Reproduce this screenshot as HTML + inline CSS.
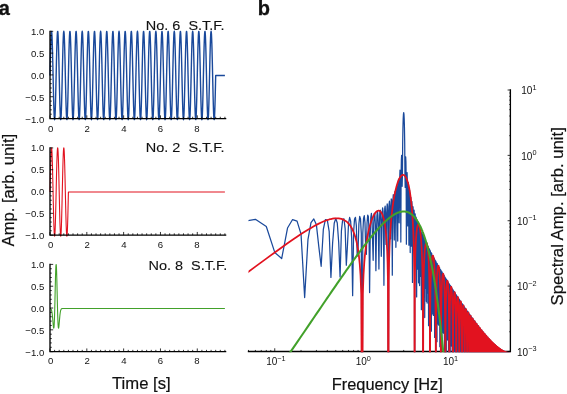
<!DOCTYPE html><html><head><meta charset="utf-8"><style>html,body{margin:0;padding:0;background:#fff}body{width:567px;height:394px;position:relative;overflow:hidden;font-family:"Liberation Sans",sans-serif}</style></head><body><svg width="567" height="394" viewBox="0 0 567 394" style="position:absolute;left:0;top:0;will-change:transform;opacity:0.999;font-family:'Liberation Sans',sans-serif">
<text x="-1.2" y="15.0" font-size="20" font-weight="bold" fill="#111" stroke="#111" stroke-width="0.3">a</text>
<text x="257.7" y="14.9" font-size="20" font-weight="bold" fill="#111" stroke="#111" stroke-width="0.3">b</text>
<path d="M50.00 75.50 L50.18 67.22 L50.37 59.23 L50.55 51.82 L50.74 45.24 L50.92 39.74 L51.10 35.51 L51.29 32.69 L51.47 31.39 L51.66 31.65 L51.84 33.46 L52.03 36.77 L52.21 41.44 L52.39 47.33 L52.58 54.21 L52.76 61.84 L52.95 69.96 L53.13 78.28 L53.31 86.49 L53.50 94.32 L53.68 101.48 L53.87 107.72 L54.05 112.82 L54.23 116.60 L54.42 118.92 L54.60 119.70 L54.79 118.92 L54.97 116.60 L55.15 112.82 L55.34 107.72 L55.52 101.48 L55.71 94.32 L55.89 86.49 L56.08 78.28 L56.26 69.96 L56.44 61.84 L56.63 54.21 L56.81 47.33 L57.00 41.44 L57.18 36.77 L57.36 33.46 L57.55 31.65 L57.73 31.39 L57.92 32.69 L58.10 35.51 L58.28 39.74 L58.47 45.24 L58.65 51.82 L58.84 59.23 L59.02 67.22 L59.20 75.50 L59.39 83.78 L59.57 91.77 L59.76 99.18 L59.94 105.76 L60.13 111.26 L60.31 115.49 L60.49 118.31 L60.68 119.61 L60.86 119.35 L61.05 117.54 L61.23 114.23 L61.41 109.56 L61.60 103.67 L61.78 96.79 L61.97 89.16 L62.15 81.04 L62.33 72.72 L62.52 64.51 L62.70 56.68 L62.89 49.52 L63.07 43.28 L63.26 38.18 L63.44 34.40 L63.62 32.08 L63.81 31.30 L63.99 32.08 L64.18 34.40 L64.36 38.18 L64.54 43.28 L64.73 49.52 L64.91 56.68 L65.10 64.51 L65.28 72.72 L65.46 81.04 L65.65 89.16 L65.83 96.79 L66.02 103.67 L66.20 109.56 L66.38 114.23 L66.57 117.54 L66.75 119.35 L66.94 119.61 L67.12 118.31 L67.31 115.49 L67.49 111.26 L67.67 105.76 L67.86 99.18 L68.04 91.77 L68.23 83.78 L68.41 75.50 L68.59 67.22 L68.78 59.23 L68.96 51.82 L69.15 45.24 L69.33 39.74 L69.51 35.51 L69.70 32.69 L69.88 31.39 L70.07 31.65 L70.25 33.46 L70.44 36.77 L70.62 41.44 L70.80 47.33 L70.99 54.21 L71.17 61.84 L71.36 69.96 L71.54 78.28 L71.72 86.49 L71.91 94.32 L72.09 101.48 L72.28 107.72 L72.46 112.82 L72.64 116.60 L72.83 118.92 L73.01 119.70 L73.20 118.92 L73.38 116.60 L73.56 112.82 L73.75 107.72 L73.93 101.48 L74.12 94.32 L74.30 86.49 L74.49 78.28 L74.67 69.96 L74.85 61.84 L75.04 54.21 L75.22 47.33 L75.41 41.44 L75.59 36.77 L75.77 33.46 L75.96 31.65 L76.14 31.39 L76.33 32.69 L76.51 35.51 L76.69 39.74 L76.88 45.24 L77.06 51.82 L77.25 59.23 L77.43 67.22 L77.62 75.50 L77.80 83.78 L77.98 91.77 L78.17 99.18 L78.35 105.76 L78.54 111.26 L78.72 115.49 L78.90 118.31 L79.09 119.61 L79.27 119.35 L79.46 117.54 L79.64 114.23 L79.82 109.56 L80.01 103.67 L80.19 96.79 L80.38 89.16 L80.56 81.04 L80.74 72.72 L80.93 64.51 L81.11 56.68 L81.30 49.52 L81.48 43.28 L81.67 38.18 L81.85 34.40 L82.03 32.08 L82.22 31.30 L82.40 32.08 L82.59 34.40 L82.77 38.18 L82.95 43.28 L83.14 49.52 L83.32 56.68 L83.51 64.51 L83.69 72.72 L83.87 81.04 L84.06 89.16 L84.24 96.79 L84.43 103.67 L84.61 109.56 L84.79 114.23 L84.98 117.54 L85.16 119.35 L85.35 119.61 L85.53 118.31 L85.72 115.49 L85.90 111.26 L86.08 105.76 L86.27 99.18 L86.45 91.77 L86.64 83.78 L86.82 75.50 L87.00 67.22 L87.19 59.23 L87.37 51.82 L87.56 45.24 L87.74 39.74 L87.92 35.51 L88.11 32.69 L88.29 31.39 L88.48 31.65 L88.66 33.46 L88.85 36.77 L89.03 41.44 L89.21 47.33 L89.40 54.21 L89.58 61.84 L89.77 69.96 L89.95 78.28 L90.13 86.49 L90.32 94.32 L90.50 101.48 L90.69 107.72 L90.87 112.82 L91.05 116.60 L91.24 118.92 L91.42 119.70 L91.61 118.92 L91.79 116.60 L91.97 112.82 L92.16 107.72 L92.34 101.48 L92.53 94.32 L92.71 86.49 L92.90 78.28 L93.08 69.96 L93.26 61.84 L93.45 54.21 L93.63 47.33 L93.82 41.44 L94.00 36.77 L94.18 33.46 L94.37 31.65 L94.55 31.39 L94.74 32.69 L94.92 35.51 L95.10 39.74 L95.29 45.24 L95.47 51.82 L95.66 59.23 L95.84 67.22 L96.03 75.50 L96.21 83.78 L96.39 91.77 L96.58 99.18 L96.76 105.76 L96.95 111.26 L97.13 115.49 L97.31 118.31 L97.50 119.61 L97.68 119.35 L97.87 117.54 L98.05 114.23 L98.23 109.56 L98.42 103.67 L98.60 96.79 L98.79 89.16 L98.97 81.04 L99.15 72.72 L99.34 64.51 L99.52 56.68 L99.71 49.52 L99.89 43.28 L100.08 38.18 L100.26 34.40 L100.44 32.08 L100.63 31.30 L100.81 32.08 L101.00 34.40 L101.18 38.18 L101.36 43.28 L101.55 49.52 L101.73 56.68 L101.92 64.51 L102.10 72.72 L102.28 81.04 L102.47 89.16 L102.65 96.79 L102.84 103.67 L103.02 109.56 L103.20 114.23 L103.39 117.54 L103.57 119.35 L103.76 119.61 L103.94 118.31 L104.13 115.49 L104.31 111.26 L104.49 105.76 L104.68 99.18 L104.86 91.77 L105.05 83.78 L105.23 75.50 L105.41 67.22 L105.60 59.23 L105.78 51.82 L105.97 45.24 L106.15 39.74 L106.33 35.51 L106.52 32.69 L106.70 31.39 L106.89 31.65 L107.07 33.46 L107.26 36.77 L107.44 41.44 L107.62 47.33 L107.81 54.21 L107.99 61.84 L108.18 69.96 L108.36 78.28 L108.54 86.49 L108.73 94.32 L108.91 101.48 L109.10 107.72 L109.28 112.82 L109.46 116.60 L109.65 118.92 L109.83 119.70 L110.02 118.92 L110.20 116.60 L110.38 112.82 L110.57 107.72 L110.75 101.48 L110.94 94.32 L111.12 86.49 L111.31 78.28 L111.49 69.96 L111.67 61.84 L111.86 54.21 L112.04 47.33 L112.23 41.44 L112.41 36.77 L112.59 33.46 L112.78 31.65 L112.96 31.39 L113.15 32.69 L113.33 35.51 L113.51 39.74 L113.70 45.24 L113.88 51.82 L114.07 59.23 L114.25 67.22 L114.44 75.50 L114.62 83.78 L114.80 91.77 L114.99 99.18 L115.17 105.76 L115.36 111.26 L115.54 115.49 L115.72 118.31 L115.91 119.61 L116.09 119.35 L116.28 117.54 L116.46 114.23 L116.64 109.56 L116.83 103.67 L117.01 96.79 L117.20 89.16 L117.38 81.04 L117.56 72.72 L117.75 64.51 L117.93 56.68 L118.12 49.52 L118.30 43.28 L118.49 38.18 L118.67 34.40 L118.85 32.08 L119.04 31.30 L119.22 32.08 L119.41 34.40 L119.59 38.18 L119.77 43.28 L119.96 49.52 L120.14 56.68 L120.33 64.51 L120.51 72.72 L120.69 81.04 L120.88 89.16 L121.06 96.79 L121.25 103.67 L121.43 109.56 L121.61 114.23 L121.80 117.54 L121.98 119.35 L122.17 119.61 L122.35 118.31 L122.54 115.49 L122.72 111.26 L122.90 105.76 L123.09 99.18 L123.27 91.77 L123.46 83.78 L123.64 75.50 L123.82 67.22 L124.01 59.23 L124.19 51.82 L124.38 45.24 L124.56 39.74 L124.74 35.51 L124.93 32.69 L125.11 31.39 L125.30 31.65 L125.48 33.46 L125.67 36.77 L125.85 41.44 L126.03 47.33 L126.22 54.21 L126.40 61.84 L126.59 69.96 L126.77 78.28 L126.95 86.49 L127.14 94.32 L127.32 101.48 L127.51 107.72 L127.69 112.82 L127.87 116.60 L128.06 118.92 L128.24 119.70 L128.43 118.92 L128.61 116.60 L128.79 112.82 L128.98 107.72 L129.16 101.48 L129.35 94.32 L129.53 86.49 L129.72 78.28 L129.90 69.96 L130.08 61.84 L130.27 54.21 L130.45 47.33 L130.64 41.44 L130.82 36.77 L131.00 33.46 L131.19 31.65 L131.37 31.39 L131.56 32.69 L131.74 35.51 L131.92 39.74 L132.11 45.24 L132.29 51.82 L132.48 59.23 L132.66 67.22 L132.84 75.50 L133.03 83.78 L133.21 91.77 L133.40 99.18 L133.58 105.76 L133.77 111.26 L133.95 115.49 L134.13 118.31 L134.32 119.61 L134.50 119.35 L134.69 117.54 L134.87 114.23 L135.05 109.56 L135.24 103.67 L135.42 96.79 L135.61 89.16 L135.79 81.04 L135.97 72.72 L136.16 64.51 L136.34 56.68 L136.53 49.52 L136.71 43.28 L136.90 38.18 L137.08 34.40 L137.26 32.08 L137.45 31.30 L137.63 32.08 L137.82 34.40 L138.00 38.18 L138.18 43.28 L138.37 49.52 L138.55 56.68 L138.74 64.51 L138.92 72.72 L139.10 81.04 L139.29 89.16 L139.47 96.79 L139.66 103.67 L139.84 109.56 L140.02 114.23 L140.21 117.54 L140.39 119.35 L140.58 119.61 L140.76 118.31 L140.95 115.49 L141.13 111.26 L141.31 105.76 L141.50 99.18 L141.68 91.77 L141.87 83.78 L142.05 75.50 L142.23 67.22 L142.42 59.23 L142.60 51.82 L142.79 45.24 L142.97 39.74 L143.15 35.51 L143.34 32.69 L143.52 31.39 L143.71 31.65 L143.89 33.46 L144.08 36.77 L144.26 41.44 L144.44 47.33 L144.63 54.21 L144.81 61.84 L145.00 69.96 L145.18 78.28 L145.36 86.49 L145.55 94.32 L145.73 101.48 L145.92 107.72 L146.10 112.82 L146.28 116.60 L146.47 118.92 L146.65 119.70 L146.84 118.92 L147.02 116.60 L147.20 112.82 L147.39 107.72 L147.57 101.48 L147.76 94.32 L147.94 86.49 L148.13 78.28 L148.31 69.96 L148.49 61.84 L148.68 54.21 L148.86 47.33 L149.05 41.44 L149.23 36.77 L149.41 33.46 L149.60 31.65 L149.78 31.39 L149.97 32.69 L150.15 35.51 L150.33 39.74 L150.52 45.24 L150.70 51.82 L150.89 59.23 L151.07 67.22 L151.25 75.50 L151.44 83.78 L151.62 91.77 L151.81 99.18 L151.99 105.76 L152.18 111.26 L152.36 115.49 L152.54 118.31 L152.73 119.61 L152.91 119.35 L153.10 117.54 L153.28 114.23 L153.46 109.56 L153.65 103.67 L153.83 96.79 L154.02 89.16 L154.20 81.04 L154.38 72.72 L154.57 64.51 L154.75 56.68 L154.94 49.52 L155.12 43.28 L155.31 38.18 L155.49 34.40 L155.67 32.08 L155.86 31.30 L156.04 32.08 L156.23 34.40 L156.41 38.18 L156.59 43.28 L156.78 49.52 L156.96 56.68 L157.15 64.51 L157.33 72.72 L157.51 81.04 L157.70 89.16 L157.88 96.79 L158.07 103.67 L158.25 109.56 L158.43 114.23 L158.62 117.54 L158.80 119.35 L158.99 119.61 L159.17 118.31 L159.36 115.49 L159.54 111.26 L159.72 105.76 L159.91 99.18 L160.09 91.77 L160.28 83.78 L160.46 75.50 L160.64 67.22 L160.83 59.23 L161.01 51.82 L161.20 45.24 L161.38 39.74 L161.56 35.51 L161.75 32.69 L161.93 31.39 L162.12 31.65 L162.30 33.46 L162.49 36.77 L162.67 41.44 L162.85 47.33 L163.04 54.21 L163.22 61.84 L163.41 69.96 L163.59 78.28 L163.77 86.49 L163.96 94.32 L164.14 101.48 L164.33 107.72 L164.51 112.82 L164.69 116.60 L164.88 118.92 L165.06 119.70 L165.25 118.92 L165.43 116.60 L165.61 112.82 L165.80 107.72 L165.98 101.48 L166.17 94.32 L166.35 86.49 L166.54 78.28 L166.72 69.96 L166.90 61.84 L167.09 54.21 L167.27 47.33 L167.46 41.44 L167.64 36.77 L167.82 33.46 L168.01 31.65 L168.19 31.39 L168.38 32.69 L168.56 35.51 L168.74 39.74 L168.93 45.24 L169.11 51.82 L169.30 59.23 L169.48 67.22 L169.67 75.50 L169.85 83.78 L170.03 91.77 L170.22 99.18 L170.40 105.76 L170.59 111.26 L170.77 115.49 L170.95 118.31 L171.14 119.61 L171.32 119.35 L171.51 117.54 L171.69 114.23 L171.87 109.56 L172.06 103.67 L172.24 96.79 L172.43 89.16 L172.61 81.04 L172.79 72.72 L172.98 64.51 L173.16 56.68 L173.35 49.52 L173.53 43.28 L173.72 38.18 L173.90 34.40 L174.08 32.08 L174.27 31.30 L174.45 32.08 L174.64 34.40 L174.82 38.18 L175.00 43.28 L175.19 49.52 L175.37 56.68 L175.56 64.51 L175.74 72.72 L175.92 81.04 L176.11 89.16 L176.29 96.79 L176.48 103.67 L176.66 109.56 L176.84 114.23 L177.03 117.54 L177.21 119.35 L177.40 119.61 L177.58 118.31 L177.77 115.49 L177.95 111.26 L178.13 105.76 L178.32 99.18 L178.50 91.77 L178.69 83.78 L178.87 75.50 L179.05 67.22 L179.24 59.23 L179.42 51.82 L179.61 45.24 L179.79 39.74 L179.97 35.51 L180.16 32.69 L180.34 31.39 L180.53 31.65 L180.71 33.46 L180.90 36.77 L181.08 41.44 L181.26 47.33 L181.45 54.21 L181.63 61.84 L181.82 69.96 L182.00 78.28 L182.18 86.49 L182.37 94.32 L182.55 101.48 L182.74 107.72 L182.92 112.82 L183.10 116.60 L183.29 118.92 L183.47 119.70 L183.66 118.92 L183.84 116.60 L184.02 112.82 L184.21 107.72 L184.39 101.48 L184.58 94.32 L184.76 86.49 L184.95 78.28 L185.13 69.96 L185.31 61.84 L185.50 54.21 L185.68 47.33 L185.87 41.44 L186.05 36.77 L186.23 33.46 L186.42 31.65 L186.60 31.39 L186.79 32.69 L186.97 35.51 L187.15 39.74 L187.34 45.24 L187.52 51.82 L187.71 59.23 L187.89 67.22 L188.07 75.50 L188.26 83.78 L188.44 91.77 L188.63 99.18 L188.81 105.76 L189.00 111.26 L189.18 115.49 L189.36 118.31 L189.55 119.61 L189.73 119.35 L189.92 117.54 L190.10 114.23 L190.28 109.56 L190.47 103.67 L190.65 96.79 L190.84 89.16 L191.02 81.04 L191.20 72.72 L191.39 64.51 L191.57 56.68 L191.76 49.52 L191.94 43.28 L192.13 38.18 L192.31 34.40 L192.49 32.08 L192.68 31.30 L192.86 32.08 L193.05 34.40 L193.23 38.18 L193.41 43.28 L193.60 49.52 L193.78 56.68 L193.97 64.51 L194.15 72.72 L194.33 81.04 L194.52 89.16 L194.70 96.79 L194.89 103.67 L195.07 109.56 L195.25 114.23 L195.44 117.54 L195.62 119.35 L195.81 119.61 L195.99 118.31 L196.18 115.49 L196.36 111.26 L196.54 105.76 L196.73 99.18 L196.91 91.77 L197.10 83.78 L197.28 75.50 L197.46 67.22 L197.65 59.23 L197.83 51.82 L198.02 45.24 L198.20 39.74 L198.38 35.51 L198.57 32.69 L198.75 31.39 L198.94 31.65 L199.12 33.46 L199.31 36.77 L199.49 41.44 L199.67 47.33 L199.86 54.21 L200.04 61.84 L200.23 69.96 L200.41 78.28 L200.59 86.49 L200.78 94.32 L200.96 101.48 L201.15 107.72 L201.33 112.82 L201.51 116.60 L201.70 118.92 L201.88 119.70 L202.07 118.92 L202.25 116.60 L202.43 112.82 L202.62 107.72 L202.80 101.48 L202.99 94.32 L203.17 86.49 L203.36 78.28 L203.54 69.96 L203.72 61.84 L203.91 54.21 L204.09 47.33 L204.28 41.44 L204.46 36.77 L204.64 33.46 L204.83 31.65 L205.01 31.39 L205.20 32.69 L205.38 35.51 L205.56 39.74 L205.75 45.24 L205.93 51.82 L206.12 59.23 L206.30 67.22 L206.49 75.50 L206.67 83.78 L206.85 91.77 L207.04 99.18 L207.22 105.76 L207.41 111.26 L207.59 115.49 L207.77 118.31 L207.96 119.61 L208.14 119.35 L208.33 117.54 L208.51 114.23 L208.69 109.56 L208.88 103.67 L209.06 96.79 L209.25 89.16 L209.43 81.04 L209.61 72.72 L209.80 64.51 L209.98 56.68 L210.17 49.52 L210.35 43.28 L210.54 38.18 L210.72 34.40 L210.90 32.08 L211.09 31.30 L211.27 32.08 L211.46 34.40 L211.64 38.18 L211.82 43.28 L212.01 49.52 L212.19 56.68 L212.38 64.51 L212.56 72.72 L212.74 81.04 L212.93 89.16 L213.11 96.79 L213.30 103.67 L213.48 109.56 L213.66 114.23 L213.85 117.54 L214.03 119.35 L214.22 119.61 L214.40 118.31 L214.59 115.49 L214.77 111.26 L214.95 105.76 L215.14 99.18 L215.32 91.77 L215.51 83.78 L215.69 75.50 L215.87 75.50 L216.06 75.50 L216.24 75.50 L216.43 75.50 L216.61 75.50 L216.79 75.50 L216.98 75.50 L217.16 75.50 L217.35 75.50 L217.53 75.50 L217.72 75.50 L217.90 75.50 L218.08 75.50 L218.27 75.50 L218.45 75.50 L218.64 75.50 L218.82 75.50 L219.00 75.50 L219.19 75.50 L219.37 75.50 L219.56 75.50 L219.74 75.50 L219.92 75.50 L220.11 75.50 L220.29 75.50 L220.48 75.50 L220.66 75.50 L220.84 75.50 L221.03 75.50 L221.21 75.50 L221.40 75.50 L221.58 75.50 L221.77 75.50 L221.95 75.50 L222.13 75.50 L222.32 75.50 L222.50 75.50 L222.69 75.50 L222.87 75.50 L223.05 75.50 L223.24 75.50 L223.42 75.50 L223.61 75.50 L223.79 75.50 L223.97 75.50 L224.16 75.50 L224.34 75.50 L224.53 75.50 L224.71 75.50 L224.90 75.50" fill="none" stroke="#1a499b" stroke-width="1.40" stroke-linejoin="round"/>
<path d="M50.00 31.30 V118.55 H225.60" fill="none" stroke="#000" stroke-width="1.35" stroke-linecap="square"/>
<path d="M50.00 118.55 h3.20 M50.00 114.19 h1.80 M50.00 109.83 h1.80 M50.00 105.46 h1.80 M50.00 101.10 h1.80 M50.00 96.74 h3.20 M50.00 92.38 h1.80 M50.00 88.01 h1.80 M50.00 83.65 h1.80 M50.00 79.29 h1.80 M50.00 74.92 h3.20 M50.00 70.56 h1.80 M50.00 66.20 h1.80 M50.00 61.84 h1.80 M50.00 57.47 h1.80 M50.00 53.11 h3.20 M50.00 48.75 h1.80 M50.00 44.39 h1.80 M50.00 40.02 h1.80 M50.00 35.66 h1.80 M50.00 31.30 h3.20 M50.00 118.55 v-3.20 M54.60 118.55 v-1.80 M59.20 118.55 v-1.80 M63.81 118.55 v-1.80 M68.41 118.55 v-1.80 M73.01 118.55 v-1.80 M77.62 118.55 v-1.80 M82.22 118.55 v-1.80 M86.82 118.55 v-3.20 M91.42 118.55 v-1.80 M96.03 118.55 v-1.80 M100.63 118.55 v-1.80 M105.23 118.55 v-1.80 M109.83 118.55 v-1.80 M114.44 118.55 v-1.80 M119.04 118.55 v-1.80 M123.64 118.55 v-3.20 M128.24 118.55 v-1.80 M132.84 118.55 v-1.80 M137.45 118.55 v-1.80 M142.05 118.55 v-1.80 M146.65 118.55 v-1.80 M151.25 118.55 v-1.80 M155.86 118.55 v-1.80 M160.46 118.55 v-3.20 M165.06 118.55 v-1.80 M169.67 118.55 v-1.80 M174.27 118.55 v-1.80 M178.87 118.55 v-1.80 M183.47 118.55 v-1.80 M188.07 118.55 v-1.80 M192.68 118.55 v-1.80 M197.28 118.55 v-3.20 M201.88 118.55 v-1.80 M206.49 118.55 v-1.80 M211.09 118.55 v-1.80 M215.69 118.55 v-1.80 M220.29 118.55 v-1.80 M224.90 118.55 v-1.80" stroke="#000" stroke-width="0.8" fill="none"/>
<text x="44.3" y="34.70" font-size="9.6" text-anchor="end" fill="#111">1.0</text>
<text x="44.3" y="56.71" font-size="9.6" text-anchor="end" fill="#111">0.5</text>
<text x="44.3" y="78.73" font-size="9.6" text-anchor="end" fill="#111">0.0</text>
<text x="44.3" y="100.74" font-size="9.6" text-anchor="end" fill="#111">−0.5</text>
<text x="44.3" y="122.75" font-size="9.6" text-anchor="end" fill="#111">−1.0</text>
<text x="50.60" y="131.75" font-size="9.6" text-anchor="middle" fill="#111">0</text>
<text x="87.20" y="131.75" font-size="9.6" text-anchor="middle" fill="#111">2</text>
<text x="123.80" y="131.75" font-size="9.6" text-anchor="middle" fill="#111">4</text>
<text x="160.40" y="131.75" font-size="9.6" text-anchor="middle" fill="#111">6</text>
<text x="197.00" y="131.75" font-size="9.6" text-anchor="middle" fill="#111">8</text>
<text x="145.80" y="30.10" font-size="13" textLength="78.8" lengthAdjust="spacingAndGlyphs" fill="#111" stroke="#111" stroke-width="0.12" xml:space="preserve">No. 6  S.T.F.</text>
<path d="M50.00 192.00 L50.18 183.72 L50.37 175.73 L50.55 168.32 L50.74 161.74 L50.92 156.24 L51.10 152.01 L51.29 149.19 L51.47 147.89 L51.66 148.15 L51.84 149.96 L52.03 153.27 L52.21 157.94 L52.39 163.83 L52.58 170.71 L52.76 178.34 L52.95 186.46 L53.13 194.78 L53.31 202.99 L53.50 210.82 L53.68 217.98 L53.87 224.22 L54.05 229.32 L54.23 233.10 L54.42 235.42 L54.60 236.20 L54.79 235.42 L54.97 233.10 L55.15 229.32 L55.34 224.22 L55.52 217.98 L55.71 210.82 L55.89 202.99 L56.08 194.78 L56.26 186.46 L56.44 178.34 L56.63 170.71 L56.81 163.83 L57.00 157.94 L57.18 153.27 L57.36 149.96 L57.55 148.15 L57.73 147.89 L57.92 149.19 L58.10 152.01 L58.28 156.24 L58.47 161.74 L58.65 168.32 L58.84 175.73 L59.02 183.72 L59.20 192.00 L59.39 200.28 L59.57 208.27 L59.76 215.68 L59.94 222.26 L60.13 227.76 L60.31 231.99 L60.49 234.81 L60.68 236.11 L60.86 235.85 L61.05 234.04 L61.23 230.73 L61.41 226.06 L61.60 220.17 L61.78 213.29 L61.97 205.66 L62.15 197.54 L62.33 189.22 L62.52 181.01 L62.70 173.18 L62.89 166.02 L63.07 159.78 L63.26 154.68 L63.44 150.90 L63.62 148.58 L63.81 147.80 L63.99 148.58 L64.18 150.90 L64.36 154.68 L64.54 159.78 L64.73 166.02 L64.91 173.18 L65.10 181.01 L65.28 189.22 L65.46 197.54 L65.65 205.66 L65.83 213.29 L66.02 220.17 L66.20 226.06 L66.38 230.73 L66.57 234.04 L66.75 235.85 L66.94 236.11 L67.12 234.81 L67.31 231.99 L67.49 227.76 L67.67 222.26 L67.86 215.68 L68.04 208.27 L68.23 200.28 L68.41 192.00 L68.59 192.00 L68.78 192.00 L68.96 192.00 L69.15 192.00 L69.33 192.00 L69.51 192.00 L69.70 192.00 L69.88 192.00 L70.07 192.00 L70.25 192.00 L70.44 192.00 L70.62 192.00 L70.80 192.00 L70.99 192.00 L71.17 192.00 L71.36 192.00 L71.54 192.00 L71.72 192.00 L71.91 192.00 L72.09 192.00 L72.28 192.00 L72.46 192.00 L72.64 192.00 L72.83 192.00 L73.01 192.00 L73.20 192.00 L73.38 192.00 L73.56 192.00 L73.75 192.00 L73.93 192.00 L74.12 192.00 L74.30 192.00 L74.49 192.00 L74.67 192.00 L74.85 192.00 L75.04 192.00 L75.22 192.00 L75.41 192.00 L75.59 192.00 L75.77 192.00 L75.96 192.00 L76.14 192.00 L76.33 192.00 L76.51 192.00 L76.69 192.00 L76.88 192.00 L77.06 192.00 L77.25 192.00 L77.43 192.00 L77.62 192.00 L77.80 192.00 L77.98 192.00 L78.17 192.00 L78.35 192.00 L78.54 192.00 L78.72 192.00 L78.90 192.00 L79.09 192.00 L79.27 192.00 L79.46 192.00 L79.64 192.00 L79.82 192.00 L80.01 192.00 L80.19 192.00 L80.38 192.00 L80.56 192.00 L80.74 192.00 L80.93 192.00 L81.11 192.00 L81.30 192.00 L81.48 192.00 L81.67 192.00 L81.85 192.00 L82.03 192.00 L82.22 192.00 L82.40 192.00 L82.59 192.00 L82.77 192.00 L82.95 192.00 L83.14 192.00 L83.32 192.00 L83.51 192.00 L83.69 192.00 L83.87 192.00 L84.06 192.00 L84.24 192.00 L84.43 192.00 L84.61 192.00 L84.79 192.00 L84.98 192.00 L85.16 192.00 L85.35 192.00 L85.53 192.00 L85.72 192.00 L85.90 192.00 L86.08 192.00 L86.27 192.00 L86.45 192.00 L86.64 192.00 L86.82 192.00 L87.00 192.00 L87.19 192.00 L87.37 192.00 L87.56 192.00 L87.74 192.00 L87.92 192.00 L88.11 192.00 L88.29 192.00 L88.48 192.00 L88.66 192.00 L88.85 192.00 L89.03 192.00 L89.21 192.00 L89.40 192.00 L89.58 192.00 L89.77 192.00 L89.95 192.00 L90.13 192.00 L90.32 192.00 L90.50 192.00 L90.69 192.00 L90.87 192.00 L91.05 192.00 L91.24 192.00 L91.42 192.00 L91.61 192.00 L91.79 192.00 L91.97 192.00 L92.16 192.00 L92.34 192.00 L92.53 192.00 L92.71 192.00 L92.90 192.00 L93.08 192.00 L93.26 192.00 L93.45 192.00 L93.63 192.00 L93.82 192.00 L94.00 192.00 L94.18 192.00 L94.37 192.00 L94.55 192.00 L94.74 192.00 L94.92 192.00 L95.10 192.00 L95.29 192.00 L95.47 192.00 L95.66 192.00 L95.84 192.00 L96.03 192.00 L96.21 192.00 L96.39 192.00 L96.58 192.00 L96.76 192.00 L96.95 192.00 L97.13 192.00 L97.31 192.00 L97.50 192.00 L97.68 192.00 L97.87 192.00 L98.05 192.00 L98.23 192.00 L98.42 192.00 L98.60 192.00 L98.79 192.00 L98.97 192.00 L99.15 192.00 L99.34 192.00 L99.52 192.00 L99.71 192.00 L99.89 192.00 L100.08 192.00 L100.26 192.00 L100.44 192.00 L100.63 192.00 L100.81 192.00 L101.00 192.00 L101.18 192.00 L101.36 192.00 L101.55 192.00 L101.73 192.00 L101.92 192.00 L102.10 192.00 L102.28 192.00 L102.47 192.00 L102.65 192.00 L102.84 192.00 L103.02 192.00 L103.20 192.00 L103.39 192.00 L103.57 192.00 L103.76 192.00 L103.94 192.00 L104.13 192.00 L104.31 192.00 L104.49 192.00 L104.68 192.00 L104.86 192.00 L105.05 192.00 L105.23 192.00 L105.41 192.00 L105.60 192.00 L105.78 192.00 L105.97 192.00 L106.15 192.00 L106.33 192.00 L106.52 192.00 L106.70 192.00 L106.89 192.00 L107.07 192.00 L107.26 192.00 L107.44 192.00 L107.62 192.00 L107.81 192.00 L107.99 192.00 L108.18 192.00 L108.36 192.00 L108.54 192.00 L108.73 192.00 L108.91 192.00 L109.10 192.00 L109.28 192.00 L109.46 192.00 L109.65 192.00 L109.83 192.00 L110.02 192.00 L110.20 192.00 L110.38 192.00 L110.57 192.00 L110.75 192.00 L110.94 192.00 L111.12 192.00 L111.31 192.00 L111.49 192.00 L111.67 192.00 L111.86 192.00 L112.04 192.00 L112.23 192.00 L112.41 192.00 L112.59 192.00 L112.78 192.00 L112.96 192.00 L113.15 192.00 L113.33 192.00 L113.51 192.00 L113.70 192.00 L113.88 192.00 L114.07 192.00 L114.25 192.00 L114.44 192.00 L114.62 192.00 L114.80 192.00 L114.99 192.00 L115.17 192.00 L115.36 192.00 L115.54 192.00 L115.72 192.00 L115.91 192.00 L116.09 192.00 L116.28 192.00 L116.46 192.00 L116.64 192.00 L116.83 192.00 L117.01 192.00 L117.20 192.00 L117.38 192.00 L117.56 192.00 L117.75 192.00 L117.93 192.00 L118.12 192.00 L118.30 192.00 L118.49 192.00 L118.67 192.00 L118.85 192.00 L119.04 192.00 L119.22 192.00 L119.41 192.00 L119.59 192.00 L119.77 192.00 L119.96 192.00 L120.14 192.00 L120.33 192.00 L120.51 192.00 L120.69 192.00 L120.88 192.00 L121.06 192.00 L121.25 192.00 L121.43 192.00 L121.61 192.00 L121.80 192.00 L121.98 192.00 L122.17 192.00 L122.35 192.00 L122.54 192.00 L122.72 192.00 L122.90 192.00 L123.09 192.00 L123.27 192.00 L123.46 192.00 L123.64 192.00 L123.82 192.00 L124.01 192.00 L124.19 192.00 L124.38 192.00 L124.56 192.00 L124.74 192.00 L124.93 192.00 L125.11 192.00 L125.30 192.00 L125.48 192.00 L125.67 192.00 L125.85 192.00 L126.03 192.00 L126.22 192.00 L126.40 192.00 L126.59 192.00 L126.77 192.00 L126.95 192.00 L127.14 192.00 L127.32 192.00 L127.51 192.00 L127.69 192.00 L127.87 192.00 L128.06 192.00 L128.24 192.00 L128.43 192.00 L128.61 192.00 L128.79 192.00 L128.98 192.00 L129.16 192.00 L129.35 192.00 L129.53 192.00 L129.72 192.00 L129.90 192.00 L130.08 192.00 L130.27 192.00 L130.45 192.00 L130.64 192.00 L130.82 192.00 L131.00 192.00 L131.19 192.00 L131.37 192.00 L131.56 192.00 L131.74 192.00 L131.92 192.00 L132.11 192.00 L132.29 192.00 L132.48 192.00 L132.66 192.00 L132.84 192.00 L133.03 192.00 L133.21 192.00 L133.40 192.00 L133.58 192.00 L133.77 192.00 L133.95 192.00 L134.13 192.00 L134.32 192.00 L134.50 192.00 L134.69 192.00 L134.87 192.00 L135.05 192.00 L135.24 192.00 L135.42 192.00 L135.61 192.00 L135.79 192.00 L135.97 192.00 L136.16 192.00 L136.34 192.00 L136.53 192.00 L136.71 192.00 L136.90 192.00 L137.08 192.00 L137.26 192.00 L137.45 192.00 L137.63 192.00 L137.82 192.00 L138.00 192.00 L138.18 192.00 L138.37 192.00 L138.55 192.00 L138.74 192.00 L138.92 192.00 L139.10 192.00 L139.29 192.00 L139.47 192.00 L139.66 192.00 L139.84 192.00 L140.02 192.00 L140.21 192.00 L140.39 192.00 L140.58 192.00 L140.76 192.00 L140.95 192.00 L141.13 192.00 L141.31 192.00 L141.50 192.00 L141.68 192.00 L141.87 192.00 L142.05 192.00 L142.23 192.00 L142.42 192.00 L142.60 192.00 L142.79 192.00 L142.97 192.00 L143.15 192.00 L143.34 192.00 L143.52 192.00 L143.71 192.00 L143.89 192.00 L144.08 192.00 L144.26 192.00 L144.44 192.00 L144.63 192.00 L144.81 192.00 L145.00 192.00 L145.18 192.00 L145.36 192.00 L145.55 192.00 L145.73 192.00 L145.92 192.00 L146.10 192.00 L146.28 192.00 L146.47 192.00 L146.65 192.00 L146.84 192.00 L147.02 192.00 L147.20 192.00 L147.39 192.00 L147.57 192.00 L147.76 192.00 L147.94 192.00 L148.13 192.00 L148.31 192.00 L148.49 192.00 L148.68 192.00 L148.86 192.00 L149.05 192.00 L149.23 192.00 L149.41 192.00 L149.60 192.00 L149.78 192.00 L149.97 192.00 L150.15 192.00 L150.33 192.00 L150.52 192.00 L150.70 192.00 L150.89 192.00 L151.07 192.00 L151.25 192.00 L151.44 192.00 L151.62 192.00 L151.81 192.00 L151.99 192.00 L152.18 192.00 L152.36 192.00 L152.54 192.00 L152.73 192.00 L152.91 192.00 L153.10 192.00 L153.28 192.00 L153.46 192.00 L153.65 192.00 L153.83 192.00 L154.02 192.00 L154.20 192.00 L154.38 192.00 L154.57 192.00 L154.75 192.00 L154.94 192.00 L155.12 192.00 L155.31 192.00 L155.49 192.00 L155.67 192.00 L155.86 192.00 L156.04 192.00 L156.23 192.00 L156.41 192.00 L156.59 192.00 L156.78 192.00 L156.96 192.00 L157.15 192.00 L157.33 192.00 L157.51 192.00 L157.70 192.00 L157.88 192.00 L158.07 192.00 L158.25 192.00 L158.43 192.00 L158.62 192.00 L158.80 192.00 L158.99 192.00 L159.17 192.00 L159.36 192.00 L159.54 192.00 L159.72 192.00 L159.91 192.00 L160.09 192.00 L160.28 192.00 L160.46 192.00 L160.64 192.00 L160.83 192.00 L161.01 192.00 L161.20 192.00 L161.38 192.00 L161.56 192.00 L161.75 192.00 L161.93 192.00 L162.12 192.00 L162.30 192.00 L162.49 192.00 L162.67 192.00 L162.85 192.00 L163.04 192.00 L163.22 192.00 L163.41 192.00 L163.59 192.00 L163.77 192.00 L163.96 192.00 L164.14 192.00 L164.33 192.00 L164.51 192.00 L164.69 192.00 L164.88 192.00 L165.06 192.00 L165.25 192.00 L165.43 192.00 L165.61 192.00 L165.80 192.00 L165.98 192.00 L166.17 192.00 L166.35 192.00 L166.54 192.00 L166.72 192.00 L166.90 192.00 L167.09 192.00 L167.27 192.00 L167.46 192.00 L167.64 192.00 L167.82 192.00 L168.01 192.00 L168.19 192.00 L168.38 192.00 L168.56 192.00 L168.74 192.00 L168.93 192.00 L169.11 192.00 L169.30 192.00 L169.48 192.00 L169.67 192.00 L169.85 192.00 L170.03 192.00 L170.22 192.00 L170.40 192.00 L170.59 192.00 L170.77 192.00 L170.95 192.00 L171.14 192.00 L171.32 192.00 L171.51 192.00 L171.69 192.00 L171.87 192.00 L172.06 192.00 L172.24 192.00 L172.43 192.00 L172.61 192.00 L172.79 192.00 L172.98 192.00 L173.16 192.00 L173.35 192.00 L173.53 192.00 L173.72 192.00 L173.90 192.00 L174.08 192.00 L174.27 192.00 L174.45 192.00 L174.64 192.00 L174.82 192.00 L175.00 192.00 L175.19 192.00 L175.37 192.00 L175.56 192.00 L175.74 192.00 L175.92 192.00 L176.11 192.00 L176.29 192.00 L176.48 192.00 L176.66 192.00 L176.84 192.00 L177.03 192.00 L177.21 192.00 L177.40 192.00 L177.58 192.00 L177.77 192.00 L177.95 192.00 L178.13 192.00 L178.32 192.00 L178.50 192.00 L178.69 192.00 L178.87 192.00 L179.05 192.00 L179.24 192.00 L179.42 192.00 L179.61 192.00 L179.79 192.00 L179.97 192.00 L180.16 192.00 L180.34 192.00 L180.53 192.00 L180.71 192.00 L180.90 192.00 L181.08 192.00 L181.26 192.00 L181.45 192.00 L181.63 192.00 L181.82 192.00 L182.00 192.00 L182.18 192.00 L182.37 192.00 L182.55 192.00 L182.74 192.00 L182.92 192.00 L183.10 192.00 L183.29 192.00 L183.47 192.00 L183.66 192.00 L183.84 192.00 L184.02 192.00 L184.21 192.00 L184.39 192.00 L184.58 192.00 L184.76 192.00 L184.95 192.00 L185.13 192.00 L185.31 192.00 L185.50 192.00 L185.68 192.00 L185.87 192.00 L186.05 192.00 L186.23 192.00 L186.42 192.00 L186.60 192.00 L186.79 192.00 L186.97 192.00 L187.15 192.00 L187.34 192.00 L187.52 192.00 L187.71 192.00 L187.89 192.00 L188.07 192.00 L188.26 192.00 L188.44 192.00 L188.63 192.00 L188.81 192.00 L189.00 192.00 L189.18 192.00 L189.36 192.00 L189.55 192.00 L189.73 192.00 L189.92 192.00 L190.10 192.00 L190.28 192.00 L190.47 192.00 L190.65 192.00 L190.84 192.00 L191.02 192.00 L191.20 192.00 L191.39 192.00 L191.57 192.00 L191.76 192.00 L191.94 192.00 L192.13 192.00 L192.31 192.00 L192.49 192.00 L192.68 192.00 L192.86 192.00 L193.05 192.00 L193.23 192.00 L193.41 192.00 L193.60 192.00 L193.78 192.00 L193.97 192.00 L194.15 192.00 L194.33 192.00 L194.52 192.00 L194.70 192.00 L194.89 192.00 L195.07 192.00 L195.25 192.00 L195.44 192.00 L195.62 192.00 L195.81 192.00 L195.99 192.00 L196.18 192.00 L196.36 192.00 L196.54 192.00 L196.73 192.00 L196.91 192.00 L197.10 192.00 L197.28 192.00 L197.46 192.00 L197.65 192.00 L197.83 192.00 L198.02 192.00 L198.20 192.00 L198.38 192.00 L198.57 192.00 L198.75 192.00 L198.94 192.00 L199.12 192.00 L199.31 192.00 L199.49 192.00 L199.67 192.00 L199.86 192.00 L200.04 192.00 L200.23 192.00 L200.41 192.00 L200.59 192.00 L200.78 192.00 L200.96 192.00 L201.15 192.00 L201.33 192.00 L201.51 192.00 L201.70 192.00 L201.88 192.00 L202.07 192.00 L202.25 192.00 L202.43 192.00 L202.62 192.00 L202.80 192.00 L202.99 192.00 L203.17 192.00 L203.36 192.00 L203.54 192.00 L203.72 192.00 L203.91 192.00 L204.09 192.00 L204.28 192.00 L204.46 192.00 L204.64 192.00 L204.83 192.00 L205.01 192.00 L205.20 192.00 L205.38 192.00 L205.56 192.00 L205.75 192.00 L205.93 192.00 L206.12 192.00 L206.30 192.00 L206.49 192.00 L206.67 192.00 L206.85 192.00 L207.04 192.00 L207.22 192.00 L207.41 192.00 L207.59 192.00 L207.77 192.00 L207.96 192.00 L208.14 192.00 L208.33 192.00 L208.51 192.00 L208.69 192.00 L208.88 192.00 L209.06 192.00 L209.25 192.00 L209.43 192.00 L209.61 192.00 L209.80 192.00 L209.98 192.00 L210.17 192.00 L210.35 192.00 L210.54 192.00 L210.72 192.00 L210.90 192.00 L211.09 192.00 L211.27 192.00 L211.46 192.00 L211.64 192.00 L211.82 192.00 L212.01 192.00 L212.19 192.00 L212.38 192.00 L212.56 192.00 L212.74 192.00 L212.93 192.00 L213.11 192.00 L213.30 192.00 L213.48 192.00 L213.66 192.00 L213.85 192.00 L214.03 192.00 L214.22 192.00 L214.40 192.00 L214.59 192.00 L214.77 192.00 L214.95 192.00 L215.14 192.00 L215.32 192.00 L215.51 192.00 L215.69 192.00 L215.87 192.00 L216.06 192.00 L216.24 192.00 L216.43 192.00 L216.61 192.00 L216.79 192.00 L216.98 192.00 L217.16 192.00 L217.35 192.00 L217.53 192.00 L217.72 192.00 L217.90 192.00 L218.08 192.00 L218.27 192.00 L218.45 192.00 L218.64 192.00 L218.82 192.00 L219.00 192.00 L219.19 192.00 L219.37 192.00 L219.56 192.00 L219.74 192.00 L219.92 192.00 L220.11 192.00 L220.29 192.00 L220.48 192.00 L220.66 192.00 L220.84 192.00 L221.03 192.00 L221.21 192.00 L221.40 192.00 L221.58 192.00 L221.77 192.00 L221.95 192.00 L222.13 192.00 L222.32 192.00 L222.50 192.00 L222.69 192.00 L222.87 192.00 L223.05 192.00 L223.24 192.00 L223.42 192.00 L223.61 192.00 L223.79 192.00 L223.97 192.00 L224.16 192.00 L224.34 192.00 L224.53 192.00 L224.71 192.00 L224.90 192.00" fill="none" stroke="#e2121f" stroke-width="1.10" stroke-linejoin="round"/>
<path d="M50.00 147.90 V235.15 H225.60" fill="none" stroke="#000" stroke-width="1.35" stroke-linecap="square"/>
<path d="M50.00 235.15 h3.20 M50.00 230.79 h1.80 M50.00 226.43 h1.80 M50.00 222.06 h1.80 M50.00 217.70 h1.80 M50.00 213.34 h3.20 M50.00 208.97 h1.80 M50.00 204.61 h1.80 M50.00 200.25 h1.80 M50.00 195.89 h1.80 M50.00 191.53 h3.20 M50.00 187.16 h1.80 M50.00 182.80 h1.80 M50.00 178.44 h1.80 M50.00 174.07 h1.80 M50.00 169.71 h3.20 M50.00 165.35 h1.80 M50.00 160.99 h1.80 M50.00 156.62 h1.80 M50.00 152.26 h1.80 M50.00 147.90 h3.20 M50.00 235.15 v-3.20 M54.60 235.15 v-1.80 M59.20 235.15 v-1.80 M63.81 235.15 v-1.80 M68.41 235.15 v-1.80 M73.01 235.15 v-1.80 M77.62 235.15 v-1.80 M82.22 235.15 v-1.80 M86.82 235.15 v-3.20 M91.42 235.15 v-1.80 M96.03 235.15 v-1.80 M100.63 235.15 v-1.80 M105.23 235.15 v-1.80 M109.83 235.15 v-1.80 M114.44 235.15 v-1.80 M119.04 235.15 v-1.80 M123.64 235.15 v-3.20 M128.24 235.15 v-1.80 M132.84 235.15 v-1.80 M137.45 235.15 v-1.80 M142.05 235.15 v-1.80 M146.65 235.15 v-1.80 M151.25 235.15 v-1.80 M155.86 235.15 v-1.80 M160.46 235.15 v-3.20 M165.06 235.15 v-1.80 M169.67 235.15 v-1.80 M174.27 235.15 v-1.80 M178.87 235.15 v-1.80 M183.47 235.15 v-1.80 M188.07 235.15 v-1.80 M192.68 235.15 v-1.80 M197.28 235.15 v-3.20 M201.88 235.15 v-1.80 M206.49 235.15 v-1.80 M211.09 235.15 v-1.80 M215.69 235.15 v-1.80 M220.29 235.15 v-1.80 M224.90 235.15 v-1.80" stroke="#000" stroke-width="0.8" fill="none"/>
<text x="44.3" y="151.30" font-size="9.6" text-anchor="end" fill="#111">1.0</text>
<text x="44.3" y="173.31" font-size="9.6" text-anchor="end" fill="#111">0.5</text>
<text x="44.3" y="195.33" font-size="9.6" text-anchor="end" fill="#111">0.0</text>
<text x="44.3" y="217.34" font-size="9.6" text-anchor="end" fill="#111">−0.5</text>
<text x="44.3" y="239.35" font-size="9.6" text-anchor="end" fill="#111">−1.0</text>
<text x="50.60" y="248.25" font-size="9.6" text-anchor="middle" fill="#111">0</text>
<text x="87.20" y="248.25" font-size="9.6" text-anchor="middle" fill="#111">2</text>
<text x="123.80" y="248.25" font-size="9.6" text-anchor="middle" fill="#111">4</text>
<text x="160.40" y="248.25" font-size="9.6" text-anchor="middle" fill="#111">6</text>
<text x="197.00" y="248.25" font-size="9.6" text-anchor="middle" fill="#111">8</text>
<text x="145.80" y="152.40" font-size="13" textLength="78.8" lengthAdjust="spacingAndGlyphs" fill="#111" stroke="#111" stroke-width="0.12" xml:space="preserve">No. 2  S.T.F.</text>
<path d="M50.00 308.54 L50.18 308.57 L50.37 308.62 L50.55 308.69 L50.74 308.80 L50.92 308.97 L51.10 309.21 L51.29 309.56 L51.47 310.04 L51.66 310.69 L51.84 311.54 L52.03 312.64 L52.21 314.00 L52.39 315.63 L52.58 317.51 L52.76 319.60 L52.95 321.79 L53.13 323.96 L53.31 325.90 L53.50 327.38 L53.68 328.17 L53.87 327.98 L54.05 326.60 L54.23 323.86 L54.42 319.66 L54.60 314.07 L54.79 307.28 L54.97 299.60 L55.15 291.52 L55.34 283.57 L55.52 276.36 L55.71 270.46 L55.89 266.37 L56.08 264.43 L56.26 264.82 L56.44 267.51 L56.63 272.25 L56.81 278.64 L57.00 286.17 L57.18 294.23 L57.36 302.23 L57.55 309.66 L57.73 316.08 L57.92 321.22 L58.10 324.93 L58.28 327.21 L58.47 328.17 L58.65 328.00 L58.84 326.95 L59.02 325.29 L59.20 323.25 L59.39 321.06 L59.57 318.89 L59.76 316.86 L59.94 315.05 L60.13 313.51 L60.31 312.24 L60.49 311.23 L60.68 310.45 L60.86 309.86 L61.05 309.43 L61.23 309.12 L61.41 308.91 L61.60 308.76 L61.78 308.66 L61.97 308.60 L62.15 308.56 L62.33 308.50 L62.52 308.50 L62.70 308.50 L62.89 308.50 L63.07 308.50 L63.26 308.50 L63.44 308.50 L63.62 308.50 L63.81 308.50 L63.99 308.50 L64.18 308.50 L64.36 308.50 L64.54 308.50 L64.73 308.50 L64.91 308.50 L65.10 308.50 L65.28 308.50 L65.46 308.50 L65.65 308.50 L65.83 308.50 L66.02 308.50 L66.20 308.50 L66.38 308.50 L66.57 308.50 L66.75 308.50 L66.94 308.50 L67.12 308.50 L67.31 308.50 L67.49 308.50 L67.67 308.50 L67.86 308.50 L68.04 308.50 L68.23 308.50 L68.41 308.50 L68.59 308.50 L68.78 308.50 L68.96 308.50 L69.15 308.50 L69.33 308.50 L69.51 308.50 L69.70 308.50 L69.88 308.50 L70.07 308.50 L70.25 308.50 L70.44 308.50 L70.62 308.50 L70.80 308.50 L70.99 308.50 L71.17 308.50 L71.36 308.50 L71.54 308.50 L71.72 308.50 L71.91 308.50 L72.09 308.50 L72.28 308.50 L72.46 308.50 L72.64 308.50 L72.83 308.50 L73.01 308.50 L73.20 308.50 L73.38 308.50 L73.56 308.50 L73.75 308.50 L73.93 308.50 L74.12 308.50 L74.30 308.50 L74.49 308.50 L74.67 308.50 L74.85 308.50 L75.04 308.50 L75.22 308.50 L75.41 308.50 L75.59 308.50 L75.77 308.50 L75.96 308.50 L76.14 308.50 L76.33 308.50 L76.51 308.50 L76.69 308.50 L76.88 308.50 L77.06 308.50 L77.25 308.50 L77.43 308.50 L77.62 308.50 L77.80 308.50 L77.98 308.50 L78.17 308.50 L78.35 308.50 L78.54 308.50 L78.72 308.50 L78.90 308.50 L79.09 308.50 L79.27 308.50 L79.46 308.50 L79.64 308.50 L79.82 308.50 L80.01 308.50 L80.19 308.50 L80.38 308.50 L80.56 308.50 L80.74 308.50 L80.93 308.50 L81.11 308.50 L81.30 308.50 L81.48 308.50 L81.67 308.50 L81.85 308.50 L82.03 308.50 L82.22 308.50 L82.40 308.50 L82.59 308.50 L82.77 308.50 L82.95 308.50 L83.14 308.50 L83.32 308.50 L83.51 308.50 L83.69 308.50 L83.87 308.50 L84.06 308.50 L84.24 308.50 L84.43 308.50 L84.61 308.50 L84.79 308.50 L84.98 308.50 L85.16 308.50 L85.35 308.50 L85.53 308.50 L85.72 308.50 L85.90 308.50 L86.08 308.50 L86.27 308.50 L86.45 308.50 L86.64 308.50 L86.82 308.50 L87.00 308.50 L87.19 308.50 L87.37 308.50 L87.56 308.50 L87.74 308.50 L87.92 308.50 L88.11 308.50 L88.29 308.50 L88.48 308.50 L88.66 308.50 L88.85 308.50 L89.03 308.50 L89.21 308.50 L89.40 308.50 L89.58 308.50 L89.77 308.50 L89.95 308.50 L90.13 308.50 L90.32 308.50 L90.50 308.50 L90.69 308.50 L90.87 308.50 L91.05 308.50 L91.24 308.50 L91.42 308.50 L91.61 308.50 L91.79 308.50 L91.97 308.50 L92.16 308.50 L92.34 308.50 L92.53 308.50 L92.71 308.50 L92.90 308.50 L93.08 308.50 L93.26 308.50 L93.45 308.50 L93.63 308.50 L93.82 308.50 L94.00 308.50 L94.18 308.50 L94.37 308.50 L94.55 308.50 L94.74 308.50 L94.92 308.50 L95.10 308.50 L95.29 308.50 L95.47 308.50 L95.66 308.50 L95.84 308.50 L96.03 308.50 L96.21 308.50 L96.39 308.50 L96.58 308.50 L96.76 308.50 L96.95 308.50 L97.13 308.50 L97.31 308.50 L97.50 308.50 L97.68 308.50 L97.87 308.50 L98.05 308.50 L98.23 308.50 L98.42 308.50 L98.60 308.50 L98.79 308.50 L98.97 308.50 L99.15 308.50 L99.34 308.50 L99.52 308.50 L99.71 308.50 L99.89 308.50 L100.08 308.50 L100.26 308.50 L100.44 308.50 L100.63 308.50 L100.81 308.50 L101.00 308.50 L101.18 308.50 L101.36 308.50 L101.55 308.50 L101.73 308.50 L101.92 308.50 L102.10 308.50 L102.28 308.50 L102.47 308.50 L102.65 308.50 L102.84 308.50 L103.02 308.50 L103.20 308.50 L103.39 308.50 L103.57 308.50 L103.76 308.50 L103.94 308.50 L104.13 308.50 L104.31 308.50 L104.49 308.50 L104.68 308.50 L104.86 308.50 L105.05 308.50 L105.23 308.50 L105.41 308.50 L105.60 308.50 L105.78 308.50 L105.97 308.50 L106.15 308.50 L106.33 308.50 L106.52 308.50 L106.70 308.50 L106.89 308.50 L107.07 308.50 L107.26 308.50 L107.44 308.50 L107.62 308.50 L107.81 308.50 L107.99 308.50 L108.18 308.50 L108.36 308.50 L108.54 308.50 L108.73 308.50 L108.91 308.50 L109.10 308.50 L109.28 308.50 L109.46 308.50 L109.65 308.50 L109.83 308.50 L110.02 308.50 L110.20 308.50 L110.38 308.50 L110.57 308.50 L110.75 308.50 L110.94 308.50 L111.12 308.50 L111.31 308.50 L111.49 308.50 L111.67 308.50 L111.86 308.50 L112.04 308.50 L112.23 308.50 L112.41 308.50 L112.59 308.50 L112.78 308.50 L112.96 308.50 L113.15 308.50 L113.33 308.50 L113.51 308.50 L113.70 308.50 L113.88 308.50 L114.07 308.50 L114.25 308.50 L114.44 308.50 L114.62 308.50 L114.80 308.50 L114.99 308.50 L115.17 308.50 L115.36 308.50 L115.54 308.50 L115.72 308.50 L115.91 308.50 L116.09 308.50 L116.28 308.50 L116.46 308.50 L116.64 308.50 L116.83 308.50 L117.01 308.50 L117.20 308.50 L117.38 308.50 L117.56 308.50 L117.75 308.50 L117.93 308.50 L118.12 308.50 L118.30 308.50 L118.49 308.50 L118.67 308.50 L118.85 308.50 L119.04 308.50 L119.22 308.50 L119.41 308.50 L119.59 308.50 L119.77 308.50 L119.96 308.50 L120.14 308.50 L120.33 308.50 L120.51 308.50 L120.69 308.50 L120.88 308.50 L121.06 308.50 L121.25 308.50 L121.43 308.50 L121.61 308.50 L121.80 308.50 L121.98 308.50 L122.17 308.50 L122.35 308.50 L122.54 308.50 L122.72 308.50 L122.90 308.50 L123.09 308.50 L123.27 308.50 L123.46 308.50 L123.64 308.50 L123.82 308.50 L124.01 308.50 L124.19 308.50 L124.38 308.50 L124.56 308.50 L124.74 308.50 L124.93 308.50 L125.11 308.50 L125.30 308.50 L125.48 308.50 L125.67 308.50 L125.85 308.50 L126.03 308.50 L126.22 308.50 L126.40 308.50 L126.59 308.50 L126.77 308.50 L126.95 308.50 L127.14 308.50 L127.32 308.50 L127.51 308.50 L127.69 308.50 L127.87 308.50 L128.06 308.50 L128.24 308.50 L128.43 308.50 L128.61 308.50 L128.79 308.50 L128.98 308.50 L129.16 308.50 L129.35 308.50 L129.53 308.50 L129.72 308.50 L129.90 308.50 L130.08 308.50 L130.27 308.50 L130.45 308.50 L130.64 308.50 L130.82 308.50 L131.00 308.50 L131.19 308.50 L131.37 308.50 L131.56 308.50 L131.74 308.50 L131.92 308.50 L132.11 308.50 L132.29 308.50 L132.48 308.50 L132.66 308.50 L132.84 308.50 L133.03 308.50 L133.21 308.50 L133.40 308.50 L133.58 308.50 L133.77 308.50 L133.95 308.50 L134.13 308.50 L134.32 308.50 L134.50 308.50 L134.69 308.50 L134.87 308.50 L135.05 308.50 L135.24 308.50 L135.42 308.50 L135.61 308.50 L135.79 308.50 L135.97 308.50 L136.16 308.50 L136.34 308.50 L136.53 308.50 L136.71 308.50 L136.90 308.50 L137.08 308.50 L137.26 308.50 L137.45 308.50 L137.63 308.50 L137.82 308.50 L138.00 308.50 L138.18 308.50 L138.37 308.50 L138.55 308.50 L138.74 308.50 L138.92 308.50 L139.10 308.50 L139.29 308.50 L139.47 308.50 L139.66 308.50 L139.84 308.50 L140.02 308.50 L140.21 308.50 L140.39 308.50 L140.58 308.50 L140.76 308.50 L140.95 308.50 L141.13 308.50 L141.31 308.50 L141.50 308.50 L141.68 308.50 L141.87 308.50 L142.05 308.50 L142.23 308.50 L142.42 308.50 L142.60 308.50 L142.79 308.50 L142.97 308.50 L143.15 308.50 L143.34 308.50 L143.52 308.50 L143.71 308.50 L143.89 308.50 L144.08 308.50 L144.26 308.50 L144.44 308.50 L144.63 308.50 L144.81 308.50 L145.00 308.50 L145.18 308.50 L145.36 308.50 L145.55 308.50 L145.73 308.50 L145.92 308.50 L146.10 308.50 L146.28 308.50 L146.47 308.50 L146.65 308.50 L146.84 308.50 L147.02 308.50 L147.20 308.50 L147.39 308.50 L147.57 308.50 L147.76 308.50 L147.94 308.50 L148.13 308.50 L148.31 308.50 L148.49 308.50 L148.68 308.50 L148.86 308.50 L149.05 308.50 L149.23 308.50 L149.41 308.50 L149.60 308.50 L149.78 308.50 L149.97 308.50 L150.15 308.50 L150.33 308.50 L150.52 308.50 L150.70 308.50 L150.89 308.50 L151.07 308.50 L151.25 308.50 L151.44 308.50 L151.62 308.50 L151.81 308.50 L151.99 308.50 L152.18 308.50 L152.36 308.50 L152.54 308.50 L152.73 308.50 L152.91 308.50 L153.10 308.50 L153.28 308.50 L153.46 308.50 L153.65 308.50 L153.83 308.50 L154.02 308.50 L154.20 308.50 L154.38 308.50 L154.57 308.50 L154.75 308.50 L154.94 308.50 L155.12 308.50 L155.31 308.50 L155.49 308.50 L155.67 308.50 L155.86 308.50 L156.04 308.50 L156.23 308.50 L156.41 308.50 L156.59 308.50 L156.78 308.50 L156.96 308.50 L157.15 308.50 L157.33 308.50 L157.51 308.50 L157.70 308.50 L157.88 308.50 L158.07 308.50 L158.25 308.50 L158.43 308.50 L158.62 308.50 L158.80 308.50 L158.99 308.50 L159.17 308.50 L159.36 308.50 L159.54 308.50 L159.72 308.50 L159.91 308.50 L160.09 308.50 L160.28 308.50 L160.46 308.50 L160.64 308.50 L160.83 308.50 L161.01 308.50 L161.20 308.50 L161.38 308.50 L161.56 308.50 L161.75 308.50 L161.93 308.50 L162.12 308.50 L162.30 308.50 L162.49 308.50 L162.67 308.50 L162.85 308.50 L163.04 308.50 L163.22 308.50 L163.41 308.50 L163.59 308.50 L163.77 308.50 L163.96 308.50 L164.14 308.50 L164.33 308.50 L164.51 308.50 L164.69 308.50 L164.88 308.50 L165.06 308.50 L165.25 308.50 L165.43 308.50 L165.61 308.50 L165.80 308.50 L165.98 308.50 L166.17 308.50 L166.35 308.50 L166.54 308.50 L166.72 308.50 L166.90 308.50 L167.09 308.50 L167.27 308.50 L167.46 308.50 L167.64 308.50 L167.82 308.50 L168.01 308.50 L168.19 308.50 L168.38 308.50 L168.56 308.50 L168.74 308.50 L168.93 308.50 L169.11 308.50 L169.30 308.50 L169.48 308.50 L169.67 308.50 L169.85 308.50 L170.03 308.50 L170.22 308.50 L170.40 308.50 L170.59 308.50 L170.77 308.50 L170.95 308.50 L171.14 308.50 L171.32 308.50 L171.51 308.50 L171.69 308.50 L171.87 308.50 L172.06 308.50 L172.24 308.50 L172.43 308.50 L172.61 308.50 L172.79 308.50 L172.98 308.50 L173.16 308.50 L173.35 308.50 L173.53 308.50 L173.72 308.50 L173.90 308.50 L174.08 308.50 L174.27 308.50 L174.45 308.50 L174.64 308.50 L174.82 308.50 L175.00 308.50 L175.19 308.50 L175.37 308.50 L175.56 308.50 L175.74 308.50 L175.92 308.50 L176.11 308.50 L176.29 308.50 L176.48 308.50 L176.66 308.50 L176.84 308.50 L177.03 308.50 L177.21 308.50 L177.40 308.50 L177.58 308.50 L177.77 308.50 L177.95 308.50 L178.13 308.50 L178.32 308.50 L178.50 308.50 L178.69 308.50 L178.87 308.50 L179.05 308.50 L179.24 308.50 L179.42 308.50 L179.61 308.50 L179.79 308.50 L179.97 308.50 L180.16 308.50 L180.34 308.50 L180.53 308.50 L180.71 308.50 L180.90 308.50 L181.08 308.50 L181.26 308.50 L181.45 308.50 L181.63 308.50 L181.82 308.50 L182.00 308.50 L182.18 308.50 L182.37 308.50 L182.55 308.50 L182.74 308.50 L182.92 308.50 L183.10 308.50 L183.29 308.50 L183.47 308.50 L183.66 308.50 L183.84 308.50 L184.02 308.50 L184.21 308.50 L184.39 308.50 L184.58 308.50 L184.76 308.50 L184.95 308.50 L185.13 308.50 L185.31 308.50 L185.50 308.50 L185.68 308.50 L185.87 308.50 L186.05 308.50 L186.23 308.50 L186.42 308.50 L186.60 308.50 L186.79 308.50 L186.97 308.50 L187.15 308.50 L187.34 308.50 L187.52 308.50 L187.71 308.50 L187.89 308.50 L188.07 308.50 L188.26 308.50 L188.44 308.50 L188.63 308.50 L188.81 308.50 L189.00 308.50 L189.18 308.50 L189.36 308.50 L189.55 308.50 L189.73 308.50 L189.92 308.50 L190.10 308.50 L190.28 308.50 L190.47 308.50 L190.65 308.50 L190.84 308.50 L191.02 308.50 L191.20 308.50 L191.39 308.50 L191.57 308.50 L191.76 308.50 L191.94 308.50 L192.13 308.50 L192.31 308.50 L192.49 308.50 L192.68 308.50 L192.86 308.50 L193.05 308.50 L193.23 308.50 L193.41 308.50 L193.60 308.50 L193.78 308.50 L193.97 308.50 L194.15 308.50 L194.33 308.50 L194.52 308.50 L194.70 308.50 L194.89 308.50 L195.07 308.50 L195.25 308.50 L195.44 308.50 L195.62 308.50 L195.81 308.50 L195.99 308.50 L196.18 308.50 L196.36 308.50 L196.54 308.50 L196.73 308.50 L196.91 308.50 L197.10 308.50 L197.28 308.50 L197.46 308.50 L197.65 308.50 L197.83 308.50 L198.02 308.50 L198.20 308.50 L198.38 308.50 L198.57 308.50 L198.75 308.50 L198.94 308.50 L199.12 308.50 L199.31 308.50 L199.49 308.50 L199.67 308.50 L199.86 308.50 L200.04 308.50 L200.23 308.50 L200.41 308.50 L200.59 308.50 L200.78 308.50 L200.96 308.50 L201.15 308.50 L201.33 308.50 L201.51 308.50 L201.70 308.50 L201.88 308.50 L202.07 308.50 L202.25 308.50 L202.43 308.50 L202.62 308.50 L202.80 308.50 L202.99 308.50 L203.17 308.50 L203.36 308.50 L203.54 308.50 L203.72 308.50 L203.91 308.50 L204.09 308.50 L204.28 308.50 L204.46 308.50 L204.64 308.50 L204.83 308.50 L205.01 308.50 L205.20 308.50 L205.38 308.50 L205.56 308.50 L205.75 308.50 L205.93 308.50 L206.12 308.50 L206.30 308.50 L206.49 308.50 L206.67 308.50 L206.85 308.50 L207.04 308.50 L207.22 308.50 L207.41 308.50 L207.59 308.50 L207.77 308.50 L207.96 308.50 L208.14 308.50 L208.33 308.50 L208.51 308.50 L208.69 308.50 L208.88 308.50 L209.06 308.50 L209.25 308.50 L209.43 308.50 L209.61 308.50 L209.80 308.50 L209.98 308.50 L210.17 308.50 L210.35 308.50 L210.54 308.50 L210.72 308.50 L210.90 308.50 L211.09 308.50 L211.27 308.50 L211.46 308.50 L211.64 308.50 L211.82 308.50 L212.01 308.50 L212.19 308.50 L212.38 308.50 L212.56 308.50 L212.74 308.50 L212.93 308.50 L213.11 308.50 L213.30 308.50 L213.48 308.50 L213.66 308.50 L213.85 308.50 L214.03 308.50 L214.22 308.50 L214.40 308.50 L214.59 308.50 L214.77 308.50 L214.95 308.50 L215.14 308.50 L215.32 308.50 L215.51 308.50 L215.69 308.50 L215.87 308.50 L216.06 308.50 L216.24 308.50 L216.43 308.50 L216.61 308.50 L216.79 308.50 L216.98 308.50 L217.16 308.50 L217.35 308.50 L217.53 308.50 L217.72 308.50 L217.90 308.50 L218.08 308.50 L218.27 308.50 L218.45 308.50 L218.64 308.50 L218.82 308.50 L219.00 308.50 L219.19 308.50 L219.37 308.50 L219.56 308.50 L219.74 308.50 L219.92 308.50 L220.11 308.50 L220.29 308.50 L220.48 308.50 L220.66 308.50 L220.84 308.50 L221.03 308.50 L221.21 308.50 L221.40 308.50 L221.58 308.50 L221.77 308.50 L221.95 308.50 L222.13 308.50 L222.32 308.50 L222.50 308.50 L222.69 308.50 L222.87 308.50 L223.05 308.50 L223.24 308.50 L223.42 308.50 L223.61 308.50 L223.79 308.50 L223.97 308.50 L224.16 308.50 L224.34 308.50 L224.53 308.50 L224.71 308.50 L224.90 308.50" fill="none" stroke="#42a12a" stroke-width="1.10" stroke-linejoin="round"/>
<path d="M50.00 264.40 V351.65 H225.60" fill="none" stroke="#000" stroke-width="1.35" stroke-linecap="square"/>
<path d="M50.00 351.65 h3.20 M50.00 347.29 h1.80 M50.00 342.92 h1.80 M50.00 338.56 h1.80 M50.00 334.20 h1.80 M50.00 329.84 h3.20 M50.00 325.47 h1.80 M50.00 321.11 h1.80 M50.00 316.75 h1.80 M50.00 312.39 h1.80 M50.00 308.02 h3.20 M50.00 303.66 h1.80 M50.00 299.30 h1.80 M50.00 294.94 h1.80 M50.00 290.57 h1.80 M50.00 286.21 h3.20 M50.00 281.85 h1.80 M50.00 277.49 h1.80 M50.00 273.12 h1.80 M50.00 268.76 h1.80 M50.00 264.40 h3.20 M50.00 351.65 v-3.20 M54.60 351.65 v-1.80 M59.20 351.65 v-1.80 M63.81 351.65 v-1.80 M68.41 351.65 v-1.80 M73.01 351.65 v-1.80 M77.62 351.65 v-1.80 M82.22 351.65 v-1.80 M86.82 351.65 v-3.20 M91.42 351.65 v-1.80 M96.03 351.65 v-1.80 M100.63 351.65 v-1.80 M105.23 351.65 v-1.80 M109.83 351.65 v-1.80 M114.44 351.65 v-1.80 M119.04 351.65 v-1.80 M123.64 351.65 v-3.20 M128.24 351.65 v-1.80 M132.84 351.65 v-1.80 M137.45 351.65 v-1.80 M142.05 351.65 v-1.80 M146.65 351.65 v-1.80 M151.25 351.65 v-1.80 M155.86 351.65 v-1.80 M160.46 351.65 v-3.20 M165.06 351.65 v-1.80 M169.67 351.65 v-1.80 M174.27 351.65 v-1.80 M178.87 351.65 v-1.80 M183.47 351.65 v-1.80 M188.07 351.65 v-1.80 M192.68 351.65 v-1.80 M197.28 351.65 v-3.20 M201.88 351.65 v-1.80 M206.49 351.65 v-1.80 M211.09 351.65 v-1.80 M215.69 351.65 v-1.80 M220.29 351.65 v-1.80 M224.90 351.65 v-1.80" stroke="#000" stroke-width="0.8" fill="none"/>
<text x="44.3" y="267.80" font-size="9.6" text-anchor="end" fill="#111">1.0</text>
<text x="44.3" y="289.81" font-size="9.6" text-anchor="end" fill="#111">0.5</text>
<text x="44.3" y="311.82" font-size="9.6" text-anchor="end" fill="#111">0.0</text>
<text x="44.3" y="333.84" font-size="9.6" text-anchor="end" fill="#111">−0.5</text>
<text x="44.3" y="355.85" font-size="9.6" text-anchor="end" fill="#111">−1.0</text>
<text x="50.60" y="364.25" font-size="9.6" text-anchor="middle" fill="#111">0</text>
<text x="87.20" y="364.25" font-size="9.6" text-anchor="middle" fill="#111">2</text>
<text x="123.80" y="364.25" font-size="9.6" text-anchor="middle" fill="#111">4</text>
<text x="160.40" y="364.25" font-size="9.6" text-anchor="middle" fill="#111">6</text>
<text x="197.00" y="364.25" font-size="9.6" text-anchor="middle" fill="#111">8</text>
<text x="148.50" y="270.30" font-size="13" textLength="78.8" lengthAdjust="spacingAndGlyphs" fill="#111" stroke="#111" stroke-width="0.12" xml:space="preserve">No. 8  S.T.F.</text>
<text x="112" y="388.9" font-size="16.4" textLength="58.6" lengthAdjust="spacingAndGlyphs" fill="#111" stroke="#111" stroke-width="0.2">Time [s]</text>
<text x="331.8" y="389.7" font-size="16.2" textLength="111" lengthAdjust="spacingAndGlyphs" fill="#111" stroke="#111" stroke-width="0.2">Frequency [Hz]</text>
<text transform="translate(14.4,246.4) rotate(-90)" font-size="16.6" textLength="112.6" lengthAdjust="spacingAndGlyphs" fill="#111" stroke="#111" stroke-width="0.2">Amp. [arb. unit]</text>
<text transform="translate(563.1,305.4) rotate(-90)" font-size="16.6" textLength="178.2" lengthAdjust="spacingAndGlyphs" fill="#111" stroke="#111" stroke-width="0.2">Spectral Amp. [arb. unit]</text>
<path d="M248.48 351.45 H510.38 V90.00" fill="none" stroke="#000" stroke-width="1.35" stroke-linecap="square"/>
<path d="M248.48 351.45 v-1.50 M255.39 351.45 v-1.50 M261.24 351.45 v-1.50 M266.30 351.45 v-1.50 M270.77 351.45 v-1.50 M274.76 351.45 v-3.20 M301.04 351.45 v-1.50 M316.41 351.45 v-1.50 M327.32 351.45 v-1.50 M335.78 351.45 v-1.50 M342.69 351.45 v-1.50 M348.54 351.45 v-1.50 M353.60 351.45 v-1.50 M358.07 351.45 v-1.50 M362.06 351.45 v-3.20 M388.34 351.45 v-1.50 M403.71 351.45 v-1.50 M414.62 351.45 v-1.50 M423.08 351.45 v-1.50 M429.99 351.45 v-1.50 M435.84 351.45 v-1.50 M440.90 351.45 v-1.50 M445.37 351.45 v-1.50 M449.36 351.45 v-3.20 M475.64 351.45 v-1.50 M491.01 351.45 v-1.50 M501.92 351.45 v-1.50 M510.38 351.45 v-1.50 M510.38 351.45 h-2.80 M510.38 331.77 h-1.10 M510.38 320.26 h-1.10 M510.38 312.10 h-1.10 M510.38 305.76 h-1.10 M510.38 300.59 h-1.10 M510.38 296.21 h-1.10 M510.38 292.42 h-1.10 M510.38 289.08 h-1.10 M510.38 286.09 h-2.80 M510.38 266.41 h-1.10 M510.38 254.90 h-1.10 M510.38 246.74 h-1.10 M510.38 240.40 h-1.10 M510.38 235.23 h-1.10 M510.38 230.85 h-1.10 M510.38 227.06 h-1.10 M510.38 223.72 h-1.10 M510.38 220.72 h-2.80 M510.38 201.05 h-1.10 M510.38 189.54 h-1.10 M510.38 181.37 h-1.10 M510.38 175.04 h-1.10 M510.38 169.86 h-1.10 M510.38 165.49 h-1.10 M510.38 161.70 h-1.10 M510.38 158.35 h-1.10 M510.38 155.36 h-2.80 M510.38 135.69 h-1.10 M510.38 124.18 h-1.10 M510.38 116.01 h-1.10 M510.38 109.68 h-1.10 M510.38 104.50 h-1.10 M510.38 100.12 h-1.10 M510.38 96.33 h-1.10 M510.38 92.99 h-1.10 M510.38 90.00 h-2.80" stroke="#000" stroke-width="0.8" fill="none"/>
<clipPath id="cp"><rect x="248.48" y="88.00" width="262.20" height="264.15"/></clipPath>
<g clip-path="url(#cp)">
<path d="M240.02 221.96 L255.39 219.34 L266.30 226.51 L274.76 252.43 L281.67 258.58 L287.52 228.04 L292.58 219.55 L297.05 221.09 L301.04 234.09 L304.65 297.55 L307.95 239.68 L310.99 222.66 L313.80 218.93 L316.41 224.86 L318.86 247.17 L321.16 266.30 L323.33 229.47 L325.38 219.57 L327.32 220.04 L329.17 231.35 L330.93 277.46 L332.62 242.69 L334.23 223.19 L335.78 218.33 L337.27 223.06 L338.70 242.43 L340.08 277.07 L341.41 230.83 L342.69 219.39 L343.94 218.79 L345.14 228.56 L346.31 265.25 L347.44 245.99 L348.54 223.55 L349.61 217.49 L350.64 221.09 L351.66 237.97 L352.64 295.71 L353.60 232.11 L354.54 218.98 L355.45 217.31 L356.34 225.66 L357.21 256.07 L358.07 249.78 L358.90 223.72 L359.71 216.41 L360.51 218.89 L361.29 233.63 L362.06 482.17 L362.81 233.34 L363.55 218.32 L364.27 215.56 L364.98 222.58 L365.67 248.35 L366.36 254.36 L367.03 223.66 L367.69 215.03 L368.34 216.41 L368.97 229.25 L369.60 292.55 L370.22 234.53 L370.82 217.35 L371.42 213.46 L372.01 219.22 L372.59 241.37 L373.16 260.33 L373.72 223.34 L374.27 213.27 L374.82 213.56 L375.35 224.69 L375.89 270.63 L376.41 235.67 L376.92 215.99 L377.43 210.94 L377.93 215.49 L378.43 234.66 L378.92 269.11 L379.40 222.67 L379.88 211.03 L380.35 210.22 L380.82 219.78 L381.28 256.26 L381.73 236.79 L382.18 214.12 L382.62 207.84 L383.06 211.21 L383.49 227.85 L383.92 285.35 L384.35 221.51 L384.76 208.14 L385.18 206.21 L385.59 214.30 L385.99 244.44 L386.40 237.88 L386.79 211.53 L387.19 203.94 L387.57 206.13 L387.96 220.57 L388.34 482.17 L388.72 219.66 L389.09 204.31 L389.46 201.21 L389.83 207.89 L390.19 233.31 L390.55 238.95 L390.91 207.88 L391.26 198.85 L391.61 199.84 L391.95 212.26 L392.30 275.14 L392.64 216.67 L392.97 199.03 L393.31 194.67 L393.64 199.94 L393.97 221.57 L394.29 240.00 L394.62 202.45 L394.94 191.80 L395.25 191.50 L395.57 202.00 L395.88 247.27 L396.19 211.63 L396.50 191.23 L396.80 185.41 L397.10 189.16 L397.40 207.49 L397.70 241.04 L397.99 193.65 L398.29 181.01 L398.58 179.14 L398.87 187.55 L399.15 222.81 L399.44 202.02 L399.72 177.93 L400.00 170.11 L400.28 171.80 L400.55 186.61 L400.83 242.08 L401.10 175.98 L401.37 160.07 L401.63 155.26 L401.90 160.03 L402.16 186.28 L402.43 175.04 L402.69 142.86 L402.95 127.61 L403.20 118.81 L403.46 114.10 L403.71 112.67 L403.96 114.29 L404.21 119.19 L404.46 128.17 L404.71 143.61 L404.96 175.97 L405.20 187.40 L405.44 161.34 L405.68 156.76 L405.92 161.75 L406.16 177.85 L406.40 244.13 L406.63 188.85 L406.86 174.23 L407.10 172.73 L407.33 180.74 L407.56 205.01 L407.78 225.99 L408.01 190.92 L408.23 182.69 L408.46 184.76 L408.68 197.59 L408.90 245.16 L409.12 211.80 L409.34 193.66 L409.56 190.10 L409.77 196.10 L409.99 216.69 L410.20 252.53 L410.41 207.44 L410.63 197.13 L410.84 197.62 L411.04 208.46 L411.25 246.20 L411.46 227.96 L411.66 206.51 L411.87 201.44 L412.07 205.99 L412.27 223.81 L412.48 282.47 L412.68 219.79 L412.87 207.55 L413.07 206.76 L413.27 215.97 L413.47 247.23 L413.66 241.79 L413.85 216.56 L414.05 210.07 L414.24 213.36 L414.43 228.90 L414.62 482.17 L414.81 230.20 L415.00 215.95 L415.18 213.96 L415.37 221.75 L415.56 248.28 L415.74 255.04 L415.92 225.09 L416.11 217.19 L416.29 219.32 L416.47 232.89 L416.65 296.92 L416.83 239.62 L417.01 223.17 L417.19 220.00 L417.36 226.48 L417.54 249.34 L417.71 269.01 L417.89 232.73 L418.06 223.36 L418.23 224.37 L418.41 236.20 L418.58 282.84 L418.75 248.59 L418.92 229.62 L419.09 225.27 L419.25 230.53 L419.42 250.40 L419.59 285.56 L419.75 239.82 L419.92 228.90 L420.08 228.80 L420.25 239.08 L420.41 276.27 L420.57 257.51 L420.73 235.57 L420.90 230.01 L421.06 234.11 L421.22 251.49 L421.37 309.72 L421.53 246.62 L421.69 233.99 L421.85 232.81 L422.00 241.65 L422.16 272.55 L422.31 266.76 L422.47 241.19 L422.62 234.38 L422.78 237.35 L422.93 252.58 L423.08 482.17 L423.23 253.29 L423.38 238.76 L423.53 236.50 L423.68 244.01 L423.83 270.29 L423.98 276.79 L424.13 246.60 L424.27 238.46 L424.42 240.35 L424.57 253.70 L424.71 317.51 L424.86 259.99 L425.00 243.33 L425.15 239.95 L425.29 246.23 L425.43 268.89 L425.57 288.37 L425.72 251.90 L425.86 242.35 L426.00 243.17 L426.14 254.83 L426.28 301.30 L426.42 266.88 L426.56 247.74 L426.69 243.23 L426.83 248.33 L426.97 268.05 L427.11 303.05 L427.24 257.17 L427.38 246.09 L427.51 245.85 L427.65 255.99 L427.78 293.04 L427.91 274.15 L428.05 252.07 L428.18 246.38 L428.31 250.35 L428.44 267.60 L428.58 325.71 L428.71 262.49 L428.84 249.73 L428.97 248.44 L429.10 257.16 L429.23 287.95 L429.36 282.04 L429.48 256.36 L429.61 249.44 L429.74 252.31 L429.87 267.44 L429.99 482.17 L430.12 267.94 L430.24 253.31 L430.37 250.94 L430.49 258.37 L430.62 284.55 L430.74 290.95 L430.87 260.67 L430.99 252.44 L431.11 254.24 L431.24 267.49 L431.36 331.22 L431.48 273.61 L431.60 256.86 L431.72 253.40 L431.84 259.59 L431.96 282.18 L432.08 301.57 L432.20 265.02 L432.32 255.40 L432.44 256.14 L432.56 267.72 L432.68 314.12 L432.79 279.62 L432.91 260.41 L433.03 255.83 L433.14 260.85 L433.26 280.50 L433.38 315.43 L433.49 269.48 L433.61 258.34 L433.72 258.03 L433.84 268.10 L433.95 305.09 L434.06 286.13 L434.18 263.99 L434.29 258.24 L434.40 262.14 L434.51 279.33 L434.63 337.38 L434.74 274.09 L434.85 261.28 L434.96 259.92 L435.07 268.59 L435.18 299.32 L435.29 293.36 L435.40 267.62 L435.51 260.64 L435.62 263.46 L435.73 278.53 L435.84 482.17 L435.95 278.92 L436.05 264.24 L436.16 261.82 L436.27 269.19 L436.37 295.32 L436.48 301.67 L436.59 271.34 L436.69 263.06 L436.80 264.81 L436.91 278.02 L437.01 341.69 L437.12 284.04 L437.22 267.24 L437.32 263.73 L437.43 269.88 L437.53 292.41 L437.64 311.77 L437.74 275.17 L437.84 265.50 L437.94 266.20 L438.05 277.74 L438.15 324.09 L438.25 289.55 L438.35 270.30 L438.45 265.67 L438.55 270.65 L438.65 290.26 L438.75 325.15 L438.86 279.16 L438.96 267.97 L439.05 267.63 L439.15 277.66 L439.25 314.61 L439.35 295.61 L439.45 273.43 L439.55 267.64 L439.65 271.50 L439.74 288.65 L439.84 346.66 L439.94 283.34 L440.04 270.49 L440.13 269.10 L440.23 277.74 L440.33 308.43 L440.42 302.43 L440.52 276.66 L440.61 269.65 L440.71 272.42 L440.80 287.46 L440.90 482.17 L440.99 287.78 L441.09 273.07 L441.18 270.62 L441.28 277.95 L441.37 304.05 L441.46 310.37 L441.56 280.01 L441.65 271.70 L441.74 273.41 L441.84 286.59 L441.93 350.23 L442.02 292.55 L442.11 275.72 L442.20 272.18 L442.30 278.30 L442.39 300.80 L442.48 320.13 L442.57 283.50 L442.66 273.80 L442.75 274.47 L442.84 285.98 L442.93 332.30 L443.02 297.74 L443.11 278.45 L443.20 273.80 L443.29 278.75 L443.38 298.34 L443.46 333.20 L443.55 287.18 L443.64 275.97 L443.73 275.59 L443.82 285.59 L443.91 322.52 L443.99 303.49 L444.08 281.29 L444.17 275.47 L444.25 279.31 L444.34 296.44 L444.43 354.42 L444.51 291.07 L444.60 278.20 L444.69 276.78 L444.77 285.39 L444.86 316.06 L444.94 310.03 L445.03 284.24 L445.11 277.20 L445.20 279.96 L445.28 294.97 L445.37 482.17 L445.45 295.25 L445.53 280.51 L445.62 278.03 L445.70 285.35 L445.78 311.42 L445.87 317.72 L445.95 287.33 L446.03 279.00 L446.12 280.69 L446.20 293.85 L446.28 357.47 L446.36 299.76 L446.45 282.91 L446.53 279.35 L446.61 285.45 L446.69 307.93 L446.77 327.23 L446.85 290.59 L446.93 280.86 L447.01 281.51 L447.09 293.00 L447.18 339.30 L447.26 304.72 L447.34 285.41 L447.42 280.74 L447.50 285.67 L447.57 305.23 L447.65 340.08 L447.73 294.04 L447.81 282.81 L447.89 282.41 L447.97 292.39 L448.05 329.30 L448.13 310.26 L448.21 288.03 L448.28 282.20 L448.36 286.01 L448.44 303.12 L448.52 361.09 L448.59 297.72 L448.67 284.83 L448.75 283.39 L448.83 291.98 L448.90 322.63 L448.98 316.59 L449.06 290.78 L449.13 283.73 L449.21 286.46 L449.28 301.46 L449.36 482.17 L449.44 301.70 L449.51 286.95 L449.59 284.45 L449.66 291.75 L449.74 317.80 L449.81 324.09 L449.89 293.68 L449.96 285.33 L450.04 287.01 L450.11 300.14 L450.19 363.75 L450.26 306.03 L450.33 289.16 L450.41 285.59 L450.48 291.66 L450.55 314.13 L450.63 333.42 L450.70 296.75 L450.77 287.02 L450.85 287.65 L450.92 299.12 L450.99 345.41 L451.07 310.81 L451.14 291.49 L451.21 286.80 L451.28 291.72 L451.35 311.26 L451.43 346.09 L451.50 300.03 L451.57 288.79 L451.64 288.38 L451.71 298.35 L451.78 335.24 L451.85 316.18 L451.93 293.94 L452.00 288.09 L452.07 291.89 L452.14 308.99 L452.21 366.94 L452.28 303.56 L452.35 290.65 L452.42 289.20 L452.49 297.78 L452.56 328.41 L452.63 322.36 L452.70 296.53 L452.77 289.46 L452.84 292.19 L452.90 307.17 L452.97 482.17 L453.04 307.38 L453.11 292.61 L453.18 290.11 L453.25 297.39 L453.32 323.43 L453.38 329.70 L453.45 299.28 L453.52 290.92 L453.59 292.58 L453.66 305.71 L453.72 369.30 L453.79 311.56 L453.86 294.69 L453.93 291.10 L453.99 297.16 L454.06 319.62 L454.13 338.89 L454.19 302.21 L454.26 292.46 L454.33 293.09 L454.39 304.55 L454.46 350.82 L454.53 316.21 L454.59 296.87 L454.66 292.17 L454.72 297.08 L454.79 316.61 L454.86 351.43 L454.92 305.36 L454.99 294.10 L455.05 293.68 L455.12 303.64 L455.18 340.51 L455.25 321.45 L455.31 299.19 L455.38 293.33 L455.44 297.12 L455.51 314.21 L455.57 372.15 L455.64 308.76 L455.70 295.84 L455.76 294.38 L455.83 302.94 L455.89 333.57 L455.96 327.50 L456.02 301.66 L456.08 294.58 L456.15 297.29 L456.21 312.26 L456.27 482.17 L456.34 312.45 L456.40 297.68 L456.46 295.16 L456.52 302.43 L456.59 328.46 L456.65 334.72 L456.71 304.29 L456.77 295.92 L456.84 297.57 L456.90 310.68 L456.96 374.27 L457.02 316.52 L457.09 299.63 L457.15 296.03 L457.21 302.09 L457.27 324.53 L457.33 343.79 L457.39 307.11 L457.45 297.35 L457.52 297.96 L457.58 309.41 L457.64 355.67 L457.70 321.05 L457.76 301.71 L457.82 297.00 L457.88 301.89 L457.94 321.42 L458.00 356.22 L458.06 310.14 L458.12 298.88 L458.18 298.45 L458.24 308.39 L458.30 345.26 L458.36 326.18 L458.42 303.92 L458.48 298.05 L458.54 301.83 L458.60 318.90 L458.66 376.83 L458.72 313.44 L458.78 300.51 L458.84 299.04 L458.90 307.59 L458.96 338.21 L459.01 332.13 L459.07 306.28 L459.13 299.19 L459.19 301.90 L459.25 316.86 L459.31 482.17 L459.37 317.03 L459.42 302.25 L459.48 299.72 L459.54 306.98 L459.60 333.00 L459.66 339.25 L459.71 308.81 L459.77 300.43 L459.83 302.08 L459.89 315.18 L459.94 378.76 L460.00 321.00 L460.06 304.10 L460.12 300.50 L460.17 306.54 L460.23 328.98 L460.29 348.23 L460.34 311.54 L460.40 301.77 L460.46 302.37 L460.51 313.81 L460.57 360.07 L460.63 325.44 L460.68 306.09 L460.74 301.37 L460.79 306.25 L460.85 325.77 L460.91 360.57 L460.96 314.48 L461.02 303.21 L461.07 302.77 L461.13 312.70 L461.18 349.56 L461.24 330.48 L461.30 308.21 L461.35 302.33 L461.41 306.10 L461.46 323.17 L461.52 381.09 L461.57 317.68 L461.63 304.75 L461.68 303.27 L461.74 311.82 L461.79 342.42 L461.85 336.34 L461.90 310.48 L461.95 303.39 L462.01 306.08 L462.06 321.04 L462.12 482.17 L462.17 321.19 L462.23 306.40 L462.28 303.87 L462.33 311.12 L462.39 337.14 L462.44 343.38 L462.49 312.93 L462.55 304.54 L462.60 306.18 L462.65 319.28 L462.71 382.84 L462.76 325.08 L462.81 308.18 L462.87 304.56 L462.92 310.60 L462.97 333.03 L463.03 352.27 L463.08 315.57 L463.13 305.80 L463.19 306.39 L463.24 317.83 L463.29 364.08 L463.34 329.44 L463.40 310.08 L463.45 305.35 L463.50 310.23 L463.55 329.74 L463.60 364.53 L463.66 318.44 L463.71 307.16 L463.76 306.71 L463.81 316.64 L463.86 353.50 L463.92 334.40 L463.97 312.13 L464.02 306.24 L464.07 310.01 L464.12 327.07 L464.17 384.98 L464.22 321.57 L464.28 308.62 L464.33 307.14 L464.38 315.68 L464.43 346.28 L464.48 340.19 L464.53 314.33 L464.58 307.23 L464.63 309.91 L464.68 324.86 L464.73 482.17 L464.78 325.01 L464.83 310.21 L464.88 307.66 L464.93 314.91 L464.98 340.92 L465.03 347.16 L465.08 316.70 L465.14 308.31 L465.19 309.94 L465.23 323.03 L465.28 386.59 L465.33 328.82 L465.38 311.91 L465.43 308.29 L465.48 314.32 L465.53 336.74 L465.58 355.98 L465.63 319.28 L465.68 309.50 L465.73 310.08 L465.78 321.51 L465.83 367.75 L465.88 333.11 L465.93 313.75 L465.98 309.01 L466.02 313.89 L466.07 333.39 L466.12 368.18 L466.17 322.08 L466.22 310.79 L466.27 310.34 L466.32 320.26 L466.37 357.11 L466.41 338.01 L466.46 315.72 L466.51 309.83 L466.56 313.59 L466.61 330.65 L466.65 388.56 L466.70 325.14 L466.75 312.19 L466.80 310.70 L466.85 319.23 L466.89 349.83 L466.94 343.73 L466.99 317.86 L467.04 310.75 L467.08 313.44 L467.13 328.38 L467.18 482.17 L467.23 328.51 L467.27 313.71 L467.32 311.16 L467.37 318.40 L467.42 344.40 L467.46 350.64 L467.51 320.18 L467.56 311.78 L467.60 313.40 L467.65 326.49 L467.70 390.04 L467.74 332.27 L467.79 315.35 L467.84 311.72 L467.88 317.75 L467.93 340.17 L467.98 359.40 L468.02 322.69 L468.07 312.90 L468.12 313.49 L468.16 324.91 L468.21 371.14 L468.25 336.49 L468.30 317.13 L468.35 312.39 L468.39 317.26 L468.44 336.75 L468.48 371.53 L468.53 325.43 L468.58 314.13 L468.62 313.68 L468.67 323.60 L468.71 360.44 L468.76 341.33 L468.80 319.05 L468.85 313.15 L468.89 316.91 L468.94 333.95 L468.98 391.86 L469.03 328.43 L469.07 315.48 L469.12 313.98 L469.16 322.51 L469.21 353.10 L469.25 347.00 L469.30 321.13 L469.34 314.02 L469.39 316.69 L469.43 331.63 L469.48 482.17 L469.52 331.75 L469.57 316.94 L469.61 314.39 L469.66 321.63 L469.70 347.63 L469.74 353.85 L469.79 323.39 L469.83 314.98 L469.88 316.60 L469.92 329.68 L469.97 393.23 L470.01 335.45 L470.05 318.53 L470.10 314.90 L470.14 320.92 L470.19 343.33 L470.23 362.56 L470.27 325.85 L470.32 316.05 L470.36 316.63 L470.40 328.05 L470.45 374.28 L470.49 339.63 L470.53 320.25 L470.58 315.51 L470.62 320.37 L470.66 339.87 L470.71 374.64 L470.75 328.53 L470.79 317.23 L470.84 316.78 L470.88 326.69 L470.92 363.53 L470.97 344.42 L471.01 322.12 L471.05 316.22 L471.09 319.97 L471.14 337.02 L471.18 394.92 L471.22 331.49 L471.26 318.53 L471.31 317.03 L471.35 325.55 L471.39 356.14 L471.43 350.03 L471.48 324.15 L471.52 317.04 L471.56 319.71 L471.60 334.64 L471.65 482.17 L471.69 334.76 L471.73 319.94 L471.77 317.39 L471.81 324.62 L471.86 350.61 L471.90 356.84 L471.94 326.36 L471.98 317.96 L472.02 319.57 L472.06 332.65 L472.11 396.19 L472.15 338.41 L472.19 321.48 L472.23 317.85 L472.27 323.86 L472.31 346.27 L472.35 365.50 L472.40 328.78 L472.44 318.98 L472.48 319.56 L472.52 330.97 L472.56 377.20 L472.60 342.54 L472.64 323.16 L472.68 318.41 L472.73 323.27 L472.77 342.76 L472.81 377.53 L472.85 331.42 L472.89 320.11 L472.93 319.65 L472.97 329.56 L473.01 366.39 L473.05 347.28 L473.09 324.98 L473.13 319.08 L473.17 322.83 L473.21 339.86 L473.25 397.76 L473.29 334.33 L473.33 321.36 L473.37 319.86 L473.41 328.38 L473.45 358.96 L473.50 352.85 L473.54 326.97 L473.58 319.85 L473.62 322.52 L473.66 337.44 L473.70 482.17 L473.74 337.55 L473.77 322.73 L473.81 320.17 L473.85 327.40 L473.89 353.39 L473.93 359.61 L473.97 329.14 L474.01 320.72 L474.05 322.34 L474.09 335.41 L474.13 398.95 L474.17 341.16 L474.21 324.23 L474.25 320.59 L474.29 326.60 L474.33 349.01 L474.37 368.23 L474.41 331.50 L474.45 321.70 L474.49 322.28 L474.52 333.69 L474.56 379.91 L474.60 345.25 L474.64 325.86 L474.68 321.11 L474.72 325.97 L474.76 345.45 L474.80 380.22 L474.84 334.10 L474.87 322.80 L474.91 322.33 L474.95 332.23 L474.99 369.06 L475.03 349.95 L475.07 327.65 L475.11 321.74 L475.14 325.48 L475.18 342.52 L475.22 400.41 L475.26 336.97 L475.30 324.00 L475.34 322.50 L475.37 331.01 L475.41 361.59 L475.45 355.48 L475.49 329.59 L475.53 322.47 L475.56 325.13 L475.60 340.06 L475.64 482.17 L475.68 340.16 L475.72 325.33 L475.75 322.77 L475.79 330.00 L475.83 355.98 L475.87 362.20 L475.90 331.72 L475.94 323.30 L475.98 324.91 L476.02 337.98 L476.05 401.52 L476.09 343.73 L476.13 326.79 L476.17 323.15 L476.20 329.16 L476.24 351.56 L476.28 370.78 L476.32 334.05 L476.35 324.25 L476.39 324.81 L476.43 336.22 L476.46 382.44 L476.50 347.77 L476.54 328.39 L476.58 323.63 L476.61 328.48 L476.65 347.97 L476.69 382.73 L476.72 336.61 L476.76 325.30 L476.80 324.83 L476.83 334.73 L476.87 371.56 L476.91 352.44 L476.94 330.13 L476.98 324.22 L477.02 327.96 L477.05 344.99 L477.09 402.88 L477.13 339.44 L477.16 326.47 L477.20 324.96 L477.24 333.47 L477.27 364.05 L477.31 357.93 L477.35 332.04 L477.38 324.91 L477.42 327.57 L477.45 342.49 L477.49 482.17 L477.53 342.59 L477.56 327.76 L477.60 325.20 L477.63 332.42 L477.67 358.40 L477.71 364.61 L477.74 334.13 L477.78 325.71 L477.81 327.32 L477.85 340.38 L477.88 403.92 L477.92 346.12 L477.96 329.19 L477.99 325.54 L478.03 331.55 L478.06 353.94 L478.10 373.16 L478.13 336.43 L478.17 326.62 L478.21 327.18 L478.24 338.59 L478.28 384.80 L478.31 350.13 L478.35 330.75 L478.38 325.99 L478.42 330.84 L478.45 350.32 L478.49 385.08 L478.52 338.95 L478.56 327.64 L478.59 327.17 L478.63 337.06 L478.66 373.89 L478.70 354.76 L478.73 332.46 L478.77 326.54 L478.80 330.28 L478.84 347.31 L478.87 405.19 L478.91 341.75 L478.94 328.78 L478.98 327.26 L479.01 335.77 L479.05 366.34 L479.08 360.22 L479.12 334.33 L479.15 327.20 L479.18 329.86 L479.22 344.78 L479.25 482.17 L479.29 344.86 L479.32 330.04 L479.36 327.47 L479.39 334.68 L479.43 360.66 L479.46 366.87 L479.49 336.39 L479.53 327.97 L479.56 329.57 L479.60 342.63 L479.63 406.16 L479.66 348.36 L479.70 331.42 L479.73 327.78 L479.77 333.78 L479.80 356.17 L479.83 375.39 L479.87 338.65 L479.90 328.84 L479.94 329.40 L479.97 340.80 L480.00 387.02 L480.04 352.34 L480.07 332.95 L480.11 328.19 L480.14 333.04 L480.17 352.52 L480.21 387.27 L480.24 341.15 L480.27 329.83 L480.31 329.35 L480.34 339.25 L480.37 376.07 L480.41 356.94 L480.44 334.63 L480.47 328.71 L480.51 332.45 L480.54 349.47 L480.57 407.36 L480.61 343.91 L480.64 330.93 L480.67 329.42 L480.71 337.93 L480.74 368.49 L480.77 362.37 L480.81 336.48 L480.84 329.34 L480.87 332.00 L480.91 346.91 L480.94 482.17 L480.97 346.99 L481.00 332.16 L481.04 329.59 L481.07 336.81 L481.10 362.78 L481.14 368.99 L481.17 338.50 L481.20 330.08 L481.23 331.68 L481.27 344.74 L481.30 408.27 L481.33 350.46 L481.37 333.52 L481.40 329.87 L481.43 335.87 L481.46 358.26 L481.50 377.47 L481.53 340.74 L481.56 330.92 L481.59 331.48 L481.62 342.88 L481.66 389.09 L481.69 354.42 L481.72 335.02 L481.75 330.26 L481.79 335.10 L481.82 354.58 L481.85 389.33 L481.88 343.20 L481.92 331.88 L481.95 331.40 L481.98 341.29 L482.01 378.11 L482.04 358.98 L482.08 336.67 L482.11 330.75 L482.14 334.48 L482.17 351.50 L482.20 409.39 L482.24 345.94 L482.27 332.96 L482.30 331.44 L482.33 339.94 L482.36 370.51 L482.39 364.38 L482.43 338.49 L482.46 331.35 L482.49 334.00 L482.52 348.91 L482.55 482.17 L482.58 348.99 L482.62 334.16 L482.65 331.58 L482.68 338.80 L482.71 364.77 L482.74 370.97 L482.77 340.48 L482.80 332.06 L482.84 333.65 L482.87 346.71 L482.90 410.24 L482.93 352.43 L482.96 335.49 L482.99 331.83 L483.02 337.83 L483.05 360.22 L483.09 379.43 L483.12 342.69 L483.15 332.87 L483.18 333.43 L483.21 344.83 L483.24 391.03 L483.27 356.36 L483.30 336.96 L483.33 332.19 L483.37 337.03 L483.40 356.51 L483.43 391.26 L483.46 345.13 L483.49 333.81 L483.52 333.32 L483.55 343.21 L483.58 380.03 L483.61 360.90 L483.64 338.58 L483.67 332.66 L483.70 336.39 L483.73 353.41 L483.77 411.29 L483.80 347.84 L483.83 334.85 L483.86 333.33 L483.89 341.83 L483.92 372.40 L483.95 366.27 L483.98 340.37 L484.01 333.23 L484.04 335.88 L484.07 350.79 L484.10 482.17 L484.13 350.86 L484.16 336.03 L484.19 333.45 L484.22 340.66 L484.25 366.63 L484.28 372.83 L484.31 342.34 L484.34 333.91 L484.37 335.51 L484.40 348.56 L484.43 412.09 L484.46 354.28 L484.49 337.33 L484.52 333.68 L484.55 339.67 L484.58 362.06 L484.61 381.26 L484.64 344.52 L484.67 334.70 L484.70 335.26 L484.73 346.65 L484.76 392.86 L484.79 358.18 L484.82 338.78 L484.85 334.01 L484.88 338.85 L484.91 358.32 L484.94 393.07 L484.97 346.93 L485.00 335.61 L485.03 335.13 L485.06 345.01 L485.09 381.83 L485.12 362.69 L485.15 340.38 L485.18 334.45 L485.21 338.18 L485.24 355.19 L485.26 413.07 L485.29 349.62 L485.32 336.63 L485.35 335.11 L485.38 343.61 L485.41 374.17 L485.44 368.04 L485.47 342.14 L485.50 335.00 L485.53 337.65 L485.56 352.55 L485.59 482.17 L485.62 352.62 L485.65 337.78 L485.67 335.20 L485.70 342.41 L485.73 368.38 L485.76 374.58 L485.79 344.09 L485.82 335.65 L485.85 337.25 L485.88 350.30 L485.91 413.82 L485.94 356.01 L485.96 339.06 L485.99 335.40 L486.02 341.40 L486.05 363.78 L486.08 382.98 L486.11 346.24 L486.14 336.42 L486.17 336.97 L486.19 348.36 L486.22 394.57 L486.25 359.89 L486.28 340.48 L486.31 335.71 L486.34 340.55 L486.37 360.02 L486.40 394.77 L486.42 348.63 L486.45 337.30 L486.48 336.82 L486.51 346.70 L486.54 383.51 L486.57 364.38 L486.59 342.06 L486.62 336.13 L486.65 339.85 L486.68 356.87 L486.71 414.74 L486.74 351.29 L486.76 338.30 L486.79 336.78 L486.82 345.27 L486.85 375.83 L486.88 369.70 L486.91 343.80 L486.93 336.65 L486.96 339.30 L486.99 354.21 L487.02 482.17 L487.05 354.27 L487.07 339.43 L487.10 336.85 L487.13 344.05 L487.16 370.02 L487.19 376.22 L487.21 345.72 L487.24 337.29 L487.27 338.88 L487.30 351.93 L487.33 415.45 L487.35 357.64 L487.38 340.69 L487.41 337.02 L487.44 343.02 L487.46 365.40 L487.49 384.60 L487.52 347.85 L487.55 338.03 L487.58 338.58 L487.60 349.97 L487.63 396.17 L487.66 361.49 L487.69 342.08 L487.71 337.31 L487.74 342.15 L487.77 361.61 L487.80 396.36 L487.82 350.22 L487.85 338.89 L487.88 338.40 L487.91 348.29 L487.93 385.09 L487.96 365.96 L487.99 343.64 L488.02 337.71 L488.04 341.43 L488.07 358.44 L488.10 416.31 L488.13 352.86 L488.15 339.87 L488.18 338.34 L488.21 346.84 L488.23 377.39 L488.26 371.26 L488.29 345.35 L488.32 338.21 L488.34 340.85 L488.37 355.75 L488.40 482.17 L488.42 355.81 L488.45 340.97 L488.48 338.39 L488.51 345.59 L488.53 371.56 L488.56 377.75 L488.59 347.26 L488.61 338.82 L488.64 340.41 L488.67 353.45 L488.69 416.97 L488.72 359.16 L488.75 342.21 L488.77 338.54 L488.80 344.53 L488.83 366.91 L488.85 386.11 L488.88 349.36 L488.91 339.54 L488.93 340.09 L488.96 351.48 L488.99 397.68 L489.01 362.99 L489.04 343.58 L489.07 338.81 L489.09 343.64 L489.12 363.10 L489.15 397.85 L489.17 351.71 L489.20 340.38 L489.23 339.89 L489.25 349.77 L489.28 386.58 L489.31 367.44 L489.33 345.11 L489.36 339.18 L489.39 342.90 L489.41 359.91 L489.44 417.78 L489.46 354.32 L489.49 341.34 L489.52 339.80 L489.54 348.30 L489.57 378.86 L489.60 372.72 L489.62 346.81 L489.65 339.66 L489.68 342.31 L489.70 357.21 L489.73 482.17 L489.75 357.26 L489.78 342.42 L489.81 339.83 L489.83 347.04 L489.86 373.00 L489.88 379.19 L489.91 348.69 L489.94 340.25 L489.96 341.84 L489.99 354.89 L490.01 418.40 L490.04 360.59 L490.07 343.63 L490.09 339.97 L490.12 345.96 L490.14 368.33 L490.17 387.53 L490.20 350.78 L490.22 340.96 L490.25 341.50 L490.27 352.89 L490.30 399.08 L490.32 364.40 L490.35 344.99 L490.38 340.21 L490.40 345.04 L490.43 364.50 L490.45 399.25 L490.48 353.10 L490.50 341.77 L490.53 341.28 L490.55 351.16 L490.58 387.97 L490.61 368.82 L490.63 346.50 L490.66 340.57 L490.68 344.28 L490.71 361.29 L490.73 419.16 L490.76 355.70 L490.78 342.71 L490.81 341.18 L490.84 349.67 L490.86 380.22 L490.89 374.09 L490.91 348.18 L490.94 341.03 L490.96 343.67 L490.99 358.57 L491.01 482.17 L491.04 358.62 L491.06 343.77 L491.09 341.18 L491.11 348.39 L491.14 374.35 L491.16 380.54 L491.19 350.04 L491.21 341.60 L491.24 343.18 L491.26 356.23 L491.29 419.74 L491.31 361.93 L491.34 344.97 L491.36 341.30 L491.39 347.29 L491.41 369.66 L491.44 388.86 L491.46 352.11 L491.49 342.28 L491.51 342.82 L491.54 354.21 L491.56 400.40 L491.59 365.71 L491.61 346.30 L491.64 341.53 L491.66 346.36 L491.69 365.82 L491.71 400.56 L491.74 354.41 L491.76 343.08 L491.79 342.58 L491.81 352.46 L491.84 389.27 L491.86 370.12 L491.89 347.80 L491.91 341.86 L491.94 345.58 L491.96 362.59 L491.99 420.45 L492.01 356.99 L492.04 344.00 L492.06 342.46 L492.08 350.95 L492.11 381.50 L492.13 375.36 L492.16 349.45 L492.18 342.30 L492.21 344.94 L492.23 359.84 L492.26 482.17 L492.28 359.89 L492.30 345.04 L492.33 342.45 L492.35 349.65 L492.38 375.61 L492.40 381.80 L492.43 351.30 L492.45 342.85 L492.48 344.44 L492.50 357.48 L492.52 420.99 L492.55 363.18 L492.57 346.22 L492.60 342.55 L492.62 348.53 L492.65 370.91 L492.67 390.10 L492.69 353.35 L492.72 343.52 L492.74 344.06 L492.77 355.44 L492.79 401.64 L492.81 366.95 L492.84 347.53 L492.86 342.76 L492.89 347.58 L492.91 367.04 L492.93 401.78 L492.96 355.63 L492.98 344.30 L493.01 343.80 L493.03 353.68 L493.05 390.48 L493.08 371.34 L493.10 349.01 L493.13 343.07 L493.15 346.79 L493.17 363.79 L493.20 421.66 L493.22 358.19 L493.25 345.20 L493.27 343.66 L493.29 352.15 L493.32 382.70 L493.34 376.56 L493.36 350.65 L493.39 343.49 L493.41 346.13 L493.44 361.03 L493.46 482.17 L493.48 361.07 L493.51 346.22 L493.53 343.63 L493.55 350.83 L493.58 376.79 L493.60 382.98 L493.63 352.47 L493.65 344.03 L493.67 345.61 L493.70 358.65 L493.72 422.16 L493.74 364.34 L493.77 347.38 L493.79 343.71 L493.81 349.69 L493.84 372.07 L493.86 391.26 L493.88 354.50 L493.91 344.67 L493.93 345.21 L493.95 356.60 L493.98 402.79 L494.00 368.09 L494.02 348.68 L494.05 343.90 L494.07 348.73 L494.09 368.18 L494.12 402.92 L494.14 356.77 L494.16 345.44 L494.19 344.94 L494.21 354.81 L494.23 391.61 L494.26 372.47 L494.28 350.14 L494.30 344.20 L494.33 347.91 L494.35 364.92 L494.37 422.78 L494.40 359.31 L494.42 346.32 L494.44 344.78 L494.47 353.27 L494.49 383.82 L494.51 377.67 L494.53 351.76 L494.56 344.61 L494.58 347.24 L494.60 362.14 L494.63 482.17 L494.65 362.18 L494.67 347.33 L494.70 344.73 L494.72 351.93 L494.74 377.89 L494.76 384.07 L494.79 353.57 L494.81 345.12 L494.83 346.70 L494.86 359.74 L494.88 423.25 L494.90 365.43 L494.92 348.47 L494.95 344.80 L494.97 350.78 L494.99 373.15 L495.01 392.34 L495.04 355.58 L495.06 345.75 L495.08 346.29 L495.11 357.67 L495.13 403.86 L495.15 369.17 L495.17 349.75 L495.20 344.97 L495.22 349.79 L495.24 369.25 L495.26 403.98 L495.29 357.83 L495.31 346.50 L495.33 346.00 L495.35 355.87 L495.38 392.67 L495.40 373.52 L495.42 351.19 L495.44 345.25 L495.47 348.96 L495.49 365.97 L495.51 423.83 L495.53 360.36 L495.56 347.36 L495.58 345.82 L495.60 354.31 L495.62 384.86 L495.65 378.71 L495.67 352.80 L495.69 345.64 L495.71 348.27 L495.74 363.17 L495.76 482.17 L495.78 363.21 L495.80 348.35 L495.82 345.76 L495.85 352.95 L495.87 378.91 L495.89 385.09 L495.91 354.59 L495.94 346.14 L495.96 347.72 L495.98 360.76 L496.00 424.26 L496.02 366.44 L496.05 349.48 L496.07 345.81 L496.09 351.78 L496.11 374.16 L496.14 393.34 L496.16 356.59 L496.18 346.75 L496.20 347.29 L496.22 358.67 L496.25 404.86 L496.27 370.16 L496.29 350.75 L496.31 345.96 L496.33 350.78 L496.36 370.24 L496.38 404.97 L496.40 358.82 L496.42 347.48 L496.44 346.98 L496.47 356.85 L496.49 393.65 L496.51 374.50 L496.53 352.17 L496.55 346.23 L496.57 349.94 L496.60 366.94 L496.62 424.80 L496.64 361.33 L496.66 348.33 L496.68 346.79 L496.71 355.27 L496.73 385.82 L496.75 379.67 L496.77 353.76 L496.79 346.60 L496.81 349.23 L496.84 364.12 L496.86 482.17 L496.88 364.16 L496.90 349.31 L496.92 346.71 L496.94 353.90 L496.97 379.86 L496.99 386.04 L497.01 355.53 L497.03 347.08 L497.05 348.66 L497.07 361.70 L497.09 425.20 L497.12 367.38 L497.14 350.41 L497.16 346.74 L497.18 352.72 L497.20 375.09 L497.22 394.27 L497.25 357.51 L497.27 347.68 L497.29 348.22 L497.31 359.59 L497.33 405.78 L497.35 371.08 L497.37 351.67 L497.39 346.88 L497.42 351.70 L497.44 371.15 L497.46 405.89 L497.48 359.73 L497.50 348.39 L497.52 347.89 L497.54 357.76 L497.57 394.56 L497.59 375.41 L497.61 353.07 L497.63 347.13 L497.65 350.84 L497.67 367.84 L497.69 425.70 L497.71 362.23 L497.74 349.23 L497.76 347.68 L497.78 356.17 L497.80 386.71 L497.82 380.56 L497.84 354.65 L497.86 347.49 L497.88 350.12 L497.90 365.01 L497.93 482.17 L497.95 365.04 L497.97 350.19 L497.99 347.59 L498.01 354.78 L498.03 380.73 L498.05 386.92 L498.07 356.41 L498.09 347.96 L498.11 349.53 L498.14 362.57 L498.16 426.07 L498.18 368.25 L498.20 351.28 L498.22 347.60 L498.24 353.58 L498.26 375.95 L498.28 395.13 L498.30 358.37 L498.32 348.54 L498.34 349.07 L498.36 360.45 L498.39 406.63 L498.41 371.93 L498.43 352.52 L498.45 347.73 L498.47 352.55 L498.49 372.00 L498.51 406.73 L498.53 360.58 L498.55 349.23 L498.57 348.73 L498.59 358.60 L498.61 395.39 L498.63 376.24 L498.66 353.91 L498.68 347.96 L498.70 351.67 L498.72 368.67 L498.74 426.53 L498.76 363.05 L498.78 350.05 L498.80 348.51 L498.82 356.99 L498.84 387.53 L498.86 381.39 L498.88 355.47 L498.90 348.31 L498.92 350.94 L498.94 365.82 L498.96 482.17 L498.98 365.85 L499.00 351.00 L499.03 348.40 L499.05 355.59 L499.07 381.54 L499.09 387.72 L499.11 357.21 L499.13 348.76 L499.15 350.33 L499.17 363.37 L499.19 426.87 L499.21 369.04 L499.23 352.08 L499.25 348.40 L499.27 354.37 L499.29 376.74 L499.31 395.93 L499.33 359.16 L499.35 349.33 L499.37 349.86 L499.39 361.23 L499.41 407.42 L499.43 372.72 L499.45 353.30 L499.47 348.51 L499.49 353.33 L499.51 372.78 L499.53 407.51 L499.55 361.35 L499.57 350.01 L499.59 349.50 L499.61 359.37 L499.63 396.16 L499.65 377.01 L499.67 354.67 L499.69 348.73 L499.71 352.43 L499.73 369.43 L499.75 427.29 L499.78 363.81 L499.80 350.81 L499.82 349.27 L499.84 357.75 L499.86 388.29 L499.88 382.14 L499.90 356.22 L499.92 349.06 L499.94 351.68 L499.96 366.57 L499.98 482.17 L500.00 366.60 L500.01 351.74 L500.03 349.14 L500.05 356.33 L500.07 382.28 L500.09 388.46 L500.11 357.95 L500.13 349.49 L500.15 351.07 L500.17 364.10 L500.19 427.60 L500.21 369.77 L500.23 352.81 L500.25 349.13 L500.27 355.10 L500.29 377.47 L500.31 396.65 L500.33 359.89 L500.35 350.05 L500.37 350.58 L500.39 361.95 L500.41 408.13 L500.43 373.43 L500.45 354.01 L500.47 349.22 L500.49 354.04 L500.51 373.49 L500.53 408.22 L500.55 362.06 L500.57 350.71 L500.59 350.21 L500.61 360.08 L500.63 396.87 L500.65 377.71 L500.67 355.37 L500.69 349.43 L500.71 353.13 L500.73 370.13 L500.75 427.98 L500.77 364.51 L500.78 351.50 L500.80 349.96 L500.82 358.44 L500.84 388.98 L500.86 382.83 L500.88 356.90 L500.90 349.74 L500.92 352.37 L500.94 367.25 L500.96 482.17 L500.98 367.28 L501.00 352.42 L501.02 349.82 L501.04 357.01 L501.06 382.96 L501.08 389.13 L501.10 358.62 L501.12 350.17 L501.13 351.74 L501.15 364.77 L501.17 428.27 L501.19 370.44 L501.21 353.47 L501.23 349.79 L501.25 355.76 L501.27 378.13 L501.29 397.31 L501.31 360.54 L501.33 350.70 L501.35 351.23 L501.37 362.60 L501.39 408.79 L501.40 374.08 L501.42 354.66 L501.44 349.87 L501.46 354.69 L501.48 374.13 L501.50 408.86 L501.52 362.70 L501.54 351.36 L501.56 350.85 L501.58 360.72 L501.60 397.51 L501.62 378.35 L501.63 356.01 L501.65 350.06 L501.67 353.77 L501.69 370.76 L501.71 428.61 L501.73 365.14 L501.75 352.13 L501.77 350.58 L501.79 359.06 L501.81 389.60 L501.82 383.45 L501.84 357.53 L501.86 350.36 L501.88 352.99 L501.90 367.87 L501.92 482.17 L501.94 367.90 L501.96 353.03 L501.98 350.43 L502.00 357.62 L502.01 383.57 L502.03 389.74 L502.05 359.23 L502.07 350.77 L502.09 352.34 L502.11 365.37 L502.13 428.87 L502.15 371.04 L502.17 354.07 L502.18 350.39 L502.20 356.36 L502.22 378.72 L502.24 397.90 L502.26 361.14 L502.28 351.30 L502.30 351.83 L502.32 363.20 L502.33 409.38 L502.35 374.67 L502.37 355.25 L502.39 350.46 L502.41 355.27 L502.43 374.72 L502.45 409.44 L502.47 363.28 L502.48 351.94 L502.50 351.43 L502.52 361.29 L502.54 398.08 L502.56 378.92 L502.58 356.58 L502.60 350.63 L502.61 354.34 L502.63 371.33 L502.65 429.18 L502.67 365.70 L502.69 352.70 L502.71 351.15 L502.73 359.63 L502.74 390.16 L502.76 384.01 L502.78 358.08 L502.80 350.92 L502.82 353.54 L502.84 368.43 L502.86 482.17 L502.87 368.45 L502.89 353.59 L502.91 350.98 L502.93 358.17 L502.95 384.11 L502.97 390.29 L502.99 359.77 L503.00 351.32 L503.02 352.89 L503.04 365.91 L503.06 429.41 L503.08 371.58 L503.10 354.61 L503.11 350.93 L503.13 356.90 L503.15 379.26 L503.17 398.44 L503.19 361.67 L503.21 351.83 L503.22 352.35 L503.24 363.72 L503.26 409.90 L503.28 375.20 L503.30 355.77 L503.32 350.98 L503.33 355.79 L503.35 375.24 L503.37 409.96 L503.39 363.80 L503.41 352.45 L503.43 351.94 L503.44 361.81 L503.46 398.59 L503.48 379.44 L503.50 357.09 L503.52 351.14 L503.53 354.84 L503.55 371.84 L503.57 429.69 L503.59 366.21 L503.61 353.20 L503.62 351.65 L503.64 360.13 L503.66 390.66 L503.68 384.51 L503.70 358.58 L503.72 351.42 L503.73 354.04 L503.75 368.92 L503.77 482.17 L503.79 368.94 L503.81 354.08 L503.82 351.47 L503.84 358.66 L503.86 384.60 L503.88 390.77 L503.90 360.26 L503.91 351.80 L503.93 353.37 L503.95 366.39 L503.97 429.89 L503.99 372.06 L504.00 355.08 L504.02 351.40 L504.04 357.37 L504.06 379.73 L504.08 398.91 L504.09 362.14 L504.11 352.30 L504.13 352.82 L504.15 364.19 L504.16 410.37 L504.18 375.66 L504.20 356.24 L504.22 351.44 L504.24 356.25 L504.25 375.70 L504.27 410.42 L504.29 364.26 L504.31 352.91 L504.33 352.40 L504.34 362.26 L504.36 399.05 L504.38 379.89 L504.40 357.54 L504.41 351.59 L504.43 355.29 L504.45 372.28 L504.47 430.13 L504.49 366.65 L504.50 353.64 L504.52 352.09 L504.54 360.57 L504.56 391.10 L504.57 384.95 L504.59 359.02 L504.61 351.85 L504.63 354.47 L504.64 369.35 L504.66 482.17 L504.68 369.37 L504.70 354.51 L504.71 351.90 L504.73 359.08 L504.75 385.03 L504.77 391.20 L504.79 360.68 L504.80 352.22 L504.82 353.79 L504.84 366.81 L504.86 430.31 L504.87 372.48 L504.89 355.50 L504.91 351.82 L504.93 357.78 L504.94 380.14 L504.96 399.32 L504.98 362.55 L505.00 352.71 L505.01 353.23 L505.03 364.60 L505.05 410.77 L505.07 376.07 L505.08 356.64 L505.10 351.84 L505.12 356.66 L505.13 376.10 L505.15 410.82 L505.17 364.66 L505.19 353.31 L505.20 352.80 L505.22 362.65 L505.24 399.44 L505.26 380.28 L505.27 357.93 L505.29 351.98 L505.31 355.68 L505.33 372.67 L505.34 430.52 L505.36 367.04 L505.38 354.03 L505.40 352.48 L505.41 360.95 L505.43 391.48 L505.45 385.33 L505.46 359.40 L505.48 352.23 L505.50 354.85 L505.52 369.73 L505.53 482.17 L505.55 369.74 L505.57 354.88 L505.59 352.27 L505.60 359.45 L505.62 385.39 L505.64 391.57 L505.65 361.04 L505.67 352.59 L505.69 354.15 L505.71 367.18 L505.72 430.67 L505.74 372.84 L505.76 355.86 L505.77 352.17 L505.79 358.14 L505.81 380.50 L505.83 399.67 L505.84 362.90 L505.86 353.06 L505.88 353.58 L505.89 364.95 L505.91 411.12 L505.93 376.41 L505.94 356.99 L505.96 352.19 L505.98 357.00 L506.00 376.44 L506.01 411.16 L506.03 365.00 L506.05 353.64 L506.06 353.13 L506.08 362.99 L506.10 399.77 L506.11 380.61 L506.13 358.27 L506.15 352.31 L506.17 356.01 L506.18 373.00 L506.20 430.85 L506.22 367.36 L506.23 354.35 L506.25 352.80 L506.27 361.27 L506.28 391.80 L506.30 385.65 L506.32 359.72 L506.33 352.55 L506.35 355.17 L506.37 370.04 L506.39 482.17 L506.40 370.06 L506.42 355.19 L506.44 352.58 L506.45 359.76 L506.47 385.70 L506.49 391.87 L506.50 361.35 L506.52 352.89 L506.54 354.46 L506.55 367.48 L506.57 430.97 L506.59 373.14 L506.60 356.16 L506.62 352.47 L506.64 358.44 L506.65 380.79 L506.67 399.97 L506.69 363.20 L506.70 353.35 L506.72 353.87 L506.74 365.24 L506.75 411.41 L506.77 376.70 L506.79 357.27 L506.80 352.47 L506.82 357.28 L506.84 376.72 L506.85 411.44 L506.87 365.28 L506.89 353.92 L506.90 353.41 L506.92 363.27 L506.94 400.05 L506.95 380.89 L506.97 358.54 L506.99 352.58 L507.00 356.28 L507.02 373.27 L507.04 431.12 L507.05 367.63 L507.07 354.62 L507.09 353.06 L507.10 361.54 L507.12 392.07 L507.14 385.91 L507.15 359.98 L507.17 352.80 L507.19 355.42 L507.20 370.30 L507.22 482.17 L507.24 370.31 L507.25 355.44 L507.27 352.83 L507.28 360.01 L507.30 385.95 L507.32 392.12 L507.33 361.60 L507.35 353.14 L507.37 354.70 L507.38 367.72 L507.40 431.22 L507.42 373.38 L507.43 356.40 L507.45 352.71 L507.47 358.68 L507.48 381.03 L507.50 400.20 L507.51 363.43 L507.53 353.58 L507.55 354.10 L507.56 365.47 L507.58 411.64 L507.60 376.93 L507.61 357.50 L507.63 352.70 L507.64 357.51 L507.66 376.95 L507.68 411.66 L507.69 365.50 L507.71 354.14 L507.73 353.63 L507.74 363.49 L507.76 400.27 L507.78 381.10 L507.79 358.76 L507.81 352.80 L507.82 356.49 L507.84 373.48 L507.86 431.33 L507.87 367.84 L507.89 354.83 L507.90 353.27 L507.92 361.74 L507.94 392.27 L507.95 386.11 L507.97 360.18 L507.99 353.01 L508.00 355.62 L508.02 370.50 L508.03 482.17 L508.05 370.51 L508.07 355.64 L508.08 353.03 L508.10 360.21 L508.11 386.15 L508.13 392.31 L508.15 361.79 L508.16 353.33 L508.18 354.89 L508.20 367.91 L508.21 431.40 L508.23 373.56 L508.24 356.58 L508.26 352.89 L508.28 358.86 L508.29 381.21 L508.31 400.38 L508.32 363.61 L508.34 353.76 L508.36 354.28 L508.37 365.64 L508.39 411.81 L508.40 377.10 L508.42 357.67 L508.44 352.87 L508.45 357.68 L508.47 377.11 L508.48 411.83 L508.50 365.66 L508.52 354.31 L508.53 353.79 L508.55 363.65 L508.56 400.43 L508.58 381.26 L508.59 358.91 L508.61 352.96 L508.63 356.65 L508.64 373.64 L508.66 431.48 L508.67 368.00 L508.69 354.98 L508.71 353.42 L508.72 361.89 L508.74 392.42 L508.75 386.26 L508.77 360.33 L508.78 353.15 L508.80 355.77 L508.82 370.64 L508.83 482.17 L508.85 370.65 L508.86 355.78 L508.88 353.17 L508.90 360.34 L508.91 386.28 L508.93 392.45 L508.94 361.92 L508.96 353.46 L508.97 355.02 L508.99 368.04 L509.01 431.53 L509.02 373.69 L509.04 356.71 L509.05 353.02 L509.07 358.98 L509.08 381.34 L509.10 400.51 L509.12 363.73 L509.13 353.88 L509.15 354.40 L509.16 365.76 L509.18 411.93 L509.19 377.22 L509.21 357.79 L509.23 352.98 L509.24 357.79 L509.26 377.22 L509.27 411.94 L509.29 365.77 L509.30 354.42 L509.32 353.90 L509.33 363.75 L509.35 400.53 L509.37 381.37 L509.38 359.02 L509.40 353.06 L509.41 356.75 L509.43 373.74 L509.44 431.58 L509.46 368.09 L509.47 355.07 L509.49 353.52 L509.51 361.98 L509.52 392.51 L509.54 386.35 L509.55 360.41 L509.57 353.24 L509.58 355.86 L509.60 370.73 L509.61 482.17 L509.63 370.73 L509.65 355.86 L509.66 353.25 L509.68 360.42 L509.69 386.36 L509.71 392.53 L509.72 362.00 L509.74 353.53 L509.75 355.10 L509.77 368.11 L509.78 431.60 L509.80 373.76 L509.81 356.78 L509.83 353.09 L509.85 359.05 L509.86 381.40 L509.88 400.57 L509.89 363.79 L509.91 353.94 L509.92 354.46 L509.94 365.82 L509.95 411.99 L509.97 377.28 L509.98 357.84 L510.00 353.04 L510.01 357.84 L510.03 377.28 L510.04 411.99 L510.06 365.83 L510.08 354.47 L510.09 353.95 L510.11 363.80 L510.12 400.58 L510.14 381.41 L510.15 359.06 L510.17 353.10 L510.18 356.79 L510.20 373.78 L510.21 431.62 L510.23 368.13 L510.24 355.11 L510.26 353.55 L510.27 362.02 L510.29 392.55 L510.30 386.38 L510.32 360.45 L510.33 353.27 L510.35 355.89 L510.36 370.76 L510.38 482.17" fill="none" stroke="#1a499b" stroke-width="1.25" stroke-linejoin="round"/>
<path d="M240.02 278.08 L255.39 266.65 L266.30 258.61 L274.76 252.43 L281.67 247.45 L287.52 243.30 L292.58 239.78 L297.05 236.74 L301.04 234.09 L304.65 231.76 L307.95 229.70 L310.99 227.89 L313.80 226.28 L316.41 224.86 L318.86 223.61 L321.16 222.51 L323.33 221.55 L325.38 220.73 L327.32 220.04 L329.17 219.47 L330.93 219.02 L332.62 218.67 L334.23 218.45 L335.78 218.33 L337.27 218.32 L338.70 218.41 L340.08 218.63 L341.41 218.95 L342.69 219.39 L343.94 219.95 L345.14 220.64 L346.31 221.46 L347.44 222.43 L348.54 223.55 L349.61 224.84 L350.64 226.31 L351.66 228.00 L352.64 229.92 L353.60 232.11 L354.54 234.63 L355.45 237.53 L356.34 240.92 L357.21 244.93 L358.07 249.78 L358.90 255.82 L359.71 263.72 L360.51 275.00 L361.29 294.49 L362.06 482.17 L362.81 294.20 L363.55 274.44 L364.27 262.87 L364.98 254.68 L365.67 248.35 L366.36 243.22 L367.03 238.93 L367.69 235.25 L368.34 232.06 L368.97 229.25 L369.60 226.77 L370.22 224.55 L370.82 222.58 L371.42 220.81 L372.01 219.22 L372.59 217.81 L373.16 216.54 L373.72 215.42 L374.27 214.43 L374.82 213.56 L375.35 212.81 L375.89 212.18 L376.41 211.66 L376.92 211.25 L377.43 210.94 L377.93 210.74 L378.43 210.65 L378.92 210.66 L379.40 210.79 L379.88 211.03 L380.35 211.38 L380.82 211.86 L381.28 212.47 L381.73 213.22 L382.18 214.12 L382.62 215.19 L383.06 216.43 L383.49 217.88 L383.92 219.56 L384.35 221.51 L384.76 223.78 L385.18 226.43 L385.59 229.56 L385.99 233.30 L386.40 237.88 L386.79 243.64 L387.19 251.25 L387.57 262.24 L387.96 281.43 L388.34 482.17 L388.72 280.52 L389.09 260.42 L389.46 248.52 L389.83 239.99 L390.19 233.31 L390.55 227.81 L390.91 223.14 L391.26 219.07 L391.61 215.48 L391.95 212.26 L392.30 209.35 L392.64 206.69 L392.97 204.26 L393.31 202.02 L393.64 199.94 L393.97 198.01 L394.29 196.21 L394.62 194.53 L394.94 192.97 L395.25 191.50 L395.57 190.12 L395.88 188.83 L396.19 187.62 L396.50 186.48 L396.80 185.41 L397.10 184.41 L397.40 183.47 L397.70 182.60 L397.99 181.78 L398.29 181.01 L398.58 180.30 L398.87 179.63 L399.15 179.02 L399.44 178.45 L399.72 177.93 L400.00 177.46 L400.28 177.02 L400.55 176.64 L400.83 176.29 L401.10 175.98 L401.37 175.71 L401.63 175.49 L401.90 175.30 L402.16 175.15 L402.43 175.04 L402.69 174.96 L402.95 174.92 L403.20 174.93 L403.46 174.96 L403.71 175.04 L403.96 175.15 L404.21 175.30 L404.46 175.49 L404.71 175.71 L404.96 175.97 L405.20 176.27 L405.44 176.61 L405.68 176.98 L405.92 177.40 L406.16 177.85 L406.40 178.35 L406.63 178.88 L406.86 179.46 L407.10 180.08 L407.33 180.74 L407.56 181.45 L407.78 182.20 L408.01 183.00 L408.23 183.85 L408.46 184.76 L408.68 185.71 L408.90 186.72 L409.12 187.78 L409.34 188.91 L409.56 190.10 L409.77 191.35 L409.99 192.68 L410.20 194.08 L410.41 195.56 L410.63 197.13 L410.84 198.78 L411.04 200.54 L411.25 202.41 L411.46 204.39 L411.66 206.51 L411.87 208.78 L412.07 211.21 L412.27 213.84 L412.48 216.68 L412.68 219.79 L412.87 223.20 L413.07 226.98 L413.27 231.24 L413.47 236.10 L413.66 241.79 L413.85 248.66 L414.05 257.38 L414.24 269.48 L414.43 289.76 L414.62 482.17 L414.81 291.06 L415.00 272.07 L415.18 261.27 L415.37 253.85 L415.56 248.28 L415.74 243.90 L415.92 240.35 L416.11 237.42 L416.29 234.96 L416.47 232.89 L416.65 231.13 L416.83 229.65 L417.01 228.39 L417.19 227.34 L417.36 226.48 L417.54 225.77 L417.71 225.22 L417.89 224.81 L418.06 224.52 L418.23 224.37 L418.41 224.32 L418.58 224.40 L418.75 224.58 L418.92 224.87 L419.09 225.27 L419.25 225.78 L419.42 226.39 L419.59 227.11 L419.75 227.95 L419.92 228.90 L420.08 229.96 L420.25 231.16 L420.41 232.48 L420.57 233.95 L420.73 235.57 L420.90 237.36 L421.06 239.33 L421.22 241.51 L421.37 243.93 L421.53 246.62 L421.69 249.63 L421.85 253.03 L422.00 256.92 L422.16 261.42 L422.31 266.76 L422.47 273.29 L422.62 281.69 L422.78 293.47 L422.93 313.44 L423.08 482.17 L423.23 314.15 L423.38 294.88 L423.53 283.81 L423.68 276.12 L423.83 270.29 L423.98 265.66 L424.13 261.86 L424.27 258.69 L424.42 256.00 L424.57 253.70 L424.71 251.72 L424.86 250.02 L425.00 248.55 L425.15 247.30 L425.29 246.23 L425.43 245.32 L425.57 244.58 L425.72 243.98 L425.86 243.51 L426.00 243.17 L426.14 242.95 L426.28 242.85 L426.42 242.87 L426.56 243.00 L426.69 243.23 L426.83 243.58 L426.97 244.04 L427.11 244.61 L427.24 245.29 L427.38 246.09 L427.51 247.02 L427.65 248.07 L427.78 249.25 L427.91 250.59 L428.05 252.07 L428.18 253.73 L428.31 255.57 L428.44 257.63 L428.58 259.92 L428.71 262.49 L428.84 265.38 L428.97 268.66 L429.10 272.43 L429.23 276.82 L429.36 282.04 L429.48 288.47 L429.61 296.76 L429.74 308.43 L429.87 328.30 L429.99 482.17 L430.12 328.80 L430.24 309.43 L430.37 298.26 L430.49 290.47 L430.62 284.55 L430.74 279.82 L430.87 275.93 L430.99 272.66 L431.11 269.88 L431.24 267.49 L431.36 265.43 L431.48 263.64 L431.60 262.09 L431.72 260.75 L431.84 259.59 L431.96 258.61 L432.08 257.79 L432.20 257.10 L432.32 256.56 L432.44 256.14 L432.56 255.85 L432.68 255.67 L432.79 255.61 L432.91 255.66 L433.03 255.83 L433.14 256.10 L433.26 256.49 L433.38 256.99 L433.49 257.60 L433.61 258.34 L433.72 259.19 L433.84 260.18 L433.95 261.30 L434.06 262.57 L434.18 263.99 L434.29 265.58 L434.40 267.36 L434.51 269.35 L434.63 271.59 L434.74 274.09 L434.85 276.92 L434.96 280.15 L435.07 283.86 L435.18 288.19 L435.29 293.36 L435.40 299.72 L435.51 307.96 L435.62 319.57 L435.73 339.39 L435.84 482.17 L435.95 339.78 L436.05 320.35 L436.16 309.13 L436.27 301.29 L436.37 295.32 L436.48 290.54 L436.59 286.60 L436.69 283.29 L436.80 280.45 L436.91 278.02 L437.01 275.90 L437.12 274.06 L437.22 272.47 L437.32 271.08 L437.43 269.88 L437.53 268.85 L437.64 267.98 L437.74 267.25 L437.84 266.66 L437.94 266.20 L438.05 265.86 L438.15 265.64 L438.25 265.54 L438.35 265.55 L438.45 265.67 L438.55 265.90 L438.65 266.25 L438.75 266.71 L438.86 267.28 L438.96 267.97 L439.05 268.79 L439.15 269.74 L439.25 270.82 L439.35 272.05 L439.45 273.43 L439.55 274.98 L439.65 276.73 L439.74 278.68 L439.84 280.88 L439.94 283.34 L440.04 286.14 L440.13 289.33 L440.23 293.00 L440.33 297.29 L440.42 302.43 L440.52 308.76 L440.61 316.96 L440.71 328.54 L440.80 348.32 L440.90 482.17 L440.99 348.64 L441.09 329.19 L441.18 317.93 L441.28 310.06 L441.37 304.05 L441.46 299.24 L441.56 295.27 L441.65 291.92 L441.74 289.06 L441.84 286.59 L441.93 284.44 L442.02 282.58 L442.11 280.95 L442.20 279.53 L442.30 278.30 L442.39 277.24 L442.48 276.34 L442.57 275.58 L442.66 274.96 L442.75 274.47 L442.84 274.10 L442.93 273.86 L443.02 273.73 L443.11 273.71 L443.20 273.80 L443.29 274.01 L443.38 274.32 L443.46 274.75 L443.55 275.30 L443.64 275.97 L443.73 276.76 L443.82 277.67 L443.91 278.73 L443.99 279.93 L444.08 281.29 L444.17 282.82 L444.25 284.53 L444.34 286.46 L444.43 288.63 L444.51 291.07 L444.60 293.84 L444.69 297.01 L444.77 300.65 L444.86 304.92 L444.94 310.03 L445.03 316.34 L445.11 324.51 L445.20 336.07 L445.28 355.83 L445.37 482.17 L445.45 356.11 L445.53 336.62 L445.62 325.35 L445.70 317.45 L445.78 311.42 L445.87 306.59 L445.95 302.59 L446.03 299.22 L446.12 296.34 L446.20 293.85 L446.28 291.68 L446.36 289.79 L446.45 288.14 L446.53 286.70 L446.61 285.45 L446.69 284.37 L446.77 283.44 L446.85 282.67 L446.93 282.03 L447.01 281.51 L447.09 281.13 L447.18 280.86 L447.26 280.71 L447.34 280.67 L447.42 280.74 L447.50 280.92 L447.57 281.22 L447.65 281.63 L447.73 282.16 L447.81 282.81 L447.89 283.58 L447.97 284.47 L448.05 285.51 L448.13 286.69 L448.21 288.03 L448.28 289.54 L448.36 291.24 L448.44 293.15 L448.52 295.30 L448.59 297.72 L448.67 300.47 L448.75 303.62 L448.83 307.25 L448.90 311.50 L448.98 316.59 L449.06 322.88 L449.13 331.04 L449.21 342.58 L449.28 362.32 L449.36 482.17 L449.44 362.56 L449.51 343.06 L449.59 331.76 L449.66 323.85 L449.74 317.80 L449.81 312.95 L449.89 308.94 L449.96 305.55 L450.04 302.65 L450.11 300.14 L450.19 297.96 L450.26 296.05 L450.33 294.39 L450.41 292.93 L450.48 291.66 L450.55 290.57 L450.63 289.63 L450.70 288.83 L450.77 288.18 L450.85 287.65 L450.92 287.25 L450.99 286.96 L451.07 286.79 L451.14 286.74 L451.21 286.80 L451.28 286.97 L451.35 287.25 L451.43 287.65 L451.50 288.16 L451.57 288.79 L451.64 289.54 L451.71 290.43 L451.78 291.45 L451.85 292.61 L451.93 293.94 L452.00 295.43 L452.07 297.12 L452.14 299.01 L452.21 301.15 L452.28 303.56 L452.35 306.30 L452.42 309.43 L452.49 313.04 L452.56 317.28 L452.63 322.36 L452.70 328.63 L452.77 336.77 L452.84 348.30 L452.90 368.03 L452.97 482.17 L453.04 368.24 L453.11 348.73 L453.18 337.42 L453.25 329.49 L453.32 323.43 L453.38 318.57 L453.45 314.54 L453.52 311.14 L453.59 308.23 L453.66 305.71 L453.72 303.51 L453.79 301.59 L453.86 299.91 L453.93 298.44 L453.99 297.16 L454.06 296.05 L454.13 295.10 L454.19 294.29 L454.26 293.63 L454.33 293.09 L454.39 292.67 L454.46 292.37 L454.53 292.19 L454.59 292.13 L454.66 292.17 L454.72 292.33 L454.79 292.60 L454.86 292.98 L454.92 293.48 L454.99 294.10 L455.05 294.84 L455.12 295.72 L455.18 296.73 L455.25 297.88 L455.31 299.19 L455.38 300.68 L455.44 302.35 L455.51 304.23 L455.57 306.36 L455.64 308.76 L455.70 311.48 L455.76 314.60 L455.83 318.20 L455.89 322.43 L455.96 327.50 L456.02 333.76 L456.08 341.89 L456.15 353.41 L456.21 373.12 L456.27 482.17 L456.34 373.32 L456.40 353.79 L456.46 342.47 L456.52 334.53 L456.59 328.46 L456.65 323.59 L456.71 319.55 L456.77 316.14 L456.84 313.22 L456.90 310.68 L456.96 308.48 L457.02 306.55 L457.09 304.86 L457.15 303.38 L457.21 302.09 L457.27 300.97 L457.33 300.00 L457.39 299.19 L457.45 298.51 L457.52 297.96 L457.58 297.53 L457.64 297.23 L457.70 297.04 L457.76 296.96 L457.82 297.00 L457.88 297.14 L457.94 297.40 L458.00 297.78 L458.06 298.27 L458.12 298.88 L458.18 299.61 L458.24 300.47 L458.30 301.47 L458.36 302.62 L458.42 303.92 L458.48 305.39 L458.54 307.06 L458.60 308.93 L458.66 311.04 L458.72 313.44 L458.78 316.15 L458.84 319.26 L458.90 322.85 L458.96 327.07 L459.01 332.13 L459.07 338.38 L459.13 346.51 L459.19 358.01 L459.25 377.72 L459.31 482.17 L459.37 377.89 L459.42 358.36 L459.48 347.03 L459.54 339.08 L459.60 333.00 L459.66 328.12 L459.71 324.08 L459.77 320.66 L459.83 317.72 L459.89 315.18 L459.94 312.97 L460.00 311.03 L460.06 309.33 L460.12 307.84 L460.17 306.54 L460.23 305.41 L460.29 304.44 L460.34 303.62 L460.40 302.93 L460.46 302.37 L460.51 301.94 L460.57 301.62 L460.63 301.42 L460.68 301.34 L460.74 301.37 L460.79 301.51 L460.85 301.76 L460.91 302.12 L460.96 302.60 L461.02 303.21 L461.07 303.93 L461.13 304.78 L461.18 305.78 L461.24 306.91 L461.30 308.21 L461.35 309.67 L461.41 311.33 L461.46 313.20 L461.52 315.30 L461.57 317.68 L461.63 320.39 L461.68 323.49 L461.74 327.08 L461.79 331.29 L461.85 336.34 L461.90 342.58 L461.95 350.70 L462.01 362.20 L462.06 381.90 L462.12 482.17 L462.17 382.06 L462.23 362.52 L462.28 351.18 L462.33 343.22 L462.39 337.14 L462.44 332.25 L462.49 328.20 L462.55 324.77 L462.60 321.83 L462.65 319.28 L462.71 317.05 L462.76 315.11 L462.81 313.40 L462.87 311.91 L462.92 310.60 L462.97 309.46 L463.03 308.49 L463.08 307.65 L463.13 306.96 L463.19 306.39 L463.24 305.95 L463.29 305.63 L463.34 305.42 L463.40 305.33 L463.45 305.35 L463.50 305.49 L463.55 305.73 L463.60 306.09 L463.66 306.56 L463.71 307.16 L463.76 307.88 L463.81 308.72 L463.86 309.71 L463.92 310.84 L463.97 312.13 L464.02 313.58 L464.07 315.23 L464.12 317.09 L464.17 319.19 L464.22 321.57 L464.28 324.27 L464.33 327.36 L464.38 330.94 L464.43 335.15 L464.48 340.19 L464.53 346.43 L464.58 354.54 L464.63 366.03 L464.68 385.72 L464.73 482.17 L464.78 385.87 L464.83 366.32 L464.88 354.98 L464.93 347.01 L464.98 340.92 L465.03 336.03 L465.08 331.97 L465.14 328.53 L465.19 325.59 L465.23 323.03 L465.28 320.80 L465.33 318.85 L465.38 317.14 L465.43 315.63 L465.48 314.32 L465.53 313.18 L465.58 312.20 L465.63 311.36 L465.68 310.66 L465.73 310.08 L465.78 309.64 L465.83 309.31 L465.88 309.10 L465.93 309.00 L465.98 309.01 L466.02 309.14 L466.07 309.38 L466.12 309.73 L466.17 310.20 L466.22 310.79 L466.27 311.50 L466.32 312.34 L466.37 313.32 L466.41 314.44 L466.46 315.72 L466.51 317.18 L466.56 318.82 L466.61 320.67 L466.65 322.77 L466.70 325.14 L466.75 327.83 L466.80 330.92 L466.85 334.50 L466.89 338.69 L466.94 343.73 L466.99 349.96 L467.04 358.07 L467.08 369.55 L467.13 389.24 L467.18 482.17 L467.23 389.37 L467.27 369.82 L467.32 358.47 L467.37 350.50 L467.42 344.40 L467.46 339.50 L467.51 335.44 L467.56 332.00 L467.60 329.05 L467.65 326.49 L467.70 324.25 L467.74 322.29 L467.79 320.57 L467.84 319.07 L467.88 317.75 L467.93 316.60 L467.98 315.61 L468.02 314.77 L468.07 314.06 L468.12 313.49 L468.16 313.03 L468.21 312.70 L468.25 312.48 L468.30 312.38 L468.35 312.39 L468.39 312.51 L468.44 312.74 L468.48 313.09 L468.53 313.55 L468.58 314.13 L468.62 314.84 L468.67 315.68 L468.71 316.65 L468.76 317.77 L468.80 319.05 L468.85 320.49 L468.89 322.13 L468.94 323.98 L468.98 326.07 L469.03 328.43 L469.07 331.12 L469.12 334.21 L469.16 337.78 L469.21 341.97 L469.25 347.00 L469.30 353.23 L469.34 361.33 L469.39 372.81 L469.43 392.49 L469.48 482.17 L469.52 392.61 L469.57 373.06 L469.61 361.70 L469.66 353.73 L469.70 347.63 L469.74 342.72 L469.79 338.65 L469.83 335.21 L469.88 332.25 L469.92 329.68 L469.97 327.44 L470.01 325.48 L470.05 323.76 L470.10 322.24 L470.14 320.92 L470.19 319.77 L470.23 318.77 L470.27 317.93 L470.32 317.21 L470.36 316.63 L470.40 316.18 L470.45 315.84 L470.49 315.61 L470.53 315.51 L470.58 315.51 L470.62 315.63 L470.66 315.86 L470.71 316.20 L470.75 316.66 L470.79 317.23 L470.84 317.94 L470.88 318.77 L470.92 319.74 L470.97 320.85 L471.01 322.12 L471.05 323.57 L471.09 325.20 L471.14 327.04 L471.18 329.13 L471.22 331.49 L471.26 334.17 L471.31 337.25 L471.35 340.82 L471.39 345.01 L471.43 350.03 L471.48 356.26 L471.52 364.35 L471.56 375.82 L471.60 395.50 L471.65 482.17 L471.69 395.62 L471.73 376.06 L471.77 364.70 L471.81 356.72 L471.86 350.61 L471.90 345.70 L471.94 341.63 L471.98 338.18 L472.02 335.22 L472.06 332.65 L472.11 330.40 L472.15 328.44 L472.19 326.71 L472.23 325.19 L472.27 323.86 L472.31 322.71 L472.35 321.71 L472.40 320.86 L472.44 320.14 L472.48 319.56 L472.52 319.09 L472.56 318.75 L472.60 318.52 L472.64 318.41 L472.68 318.41 L472.73 318.52 L472.77 318.75 L472.81 319.09 L472.85 319.54 L472.89 320.11 L472.93 320.81 L472.97 321.64 L473.01 322.60 L473.05 323.72 L473.09 324.98 L473.13 326.42 L473.17 328.05 L473.21 329.89 L473.25 331.97 L473.29 334.33 L473.33 337.01 L473.37 340.08 L473.41 343.64 L473.45 347.83 L473.50 352.85 L473.54 359.07 L473.58 367.16 L473.62 378.63 L473.66 398.30 L473.70 482.17 L473.74 398.41 L473.77 378.85 L473.81 367.48 L473.85 359.50 L473.89 353.39 L473.93 348.48 L473.97 344.40 L474.01 340.95 L474.05 337.98 L474.09 335.41 L474.13 333.16 L474.17 331.19 L474.21 329.45 L474.25 327.93 L474.29 326.60 L474.33 325.44 L474.37 324.44 L474.41 323.58 L474.45 322.86 L474.49 322.28 L474.52 321.81 L474.56 321.46 L474.60 321.23 L474.64 321.12 L474.68 321.11 L474.72 321.22 L474.76 321.44 L474.80 321.78 L474.84 322.23 L474.87 322.80 L474.91 323.49 L474.95 324.31 L474.99 325.28 L475.03 326.38 L475.07 327.65 L475.11 329.08 L475.14 330.71 L475.18 332.54 L475.22 334.62 L475.26 336.97 L475.30 339.65 L475.34 342.72 L475.37 346.28 L475.41 350.46 L475.45 355.48 L475.49 361.69 L475.53 369.78 L475.56 381.25 L475.60 400.92 L475.64 482.17 L475.68 401.02 L475.72 381.45 L475.75 370.08 L475.79 362.10 L475.83 355.98 L475.87 351.06 L475.90 346.98 L475.94 343.53 L475.98 340.56 L476.02 337.98 L476.05 335.73 L476.09 333.75 L476.13 332.02 L476.17 330.49 L476.20 329.16 L476.24 327.99 L476.28 326.99 L476.32 326.13 L476.35 325.41 L476.39 324.81 L476.43 324.34 L476.46 323.99 L476.50 323.76 L476.54 323.64 L476.58 323.63 L476.61 323.74 L476.65 323.95 L476.69 324.29 L476.72 324.73 L476.76 325.30 L476.80 325.99 L476.83 326.81 L476.87 327.77 L476.91 328.87 L476.94 330.13 L476.98 331.56 L477.02 333.19 L477.05 335.02 L477.09 337.09 L477.13 339.44 L477.16 342.12 L477.20 345.18 L477.24 348.74 L477.27 352.91 L477.31 357.93 L477.35 364.14 L477.38 372.22 L477.42 383.69 L477.45 403.36 L477.49 482.17 L477.53 403.45 L477.56 383.88 L477.60 372.51 L477.63 364.52 L477.67 358.40 L477.71 353.48 L477.74 349.40 L477.78 345.94 L477.81 342.96 L477.85 340.38 L477.88 338.13 L477.92 336.15 L477.96 334.41 L477.99 332.88 L478.03 331.55 L478.06 330.38 L478.10 329.37 L478.13 328.51 L478.17 327.78 L478.21 327.18 L478.24 326.71 L478.28 326.36 L478.31 326.12 L478.35 326.00 L478.38 325.99 L478.42 326.09 L478.45 326.30 L478.49 326.63 L478.52 327.08 L478.56 327.64 L478.59 328.33 L478.63 329.14 L478.66 330.10 L478.70 331.20 L478.73 332.46 L478.77 333.89 L478.80 335.50 L478.84 337.33 L478.87 339.40 L478.91 341.75 L478.94 344.42 L478.98 347.49 L479.01 351.04 L479.05 355.21 L479.08 360.22 L479.12 366.43 L479.15 374.51 L479.18 385.97 L479.22 405.64 L479.25 482.17 L479.29 405.73 L479.32 386.15 L479.36 374.78 L479.39 366.79 L479.43 360.66 L479.46 355.74 L479.49 351.65 L479.53 348.19 L479.56 345.21 L479.60 342.63 L479.63 340.37 L479.66 338.39 L479.70 336.65 L479.73 335.12 L479.77 333.78 L479.80 332.61 L479.83 331.60 L479.87 330.73 L479.90 330.00 L479.94 329.40 L479.97 328.93 L480.00 328.57 L480.04 328.33 L480.07 328.21 L480.11 328.19 L480.14 328.29 L480.17 328.50 L480.21 328.83 L480.24 329.27 L480.27 329.83 L480.31 330.51 L480.34 331.33 L480.37 332.28 L480.41 333.38 L480.44 334.63 L480.47 336.06 L480.51 337.67 L480.54 339.50 L480.57 341.57 L480.61 343.91 L480.64 346.58 L480.67 349.64 L480.71 353.19 L480.74 357.36 L480.77 362.37 L480.81 368.58 L480.84 376.65 L480.87 388.11 L480.91 407.77 L480.94 482.17 L480.97 407.86 L481.00 388.28 L481.04 376.90 L481.07 368.91 L481.10 362.78 L481.14 357.86 L481.17 353.77 L481.20 350.30 L481.23 347.32 L481.27 344.74 L481.30 342.48 L481.33 340.49 L481.37 338.75 L481.40 337.22 L481.43 335.87 L481.46 334.70 L481.50 333.68 L481.53 332.82 L481.56 332.08 L481.59 331.48 L481.62 331.00 L481.66 330.64 L481.69 330.40 L481.72 330.27 L481.75 330.26 L481.79 330.35 L481.82 330.56 L481.85 330.88 L481.88 331.32 L481.92 331.88 L481.95 332.56 L481.98 333.38 L482.01 334.32 L482.04 335.42 L482.08 336.67 L482.11 338.09 L482.14 339.71 L482.17 341.53 L482.20 343.60 L482.24 345.94 L482.27 348.60 L482.30 351.66 L482.33 355.21 L482.36 359.38 L482.39 364.38 L482.43 370.59 L482.46 378.66 L482.49 390.12 L482.52 409.78 L482.55 482.17 L482.58 409.85 L482.62 390.27 L482.65 378.89 L482.68 370.90 L482.71 364.77 L482.74 359.84 L482.77 355.75 L482.80 352.28 L482.84 349.30 L482.87 346.71 L482.90 344.45 L482.93 342.46 L482.96 340.71 L482.99 339.18 L483.02 337.83 L483.05 336.66 L483.09 335.64 L483.12 334.77 L483.15 334.04 L483.18 333.43 L483.21 332.95 L483.24 332.59 L483.27 332.34 L483.30 332.21 L483.33 332.19 L483.37 332.29 L483.40 332.49 L483.43 332.81 L483.46 333.25 L483.49 333.81 L483.52 334.49 L483.55 335.29 L483.58 336.24 L483.61 337.33 L483.64 338.58 L483.67 340.00 L483.70 341.61 L483.73 343.44 L483.77 345.50 L483.80 347.84 L483.83 350.50 L483.86 353.56 L483.89 357.10 L483.92 361.27 L483.95 366.27 L483.98 372.47 L484.01 380.54 L484.04 392.00 L484.07 411.65 L484.10 482.17 L484.13 411.73 L484.16 392.14 L484.19 380.76 L484.22 372.76 L484.25 366.63 L484.28 361.70 L484.31 357.61 L484.34 354.14 L484.37 351.15 L484.40 348.56 L484.43 346.30 L484.46 344.31 L484.49 342.56 L484.52 341.02 L484.55 339.67 L484.58 338.50 L484.61 337.48 L484.64 336.60 L484.67 335.87 L484.70 335.26 L484.73 334.78 L484.76 334.41 L484.79 334.16 L484.82 334.03 L484.85 334.01 L484.88 334.10 L484.91 334.31 L484.94 334.62 L484.97 335.06 L485.00 335.61 L485.03 336.29 L485.06 337.09 L485.09 338.04 L485.12 339.13 L485.15 340.38 L485.18 341.79 L485.21 343.40 L485.24 345.22 L485.26 347.28 L485.29 349.62 L485.32 352.28 L485.35 355.33 L485.38 358.87 L485.41 363.04 L485.44 368.04 L485.47 374.24 L485.50 382.31 L485.53 393.76 L485.56 413.41 L485.59 482.17 L485.62 413.48 L485.65 393.90 L485.67 382.51 L485.70 374.51 L485.73 368.38 L485.76 363.45 L485.79 359.35 L485.82 355.88 L485.85 352.89 L485.88 350.30 L485.91 348.03 L485.94 346.04 L485.96 344.29 L485.99 342.75 L486.02 341.40 L486.05 340.22 L486.08 339.20 L486.11 338.32 L486.14 337.58 L486.17 336.97 L486.19 336.49 L486.22 336.12 L486.25 335.87 L486.28 335.74 L486.31 335.71 L486.34 335.80 L486.37 336.00 L486.40 336.32 L486.42 336.75 L486.45 337.30 L486.48 337.98 L486.51 338.78 L486.54 339.72 L486.57 340.81 L486.59 342.06 L486.62 343.47 L486.65 345.08 L486.68 346.90 L486.71 348.95 L486.74 351.29 L486.76 353.95 L486.79 357.00 L486.82 360.54 L486.85 364.70 L486.88 369.70 L486.91 375.90 L486.93 383.97 L486.96 395.41 L486.99 415.07 L487.02 482.17 L487.05 415.13 L487.07 395.54 L487.10 384.16 L487.13 376.15 L487.16 370.02 L487.19 365.08 L487.21 360.99 L487.24 357.51 L487.27 354.52 L487.30 351.93 L487.33 349.66 L487.35 347.66 L487.38 345.91 L487.41 344.37 L487.44 343.02 L487.46 341.83 L487.49 340.81 L487.52 339.93 L487.55 339.19 L487.58 338.58 L487.60 338.09 L487.63 337.73 L487.66 337.47 L487.69 337.34 L487.71 337.31 L487.74 337.40 L487.77 337.60 L487.80 337.91 L487.82 338.34 L487.85 338.89 L487.88 339.56 L487.91 340.37 L487.93 341.31 L487.96 342.39 L487.99 343.64 L488.02 345.05 L488.04 346.65 L488.07 348.47 L488.10 350.52 L488.13 352.86 L488.15 355.51 L488.18 358.56 L488.21 362.10 L488.23 366.26 L488.26 371.26 L488.29 377.45 L488.32 385.52 L488.34 396.97 L488.37 416.62 L488.40 482.17 L488.42 416.68 L488.45 397.09 L488.48 385.70 L488.51 377.69 L488.53 371.56 L488.56 366.62 L488.59 362.52 L488.61 359.04 L488.64 356.05 L488.67 353.45 L488.69 351.18 L488.72 349.19 L488.75 347.43 L488.77 345.89 L488.80 344.53 L488.83 343.35 L488.85 342.32 L488.88 341.44 L488.91 340.70 L488.93 340.09 L488.96 339.60 L488.99 339.23 L489.01 338.98 L489.04 338.84 L489.07 338.81 L489.09 338.89 L489.12 339.09 L489.15 339.40 L489.17 339.83 L489.20 340.38 L489.23 341.05 L489.25 341.85 L489.28 342.79 L489.31 343.87 L489.33 345.11 L489.36 346.53 L489.39 348.13 L489.41 349.94 L489.44 351.99 L489.46 354.32 L489.49 356.98 L489.52 360.03 L489.54 363.56 L489.57 367.72 L489.60 372.72 L489.62 378.91 L489.65 386.97 L489.68 398.42 L489.70 418.07 L489.73 482.17 L489.75 418.12 L489.78 398.53 L489.81 387.14 L489.83 379.14 L489.86 373.00 L489.88 368.06 L489.91 363.96 L489.94 360.48 L489.96 357.49 L489.99 354.89 L490.01 352.61 L490.04 350.62 L490.07 348.86 L490.09 347.31 L490.12 345.96 L490.14 344.77 L490.17 343.74 L490.20 342.86 L490.22 342.12 L490.25 341.50 L490.27 341.01 L490.30 340.64 L490.32 340.38 L490.35 340.24 L490.38 340.21 L490.40 340.30 L490.43 340.49 L490.45 340.80 L490.48 341.23 L490.50 341.77 L490.53 342.44 L490.55 343.24 L490.58 344.18 L490.61 345.26 L490.63 346.50 L490.66 347.91 L490.68 349.51 L490.71 351.32 L490.73 353.37 L490.76 355.70 L490.78 358.35 L490.81 361.40 L490.84 364.93 L490.86 369.09 L490.89 374.09 L490.91 380.28 L490.94 388.34 L490.96 399.78 L490.99 419.43 L491.01 482.17 L491.04 419.48 L491.06 399.89 L491.09 388.50 L491.11 380.49 L491.14 374.35 L491.16 369.41 L491.19 365.30 L491.21 361.82 L491.24 358.83 L491.26 356.23 L491.29 353.95 L491.31 351.95 L491.34 350.19 L491.36 348.65 L491.39 347.29 L491.41 346.10 L491.44 345.07 L491.46 344.19 L491.49 343.44 L491.51 342.82 L491.54 342.33 L491.56 341.96 L491.59 341.70 L491.61 341.56 L491.64 341.53 L491.66 341.61 L491.69 341.80 L491.71 342.11 L491.74 342.53 L491.76 343.08 L491.79 343.75 L491.81 344.54 L491.84 345.48 L491.86 346.56 L491.89 347.80 L491.91 349.20 L491.94 350.80 L491.96 352.61 L491.99 354.66 L492.01 356.99 L492.04 359.64 L492.06 362.69 L492.08 366.22 L492.11 370.37 L492.13 375.36 L492.16 381.55 L492.18 389.61 L492.21 401.05 L492.23 420.70 L492.26 482.17 L492.28 420.75 L492.30 401.15 L492.33 389.76 L492.35 381.75 L492.38 375.61 L492.40 370.67 L492.43 366.56 L492.45 363.08 L492.48 360.08 L492.50 357.48 L492.52 355.20 L492.55 353.20 L492.57 351.44 L492.60 349.89 L492.62 348.53 L492.65 347.34 L492.67 346.31 L492.69 345.43 L492.72 344.68 L492.74 344.06 L492.77 343.57 L492.79 343.19 L492.81 342.93 L492.84 342.79 L492.86 342.76 L492.89 342.83 L492.91 343.03 L492.93 343.33 L492.96 343.76 L492.98 344.30 L493.01 344.96 L493.03 345.76 L493.05 346.69 L493.08 347.77 L493.10 349.01 L493.13 350.41 L493.15 352.01 L493.17 353.82 L493.20 355.87 L493.22 358.19 L493.25 360.84 L493.27 363.89 L493.29 367.41 L493.32 371.57 L493.34 376.56 L493.36 382.75 L493.39 390.81 L493.41 402.25 L493.44 421.89 L493.46 482.17 L493.48 421.93 L493.51 402.34 L493.53 390.94 L493.55 382.93 L493.58 376.79 L493.60 371.84 L493.63 367.74 L493.65 364.25 L493.67 361.25 L493.70 358.65 L493.72 356.37 L493.74 354.37 L493.77 352.61 L493.79 351.06 L493.81 349.69 L493.84 348.50 L493.86 347.47 L493.88 346.58 L493.91 345.83 L493.93 345.21 L493.95 344.72 L493.98 344.34 L494.00 344.08 L494.02 343.94 L494.05 343.90 L494.07 343.98 L494.09 344.17 L494.12 344.47 L494.14 344.90 L494.16 345.44 L494.19 346.10 L494.21 346.89 L494.23 347.83 L494.26 348.90 L494.28 350.14 L494.30 351.54 L494.33 353.14 L494.35 354.94 L494.37 356.99 L494.40 359.31 L494.42 361.96 L494.44 365.00 L494.47 368.53 L494.49 372.68 L494.51 377.67 L494.53 383.86 L494.56 391.92 L494.58 403.35 L494.60 423.00 L494.63 482.17 L494.65 423.04 L494.67 403.44 L494.70 392.05 L494.72 384.03 L494.74 377.89 L494.76 372.94 L494.79 368.83 L494.81 365.35 L494.83 362.35 L494.86 359.74 L494.88 357.46 L494.90 355.46 L494.92 353.69 L494.95 352.14 L494.97 350.78 L494.99 349.59 L495.01 348.55 L495.04 347.66 L495.06 346.91 L495.08 346.29 L495.11 345.79 L495.13 345.41 L495.15 345.15 L495.17 345.00 L495.20 344.97 L495.22 345.05 L495.24 345.23 L495.26 345.54 L495.29 345.96 L495.31 346.50 L495.33 347.16 L495.35 347.95 L495.38 348.88 L495.40 349.96 L495.42 351.19 L495.44 352.59 L495.47 354.19 L495.49 355.99 L495.51 358.04 L495.53 360.36 L495.56 363.01 L495.58 366.05 L495.60 369.57 L495.62 373.72 L495.65 378.71 L495.67 384.90 L495.69 392.95 L495.71 404.39 L495.74 424.03 L495.76 482.17 L495.78 424.07 L495.80 404.47 L495.82 393.07 L495.85 385.05 L495.87 378.91 L495.89 373.96 L495.91 369.85 L495.94 366.36 L495.96 363.36 L495.98 360.76 L496.00 358.47 L496.02 356.47 L496.05 354.70 L496.07 353.15 L496.09 351.78 L496.11 350.59 L496.14 349.56 L496.16 348.67 L496.18 347.91 L496.20 347.29 L496.22 346.79 L496.25 346.41 L496.27 346.15 L496.29 346.00 L496.31 345.96 L496.33 346.04 L496.36 346.22 L496.38 346.53 L496.40 346.94 L496.42 347.48 L496.44 348.14 L496.47 348.93 L496.49 349.86 L496.51 350.94 L496.53 352.17 L496.55 353.57 L496.57 355.16 L496.60 356.97 L496.62 359.01 L496.64 361.33 L496.66 363.97 L496.68 367.01 L496.71 370.54 L496.73 374.69 L496.75 379.67 L496.77 385.86 L496.79 393.91 L496.81 405.35 L496.84 424.98 L496.86 482.17 L496.88 425.02 L496.90 405.42 L496.92 394.02 L496.94 386.00 L496.97 379.86 L496.99 374.91 L497.01 370.80 L497.03 367.31 L497.05 364.31 L497.07 361.70 L497.09 359.41 L497.12 357.41 L497.14 355.64 L497.16 354.08 L497.18 352.72 L497.20 351.52 L497.22 350.49 L497.25 349.59 L497.27 348.84 L497.29 348.22 L497.31 347.72 L497.33 347.33 L497.35 347.07 L497.37 346.92 L497.39 346.88 L497.42 346.95 L497.44 347.14 L497.46 347.44 L497.48 347.86 L497.50 348.39 L497.52 349.05 L497.54 349.84 L497.57 350.77 L497.59 351.84 L497.61 353.07 L497.63 354.47 L497.65 356.06 L497.67 357.87 L497.69 359.91 L497.71 362.23 L497.74 364.87 L497.76 367.91 L497.78 371.43 L497.80 375.58 L497.82 380.56 L497.84 386.75 L497.86 394.80 L497.88 406.23 L497.90 425.87 L497.93 482.17 L497.95 425.90 L497.97 406.30 L497.99 394.90 L498.01 386.88 L498.03 380.73 L498.05 375.78 L498.07 371.67 L498.09 368.18 L498.11 365.18 L498.14 362.57 L498.16 360.28 L498.18 358.27 L498.20 356.51 L498.22 354.95 L498.24 353.58 L498.26 352.38 L498.28 351.35 L498.30 350.45 L498.32 349.70 L498.34 349.07 L498.36 348.57 L498.39 348.19 L498.41 347.92 L498.43 347.77 L498.45 347.73 L498.47 347.80 L498.49 347.99 L498.51 348.28 L498.53 348.70 L498.55 349.23 L498.57 349.89 L498.59 350.68 L498.61 351.61 L498.63 352.68 L498.66 353.91 L498.68 355.31 L498.70 356.90 L498.72 358.70 L498.74 360.74 L498.76 363.05 L498.78 365.70 L498.80 368.73 L498.82 372.25 L498.84 376.40 L498.86 381.39 L498.88 387.57 L498.90 395.62 L498.92 407.05 L498.94 426.68 L498.96 482.17 L498.98 426.72 L499.00 407.11 L499.03 395.71 L499.05 387.69 L499.07 381.54 L499.09 376.59 L499.11 372.47 L499.13 368.98 L499.15 365.98 L499.17 363.37 L499.19 361.08 L499.21 359.07 L499.23 357.30 L499.25 355.74 L499.27 354.37 L499.29 353.18 L499.31 352.14 L499.33 351.24 L499.35 350.49 L499.37 349.86 L499.39 349.36 L499.41 348.97 L499.43 348.70 L499.45 348.55 L499.47 348.51 L499.49 348.58 L499.51 348.76 L499.53 349.06 L499.55 349.47 L499.57 350.01 L499.59 350.66 L499.61 351.45 L499.63 352.38 L499.65 353.45 L499.67 354.67 L499.69 356.07 L499.71 357.66 L499.73 359.46 L499.75 361.50 L499.78 363.81 L499.80 366.46 L499.82 369.49 L499.84 373.01 L499.86 377.16 L499.88 382.14 L499.90 388.32 L499.92 396.37 L499.94 407.80 L499.96 427.43 L499.98 482.17 L500.00 427.46 L500.01 407.86 L500.03 396.45 L500.05 388.43 L500.07 382.28 L500.09 377.33 L500.11 373.21 L500.13 369.72 L500.15 366.71 L500.17 364.10 L500.19 361.81 L500.21 359.80 L500.23 358.03 L500.25 356.47 L500.27 355.10 L500.29 353.90 L500.31 352.86 L500.33 351.97 L500.35 351.21 L500.37 350.58 L500.39 350.07 L500.41 349.69 L500.43 349.42 L500.45 349.26 L500.47 349.22 L500.49 349.29 L500.51 349.47 L500.53 349.77 L500.55 350.18 L500.57 350.71 L500.59 351.37 L500.61 352.16 L500.63 353.08 L500.65 354.15 L500.67 355.37 L500.69 356.77 L500.71 358.36 L500.73 360.16 L500.75 362.19 L500.77 364.51 L500.78 367.15 L500.80 370.18 L500.82 373.70 L500.84 377.84 L500.86 382.83 L500.88 389.00 L500.90 397.05 L500.92 408.48 L500.94 428.11 L500.96 482.17 L500.98 428.14 L501.00 408.53 L501.02 397.13 L501.04 389.11 L501.06 382.96 L501.08 378.00 L501.10 373.88 L501.12 370.39 L501.13 367.38 L501.15 364.77 L501.17 362.48 L501.19 360.47 L501.21 358.70 L501.23 357.13 L501.25 355.76 L501.27 354.56 L501.29 353.52 L501.31 352.62 L501.33 351.86 L501.35 351.23 L501.37 350.73 L501.39 350.34 L501.40 350.07 L501.42 349.91 L501.44 349.87 L501.46 349.94 L501.48 350.12 L501.50 350.42 L501.52 350.83 L501.54 351.36 L501.56 352.01 L501.58 352.80 L501.60 353.72 L501.62 354.78 L501.63 356.01 L501.65 357.41 L501.67 358.99 L501.69 360.79 L501.71 362.82 L501.73 365.14 L501.75 367.78 L501.77 370.81 L501.79 374.33 L501.81 378.47 L501.82 383.45 L501.84 389.63 L501.86 397.67 L501.88 409.10 L501.90 428.73 L501.92 482.17 L501.94 428.76 L501.96 409.15 L501.98 397.74 L502.00 389.72 L502.01 383.57 L502.03 378.61 L502.05 374.49 L502.07 371.00 L502.09 367.99 L502.11 365.37 L502.13 363.08 L502.15 361.07 L502.17 359.30 L502.18 357.73 L502.20 356.36 L502.22 355.16 L502.24 354.12 L502.26 353.22 L502.28 352.46 L502.30 351.83 L502.32 351.32 L502.33 350.93 L502.35 350.66 L502.37 350.50 L502.39 350.46 L502.41 350.52 L502.43 350.70 L502.45 351.00 L502.47 351.41 L502.48 351.94 L502.50 352.59 L502.52 353.37 L502.54 354.29 L502.56 355.36 L502.58 356.58 L502.60 357.98 L502.61 359.56 L502.63 361.36 L502.65 363.39 L502.67 365.70 L502.69 368.34 L502.71 371.37 L502.73 374.89 L502.74 379.03 L502.76 384.01 L502.78 390.19 L502.80 398.23 L502.82 409.66 L502.84 429.29 L502.86 482.17 L502.87 429.31 L502.89 409.70 L502.91 398.29 L502.93 390.27 L502.95 384.11 L502.97 379.16 L502.99 375.04 L503.00 371.54 L503.02 368.53 L503.04 365.91 L503.06 363.62 L503.08 361.61 L503.10 359.83 L503.11 358.27 L503.13 356.90 L503.15 355.69 L503.17 354.65 L503.19 353.75 L503.21 352.99 L503.22 352.35 L503.24 351.85 L503.26 351.46 L503.28 351.18 L503.30 351.03 L503.32 350.98 L503.33 351.05 L503.35 351.22 L503.37 351.52 L503.39 351.93 L503.41 352.45 L503.43 353.11 L503.44 353.89 L503.46 354.81 L503.48 355.87 L503.50 357.09 L503.52 358.49 L503.53 360.07 L503.55 361.86 L503.57 363.90 L503.59 366.21 L503.61 368.85 L503.62 371.88 L503.64 375.39 L503.66 379.53 L503.68 384.51 L503.70 390.68 L503.72 398.73 L503.73 410.15 L503.75 429.78 L503.77 482.17 L503.79 429.80 L503.81 410.19 L503.82 398.78 L503.84 390.76 L503.86 384.60 L503.88 379.64 L503.90 375.52 L503.91 372.02 L503.93 369.01 L503.95 366.39 L503.97 364.10 L503.99 362.09 L504.00 360.31 L504.02 358.75 L504.04 357.37 L504.06 356.17 L504.08 355.12 L504.09 354.22 L504.11 353.46 L504.13 352.82 L504.15 352.31 L504.16 351.92 L504.18 351.65 L504.20 351.49 L504.22 351.44 L504.24 351.51 L504.25 351.68 L504.27 351.98 L504.29 352.38 L504.31 352.91 L504.33 353.56 L504.34 354.34 L504.36 355.26 L504.38 356.32 L504.40 357.54 L504.41 358.94 L504.43 360.52 L504.45 362.31 L504.47 364.34 L504.49 366.65 L504.50 369.29 L504.52 372.32 L504.54 375.83 L504.56 379.97 L504.57 384.95 L504.59 391.12 L504.61 399.16 L504.63 410.59 L504.64 430.22 L504.66 482.17 L504.68 430.23 L504.70 410.62 L504.71 399.21 L504.73 391.18 L504.75 385.03 L504.77 380.07 L504.79 375.94 L504.80 372.45 L504.82 369.43 L504.84 366.81 L504.86 364.52 L504.87 362.50 L504.89 360.73 L504.91 359.16 L504.93 357.78 L504.94 356.58 L504.96 355.53 L504.98 354.63 L505.00 353.87 L505.01 353.23 L505.03 352.72 L505.05 352.33 L505.07 352.05 L505.08 351.89 L505.10 351.84 L505.12 351.91 L505.13 352.08 L505.15 352.37 L505.17 352.78 L505.19 353.31 L505.20 353.96 L505.22 354.74 L505.24 355.65 L505.26 356.71 L505.27 357.93 L505.29 359.33 L505.31 360.91 L505.33 362.70 L505.34 364.73 L505.36 367.04 L505.38 369.67 L505.40 372.70 L505.41 376.21 L505.43 380.35 L505.45 385.33 L505.46 391.50 L505.48 399.54 L505.50 410.96 L505.52 430.59 L505.53 482.17 L505.55 430.60 L505.57 410.99 L505.59 399.58 L505.60 391.55 L505.62 385.39 L505.64 380.43 L505.65 376.31 L505.67 372.81 L505.69 369.80 L505.71 367.18 L505.72 364.88 L505.74 362.86 L505.76 361.08 L505.77 359.52 L505.79 358.14 L505.81 356.93 L505.83 355.89 L505.84 354.98 L505.86 354.22 L505.88 353.58 L505.89 353.07 L505.91 352.68 L505.93 352.40 L505.94 352.24 L505.96 352.19 L505.98 352.25 L506.00 352.43 L506.01 352.71 L506.03 353.12 L506.05 353.64 L506.06 354.29 L506.08 355.07 L506.10 355.99 L506.11 357.05 L506.13 358.27 L506.15 359.66 L506.17 361.24 L506.18 363.03 L506.20 365.06 L506.22 367.36 L506.23 370.00 L506.25 373.02 L506.27 376.53 L506.28 380.67 L506.30 385.65 L506.32 391.82 L506.33 399.86 L506.35 411.28 L506.37 430.90 L506.39 482.17 L506.40 430.92 L506.42 411.30 L506.44 399.89 L506.45 391.86 L506.47 385.70 L506.49 380.74 L506.50 376.61 L506.52 373.11 L506.54 370.10 L506.55 367.48 L506.57 365.18 L506.59 363.16 L506.60 361.38 L506.62 359.82 L506.64 358.44 L506.65 357.23 L506.67 356.18 L506.69 355.28 L506.70 354.51 L506.72 353.87 L506.74 353.36 L506.75 352.96 L506.77 352.69 L506.79 352.52 L506.80 352.47 L506.82 352.53 L506.84 352.71 L506.85 353.00 L506.87 353.40 L506.89 353.92 L506.90 354.57 L506.92 355.35 L506.94 356.26 L506.95 357.32 L506.97 358.54 L506.99 359.93 L507.00 361.51 L507.02 363.30 L507.04 365.33 L507.05 367.63 L507.07 370.26 L507.09 373.29 L507.10 376.80 L507.12 380.93 L507.14 385.91 L507.15 392.08 L507.17 400.12 L507.19 411.54 L507.20 431.16 L507.22 482.17 L507.24 431.17 L507.25 411.56 L507.27 400.14 L507.28 392.11 L507.30 385.95 L507.32 380.99 L507.33 376.86 L507.35 373.36 L507.37 370.35 L507.38 367.72 L507.40 365.43 L507.42 363.41 L507.43 361.62 L507.45 360.06 L507.47 358.68 L507.48 357.47 L507.50 356.42 L507.51 355.51 L507.53 354.74 L507.55 354.10 L507.56 353.59 L507.58 353.20 L507.60 352.92 L507.61 352.75 L507.63 352.70 L507.64 352.76 L507.66 352.93 L507.68 353.22 L507.69 353.62 L507.71 354.14 L507.73 354.79 L507.74 355.57 L507.76 356.48 L507.78 357.54 L507.79 358.76 L507.81 360.14 L507.82 361.72 L507.84 363.51 L507.86 365.54 L507.87 367.84 L507.89 370.47 L507.90 373.50 L507.92 377.01 L507.94 381.14 L507.95 386.11 L507.97 392.28 L507.99 400.32 L508.00 411.74 L508.02 431.36 L508.03 482.17 L508.05 431.37 L508.07 411.75 L508.08 400.34 L508.10 392.31 L508.11 386.15 L508.13 381.18 L508.15 377.05 L508.16 373.55 L508.18 370.53 L508.20 367.91 L508.21 365.61 L508.23 363.59 L508.24 361.81 L508.26 360.24 L508.28 358.86 L508.29 357.65 L508.31 356.60 L508.32 355.69 L508.34 354.92 L508.36 354.28 L508.37 353.77 L508.39 353.37 L508.40 353.09 L508.42 352.92 L508.44 352.87 L508.45 352.93 L508.47 353.10 L508.48 353.39 L508.50 353.79 L508.52 354.31 L508.53 354.95 L508.55 355.73 L508.56 356.64 L508.58 357.70 L508.59 358.91 L508.61 360.30 L508.63 361.88 L508.64 363.66 L508.66 365.69 L508.67 368.00 L508.69 370.62 L508.71 373.65 L508.72 377.16 L508.74 381.29 L508.75 386.26 L508.77 392.43 L508.78 400.46 L508.80 411.88 L508.82 431.50 L508.83 482.17 L508.85 431.51 L508.86 411.89 L508.88 400.48 L508.90 392.44 L508.91 386.28 L508.93 381.32 L508.94 377.19 L508.96 373.68 L508.97 370.67 L508.99 368.04 L509.01 365.74 L509.02 363.72 L509.04 361.94 L509.05 360.36 L509.07 358.98 L509.08 357.77 L509.10 356.72 L509.12 355.81 L509.13 355.04 L509.15 354.40 L509.16 353.88 L509.18 353.49 L509.19 353.21 L509.21 353.04 L509.23 352.98 L509.24 353.04 L509.26 353.21 L509.27 353.50 L509.29 353.90 L509.30 354.42 L509.32 355.06 L509.33 355.83 L509.35 356.74 L509.37 357.80 L509.38 359.02 L509.40 360.40 L509.41 361.98 L509.43 363.76 L509.44 365.79 L509.46 368.09 L509.47 370.72 L509.49 373.74 L509.51 377.25 L509.52 381.38 L509.54 386.35 L509.55 392.52 L509.57 400.55 L509.58 411.97 L509.60 431.59 L509.61 482.17 L509.63 431.59 L509.65 411.97 L509.66 400.56 L509.68 392.52 L509.69 386.36 L509.71 381.39 L509.72 377.26 L509.74 373.76 L509.75 370.74 L509.77 368.11 L509.78 365.81 L509.80 363.79 L509.81 362.01 L509.83 360.43 L509.85 359.05 L509.86 357.84 L509.88 356.78 L509.89 355.87 L509.91 355.10 L509.92 354.46 L509.94 353.94 L509.95 353.55 L509.97 353.26 L509.98 353.10 L510.00 353.04 L510.01 353.10 L510.03 353.27 L510.04 353.55 L510.06 353.95 L510.08 354.47 L510.09 355.11 L510.11 355.88 L510.12 356.79 L510.14 357.85 L510.15 359.06 L510.17 360.45 L510.18 362.02 L510.20 363.80 L510.21 365.83 L510.23 368.13 L510.24 370.76 L510.26 373.78 L510.27 377.28 L510.29 381.41 L510.30 386.38 L510.32 392.55 L510.33 400.58 L510.35 412.00 L510.36 431.62 L510.38 482.17" fill="none" stroke="#e2121f" stroke-width="1.75" stroke-linejoin="round"/>
<path d="M240.02 417.31 L255.39 399.87 L266.30 385.79 L274.76 374.23 L281.67 364.51 L287.52 356.15 L292.58 348.84 L297.05 342.34 L301.04 336.51 L304.65 331.22 L307.95 326.37 L310.99 321.92 L313.80 317.79 L316.41 313.94 L318.86 310.34 L321.16 306.97 L323.33 303.79 L325.38 300.78 L327.32 297.93 L329.17 295.22 L330.93 292.65 L332.62 290.19 L334.23 287.84 L335.78 285.59 L337.27 283.44 L338.70 281.37 L340.08 279.38 L341.41 277.46 L342.69 275.61 L343.94 273.83 L345.14 272.11 L346.31 270.45 L347.44 268.84 L348.54 267.29 L349.61 265.78 L350.64 264.32 L351.66 262.90 L352.64 261.52 L353.60 260.19 L354.54 258.89 L355.45 257.62 L356.34 256.40 L357.21 255.20 L358.07 254.04 L358.90 252.91 L359.71 251.80 L360.51 250.73 L361.29 249.68 L362.06 248.66 L362.81 247.66 L363.55 246.69 L364.27 245.74 L364.98 244.82 L365.67 243.91 L366.36 243.03 L367.03 242.17 L367.69 241.32 L368.34 240.50 L368.97 239.70 L369.60 238.91 L370.22 238.14 L370.82 237.39 L371.42 236.66 L372.01 235.94 L372.59 235.24 L373.16 234.55 L373.72 233.88 L374.27 233.23 L374.82 232.58 L375.35 231.96 L375.89 231.34 L376.41 230.74 L376.92 230.15 L377.43 229.58 L377.93 229.02 L378.43 228.47 L378.92 227.93 L379.40 227.41 L379.88 226.89 L380.35 226.39 L380.82 225.90 L381.28 225.42 L381.73 224.95 L382.18 224.49 L382.62 224.04 L383.06 223.60 L383.49 223.17 L383.92 222.76 L384.35 222.35 L384.76 221.95 L385.18 221.56 L385.59 221.18 L385.99 220.80 L386.40 220.44 L386.79 220.09 L387.19 219.74 L387.57 219.41 L387.96 219.08 L388.34 218.76 L388.72 218.45 L389.09 218.14 L389.46 217.85 L389.83 217.56 L390.19 217.28 L390.55 217.01 L390.91 216.74 L391.26 216.49 L391.61 216.24 L391.95 215.99 L392.30 215.76 L392.64 215.53 L392.97 215.31 L393.31 215.09 L393.64 214.89 L393.97 214.69 L394.29 214.49 L394.62 214.31 L394.94 214.13 L395.25 213.95 L395.57 213.78 L395.88 213.62 L396.19 213.47 L396.50 213.32 L396.80 213.18 L397.10 213.04 L397.40 212.91 L397.70 212.79 L397.99 212.67 L398.29 212.56 L398.58 212.45 L398.87 212.35 L399.15 212.26 L399.44 212.17 L399.72 212.09 L400.00 212.01 L400.28 211.94 L400.55 211.87 L400.83 211.81 L401.10 211.76 L401.37 211.71 L401.63 211.66 L401.90 211.63 L402.16 211.59 L402.43 211.56 L402.69 211.54 L402.95 211.52 L403.20 211.51 L403.46 211.50 L403.71 211.50 L403.96 211.50 L404.21 211.51 L404.46 211.52 L404.71 211.54 L404.96 211.56 L405.20 211.59 L405.44 211.62 L405.68 211.66 L405.92 211.70 L406.16 211.75 L406.40 211.80 L406.63 211.86 L406.86 211.92 L407.10 211.98 L407.33 212.05 L407.56 212.13 L407.78 212.21 L408.01 212.29 L408.23 212.38 L408.46 212.47 L408.68 212.57 L408.90 212.67 L409.12 212.78 L409.34 212.89 L409.56 213.00 L409.77 213.12 L409.99 213.25 L410.20 213.38 L410.41 213.51 L410.63 213.65 L410.84 213.79 L411.04 213.93 L411.25 214.08 L411.46 214.24 L411.66 214.39 L411.87 214.56 L412.07 214.72 L412.27 214.89 L412.48 215.07 L412.68 215.25 L412.87 215.43 L413.07 215.62 L413.27 215.81 L413.47 216.00 L413.66 216.20 L413.85 216.41 L414.05 216.61 L414.24 216.82 L414.43 217.04 L414.62 217.26 L414.81 217.48 L415.00 217.71 L415.18 217.94 L415.37 218.17 L415.56 218.41 L415.74 218.65 L415.92 218.90 L416.11 219.15 L416.29 219.40 L416.47 219.66 L416.65 219.92 L416.83 220.19 L417.01 220.46 L417.19 220.73 L417.36 221.01 L417.54 221.29 L417.71 221.57 L417.89 221.86 L418.06 222.15 L418.23 222.45 L418.41 222.75 L418.58 223.05 L418.75 223.35 L418.92 223.66 L419.09 223.98 L419.25 224.30 L419.42 224.62 L419.59 224.94 L419.75 225.27 L419.92 225.60 L420.08 225.93 L420.25 226.27 L420.41 226.62 L420.57 226.96 L420.73 227.31 L420.90 227.66 L421.06 228.02 L421.22 228.38 L421.37 228.74 L421.53 229.11 L421.69 229.48 L421.85 229.85 L422.00 230.23 L422.16 230.61 L422.31 231.00 L422.47 231.38 L422.62 231.78 L422.78 232.17 L422.93 232.57 L423.08 232.97 L423.23 233.37 L423.38 233.78 L423.53 234.19 L423.68 234.61 L423.83 235.03 L423.98 235.45 L424.13 235.88 L424.27 236.30 L424.42 236.74 L424.57 237.17 L424.71 237.61 L424.86 238.05 L425.00 238.50 L425.15 238.95 L425.29 239.40 L425.43 239.85 L425.57 240.31 L425.72 240.77 L425.86 241.24 L426.00 241.71 L426.14 242.18 L426.28 242.66 L426.42 243.13 L426.56 243.62 L426.69 244.10 L426.83 244.59 L426.97 245.08 L427.11 245.58 L427.24 246.08 L427.38 246.58 L427.51 247.08 L427.65 247.59 L427.78 248.10 L427.91 248.62 L428.05 249.13 L428.18 249.66 L428.31 250.18 L428.44 250.71 L428.58 251.24 L428.71 251.77 L428.84 252.31 L428.97 252.85 L429.10 253.39 L429.23 253.94 L429.36 254.49 L429.48 255.05 L429.61 255.60 L429.74 256.16 L429.87 256.73 L429.99 257.29 L430.12 257.86 L430.24 258.43 L430.37 259.01 L430.49 259.59 L430.62 260.17 L430.74 260.76 L430.87 261.35 L430.99 261.94 L431.11 262.53 L431.24 263.13 L431.36 263.73 L431.48 264.34 L431.60 264.95 L431.72 265.56 L431.84 266.17 L431.96 266.79 L432.08 267.41 L432.20 268.03 L432.32 268.66 L432.44 269.29 L432.56 269.92 L432.68 270.56 L432.79 271.20 L432.91 271.84 L433.03 272.49 L433.14 273.14 L433.26 273.79 L433.38 274.45 L433.49 275.10 L433.61 275.77 L433.72 276.43 L433.84 277.10 L433.95 277.77 L434.06 278.44 L434.18 279.12 L434.29 279.80 L434.40 280.48 L434.51 281.17 L434.63 281.86 L434.74 282.55 L434.85 283.25 L434.96 283.95 L435.07 284.65 L435.18 285.35 L435.29 286.06 L435.40 286.77 L435.51 287.48 L435.62 288.20 L435.73 288.92 L435.84 289.64 L435.95 290.37 L436.05 291.10 L436.16 291.83 L436.27 292.56 L436.37 293.30 L436.48 294.04 L436.59 294.78 L436.69 295.53 L436.80 296.28 L436.91 297.03 L437.01 297.78 L437.12 298.54 L437.22 299.30 L437.32 300.06 L437.43 300.83 L437.53 301.59 L437.64 302.37 L437.74 303.14 L437.84 303.92 L437.94 304.69 L438.05 305.48 L438.15 306.26 L438.25 307.05 L438.35 307.84 L438.45 308.63 L438.55 309.42 L438.65 310.22 L438.75 311.02 L438.86 311.82 L438.96 312.63 L439.05 313.43 L439.15 314.24 L439.25 315.05 L439.35 315.87 L439.45 316.68 L439.55 317.50 L439.65 318.32 L439.74 319.15 L439.84 319.97 L439.94 320.80 L440.04 321.63 L440.13 322.47 L440.23 323.30 L440.33 324.14 L440.42 324.98 L440.52 325.82 L440.61 326.66 L440.71 327.51 L440.80 328.36 L440.90 329.21 L440.99 330.06 L441.09 330.92 L441.18 331.78 L441.28 332.63 L441.37 333.50 L441.46 334.36 L441.56 335.23 L441.65 336.09 L441.74 336.97 L441.84 337.84 L441.93 338.71 L442.02 339.59 L442.11 340.47 L442.20 341.35 L442.30 342.24 L442.39 343.12 L442.48 344.01 L442.57 344.90 L442.66 345.80 L442.75 346.70 L442.84 347.59 L442.93 348.50 L443.02 349.40 L443.11 350.31 L443.20 351.22 L443.29 352.13 L443.38 353.05 L443.46 353.97 L443.55 354.89 L443.64 355.82 L443.73 356.75 L443.82 357.68 L443.91 358.62 L443.99 359.56 L444.08 360.50 L444.17 361.45 L444.25 362.41 L444.34 363.36 L444.43 364.32 L444.51 365.29 L444.60 366.26 L444.69 367.24 L444.77 368.22 L444.86 369.20 L444.94 370.20 L445.03 371.19 L445.11 372.20 L445.20 373.21 L445.28 374.22 L445.37 375.24 L445.45 376.27 L445.53 377.31 L445.62 378.35 L445.70 379.40 L445.78 380.46 L445.87 381.53 L445.95 382.60 L446.03 383.68 L446.12 384.78 L446.20 385.88 L446.28 386.99 L446.36 388.11 L446.45 389.24 L446.53 390.39 L446.61 391.54 L446.69 392.70 L446.77 393.88 L446.85 395.07 L446.93 396.27 L447.01 397.48 L447.09 398.71 L447.18 399.95 L447.26 401.20 L447.34 402.47 L447.42 403.75 L447.50 405.05 L447.57 406.36 L447.65 407.69 L447.73 409.04 L447.81 410.41 L447.89 411.79 L447.97 413.19 L448.05 414.61 L448.13 416.05 L448.21 417.50 L448.28 418.98 L448.36 420.48 L448.44 421.99 L448.52 423.53 L448.59 425.09 L448.67 426.68 L448.75 428.28 L448.83 429.91 L448.90 431.56 L448.98 433.23 L449.06 434.92 L449.13 436.64 L449.21 438.38 L449.28 440.14 L449.36 441.92 L449.44 443.73 L449.51 445.55 L449.59 447.39 L449.66 449.24 L449.74 451.11 L449.81 452.99 L449.89 454.89 L449.96 456.78 L450.04 458.68 L450.11 460.57 L450.19 462.45 L450.26 464.32 L450.33 466.15 L450.41 467.96 L450.48 469.72 L450.55 471.42 L450.63 473.05 L450.70 474.59 L450.77 476.04 L450.85 477.37 L450.92 478.57 L450.99 479.63 L451.07 480.53 L451.14 481.27 L451.21 481.83 L451.28 482.17 L451.35 482.17 L451.43 482.17 L451.50 482.17 L451.57 482.12 L451.64 481.73 L451.71 481.23 L451.78 480.63 L451.85 479.94 L451.93 479.19 L452.00 478.38 L452.07 477.53 L452.14 476.65 L452.21 475.75 L452.28 474.84 L452.35 473.93 L452.42 473.02 L452.49 472.12 L452.56 471.23 L452.63 470.36 L452.70 469.51 L452.77 468.68 L452.84 467.88 L452.90 467.11 L452.97 466.37 L453.04 465.65 L453.11 464.97 L453.18 464.32 L453.25 463.70 L453.32 463.12 L453.38 462.57 L453.45 462.06 L453.52 461.58 L453.59 461.14 L453.66 460.73 L453.72 460.36 L453.79 460.02 L453.86 459.72 L453.93 459.46 L453.99 459.23 L454.06 459.04 L454.13 458.88 L454.19 458.76 L454.26 458.68 L454.33 458.64 L454.39 458.64 L454.46 458.67 L454.53 458.74 L454.59 458.86 L454.66 459.01 L454.72 459.21 L454.79 459.44 L454.86 459.72 L454.92 460.05 L454.99 460.42 L455.05 460.83 L455.12 461.30 L455.18 461.81 L455.25 462.38 L455.31 462.99 L455.38 463.67 L455.44 464.40 L455.51 465.19 L455.57 466.05 L455.64 466.98 L455.70 467.97 L455.76 469.05 L455.83 470.20 L455.89 471.45 L455.96 472.79 L456.02 474.23 L456.08 475.78 L456.15 477.45 L456.21 479.25 L456.27 481.20 L456.34 482.17 L456.40 482.17 L456.46 482.17 L456.52 482.17 L456.59 482.17 L456.65 482.17 L456.71 482.17 L456.77 482.17 L456.84 482.17 L456.90 482.17 L456.96 482.17 L457.02 482.17 L457.09 482.17 L457.15 482.17 L457.21 482.17 L457.27 482.17 L457.33 482.17 L457.39 482.17 L457.45 482.17 L457.52 482.17 L457.58 482.17 L457.64 482.17 L457.70 482.17 L457.76 480.93 L457.82 479.22 L457.88 477.66 L457.94 476.21 L458.00 474.88 L458.06 473.65 L458.12 472.52 L458.18 471.48 L458.24 470.53 L458.30 469.66 L458.36 468.86 L458.42 468.14 L458.48 467.48 L458.54 466.88 L458.60 466.35 L458.66 465.89 L458.72 465.47 L458.78 465.12 L458.84 464.82 L458.90 464.57 L458.96 464.38 L459.01 464.24 L459.07 464.15 L459.13 464.12 L459.19 464.13 L459.25 464.20 L459.31 464.31 L459.37 464.48 L459.42 464.70 L459.48 464.97 L459.54 465.29 L459.60 465.67 L459.66 466.11 L459.71 466.60 L459.77 467.15 L459.83 467.76 L459.89 468.43 L459.94 469.17 L460.00 469.98 L460.06 470.86 L460.12 471.82 L460.17 472.85 L460.23 473.98 L460.29 475.19 L460.34 476.51 L460.40 477.93 L460.46 479.46 L460.51 481.13 L460.57 482.17 L460.63 482.17 L460.68 482.17 L460.74 482.17 L460.79 482.17 L460.85 482.17 L460.91 482.17 L460.96 482.17 L461.02 482.17 L461.07 482.17 L461.13 482.17 L461.18 482.17 L461.24 482.17 L461.30 482.17 L461.35 482.17 L461.41 482.17 L461.46 482.17 L461.52 482.17 L461.57 482.17 L461.63 482.17 L461.68 482.17 L461.74 482.17 L461.79 482.17 L461.85 482.17 L461.90 482.17 L461.95 482.17 L462.01 481.22 L462.06 479.66 L462.12 478.22 L462.17 476.90 L462.23 475.67 L462.28 474.55 L462.33 473.51 L462.39 472.56 L462.44 471.68 L462.49 470.88 L462.55 470.15 L462.60 469.49 L462.65 468.89 L462.71 468.35 L462.76 467.88 L462.81 467.46 L462.87 467.09 L462.92 466.79 L462.97 466.53 L463.03 466.33 L463.08 466.18 L463.13 466.08 L463.19 466.03 L463.24 466.03 L463.29 466.08 L463.34 466.19 L463.40 466.34 L463.45 466.54 L463.50 466.80 L463.55 467.11 L463.60 467.47 L463.66 467.89 L463.71 468.36 L463.76 468.89 L463.81 469.48 L463.86 470.13 L463.92 470.84 L463.97 471.63 L464.02 472.48 L464.07 473.41 L464.12 474.42 L464.17 475.51 L464.22 476.68 L464.28 477.96 L464.33 479.34 L464.38 480.83 L464.43 482.17 L464.48 482.17 L464.53 482.17 L464.58 482.17 L464.63 482.17 L464.68 482.17 L464.73 482.17 L464.78 482.17 L464.83 482.17 L464.88 482.17 L464.93 482.17 L464.98 482.17 L465.03 482.17 L465.08 482.17 L465.14 482.17 L465.19 482.17 L465.23 482.17 L465.28 482.17 L465.33 482.17 L465.38 482.17 L465.43 482.17 L465.48 482.17 L465.53 482.17 L465.58 482.17 L465.63 482.17 L465.68 482.17 L465.73 482.17 L465.78 482.17 L465.83 482.17 L465.88 480.75 L465.93 479.38 L465.98 478.11 L466.02 476.95 L466.07 475.87 L466.12 474.88 L466.17 473.97 L466.22 473.14 L466.27 472.38 L466.32 471.69 L466.37 471.06 L466.41 470.49 L466.46 469.99 L466.51 469.54 L466.56 469.15 L466.61 468.82 L466.65 468.54 L466.70 468.31 L466.75 468.14 L466.80 468.01 L466.85 467.94 L466.89 467.91 L466.94 467.94 L466.99 468.02 L467.04 468.14 L467.08 468.32 L467.13 468.55 L467.18 468.83 L467.23 469.17 L467.27 469.55 L467.32 469.99 L467.37 470.49 L467.42 471.05 L467.46 471.67 L467.51 472.35 L467.56 473.09 L467.60 473.91 L467.65 474.80 L467.70 475.76 L467.74 476.80 L467.79 477.93 L467.84 479.15 L467.88 480.47 L467.93 481.90 L467.98 482.17 L468.02 482.17 L468.07 482.17 L468.12 482.17 L468.16 482.17 L468.21 482.17 L468.25 482.17 L468.30 482.17 L468.35 482.17 L468.39 482.17 L468.44 482.17 L468.48 482.17 L468.53 482.17 L468.58 482.17 L468.62 482.17 L468.67 482.17 L468.71 482.17 L468.76 482.17 L468.80 482.17 L468.85 482.17 L468.89 482.17 L468.94 482.17 L468.98 482.17 L469.03 482.17 L469.07 482.17 L469.12 482.17 L469.16 482.17 L469.21 482.17 L469.25 482.17 L469.30 482.17 L469.34 481.97 L469.39 480.64 L469.43 479.42 L469.48 478.29 L469.52 477.25 L469.57 476.30 L469.61 475.42 L469.66 474.62 L469.70 473.88 L469.74 473.22 L469.79 472.61 L469.83 472.07 L469.88 471.59 L469.92 471.17 L469.97 470.80 L470.01 470.49 L470.05 470.23 L470.10 470.02 L470.14 469.86 L470.19 469.75 L470.23 469.70 L470.27 469.69 L470.32 469.74 L470.36 469.83 L470.40 469.98 L470.45 470.17 L470.49 470.42 L470.53 470.71 L470.58 471.07 L470.62 471.47 L470.66 471.93 L470.71 472.45 L470.75 473.03 L470.79 473.66 L470.84 474.36 L470.88 475.13 L470.92 475.97 L470.97 476.88 L471.01 477.87 L471.05 478.94 L471.09 480.09 L471.14 481.35 L471.18 482.17 L471.22 482.17 L471.26 482.17 L471.31 482.17 L471.35 482.17 L471.39 482.17 L471.43 482.17 L471.48 482.17 L471.52 482.17 L471.56 482.17 L471.60 482.17 L471.65 482.17 L471.69 482.17 L471.73 482.17 L471.77 482.17 L471.81 482.17 L471.86 482.17 L471.90 482.17 L471.94 482.17 L471.98 482.17 L472.02 482.17 L472.06 482.17 L472.11 482.17 L472.15 482.17 L472.19 482.17 L472.23 482.17 L472.27 482.17 L472.31 482.17 L472.35 482.17 L472.40 482.17 L472.44 482.17 L472.48 482.17 L472.52 482.17 L472.56 481.96 L472.60 480.77 L472.64 479.67 L472.68 478.65 L472.73 477.72 L472.77 476.86 L472.81 476.08 L472.85 475.37 L472.89 474.72 L472.93 474.13 L472.97 473.61 L473.01 473.14 L473.05 472.73 L473.09 472.38 L473.13 472.08 L473.17 471.83 L473.21 471.63 L473.25 471.49 L473.29 471.40 L473.33 471.35 L473.37 471.36 L473.41 471.41 L473.45 471.52 L473.50 471.67 L473.54 471.88 L473.58 472.14 L473.62 472.45 L473.66 472.81 L473.70 473.23 L473.74 473.70 L473.77 474.23 L473.81 474.82 L473.85 475.47 L473.89 476.19 L473.93 476.97 L473.97 477.82 L474.01 478.75 L474.05 479.75 L474.09 480.84 L474.13 482.01 L474.17 482.17 L474.21 482.17 L474.25 482.17 L474.29 482.17 L474.33 482.17 L474.37 482.17 L474.41 482.17 L474.45 482.17 L474.49 482.17 L474.52 482.17 L474.56 482.17 L474.60 482.17 L474.64 482.17 L474.68 482.17 L474.72 482.17 L474.76 482.17 L474.80 482.17 L474.84 482.17 L474.87 482.17 L474.91 482.17 L474.95 482.17 L474.99 482.17 L475.03 482.17 L475.07 482.17 L475.11 482.17 L475.14 482.17 L475.18 482.17 L475.22 482.17 L475.26 482.17 L475.30 482.17 L475.34 482.17 L475.37 482.17 L475.41 482.17 L475.45 482.17 L475.49 482.17 L475.53 482.13 L475.56 481.04 L475.60 480.04 L475.64 479.12 L475.68 478.28 L475.72 477.51 L475.75 476.81 L475.79 476.17 L475.83 475.59 L475.87 475.08 L475.90 474.62 L475.94 474.22 L475.98 473.88 L476.02 473.58 L476.05 473.34 L476.09 473.16 L476.13 473.02 L476.17 472.93 L476.20 472.90 L476.24 472.91 L476.28 472.97 L476.32 473.08 L476.35 473.24 L476.39 473.46 L476.43 473.72 L476.46 474.04 L476.50 474.41 L476.54 474.83 L476.58 475.31 L476.61 475.85 L476.65 476.45 L476.69 477.10 L476.72 477.83 L476.76 478.62 L476.80 479.48 L476.83 480.41 L476.87 481.43 L476.91 482.17 L476.94 482.17 L476.98 482.17 L477.02 482.17 L477.05 482.17 L477.09 482.17 L477.13 482.17 L477.16 482.17 L477.20 482.17 L477.24 482.17 L477.27 482.17 L477.31 482.17 L477.35 482.17 L477.38 482.17 L477.42 482.17 L477.45 482.17 L477.49 482.17 L477.53 482.17 L477.56 482.17 L477.60 482.17 L477.63 482.17 L477.67 482.17 L477.71 482.17 L477.74 482.17 L477.78 482.17 L477.81 482.17 L477.85 482.17 L477.88 482.17 L477.92 482.17 L477.96 482.17 L477.99 482.17 L478.03 482.17 L478.06 482.17 L478.10 482.17 L478.13 482.17 L478.17 482.17 L478.21 482.17 L478.24 482.17 L478.28 482.17 L478.31 481.40 L478.35 480.49 L478.38 479.66 L478.42 478.89 L478.45 478.19 L478.49 477.56 L478.52 476.99 L478.56 476.48 L478.59 476.03 L478.63 475.63 L478.66 475.29 L478.70 475.00 L478.73 474.77 L478.77 474.58 L478.80 474.45 L478.84 474.36 L478.87 474.33 L478.91 474.35 L478.94 474.41 L478.98 474.53 L479.01 474.69 L479.05 474.91 L479.08 475.17 L479.12 475.49 L479.15 475.86 L479.18 476.29 L479.22 476.77 L479.25 477.31 L479.29 477.91 L479.32 478.57 L479.36 479.30 L479.39 480.09 L479.43 480.95 L479.46 481.89 L479.49 482.17 L479.53 482.17 L479.56 482.17 L479.60 482.17 L479.63 482.17 L479.66 482.17 L479.70 482.17 L479.73 482.17 L479.77 482.17 L479.80 482.17 L479.83 482.17 L479.87 482.17 L479.90 482.17 L479.94 482.17 L479.97 482.17 L480.00 482.17 L480.04 482.17 L480.07 482.17 L480.11 482.17 L480.14 482.17 L480.17 482.17 L480.21 482.17 L480.24 482.17 L480.27 482.17 L480.31 482.17 L480.34 482.17 L480.37 482.17 L480.41 482.17 L480.44 482.17 L480.47 482.17 L480.51 482.17 L480.54 482.17 L480.57 482.17 L480.61 482.17 L480.64 482.17 L480.67 482.17 L480.71 482.17 L480.74 482.17 L480.77 482.17 L480.81 482.17 L480.84 482.17 L480.87 481.82 L480.91 480.98 L480.94 480.22 L480.97 479.52 L481.00 478.89 L481.04 478.32 L481.07 477.81 L481.10 477.36 L481.14 476.97 L481.17 476.62 L481.20 476.34 L481.23 476.10 L481.27 475.91 L481.30 475.78 L481.33 475.70 L481.37 475.66 L481.40 475.68 L481.43 475.74 L481.46 475.86 L481.50 476.02 L481.53 476.23 L481.56 476.50 L481.59 476.82 L481.62 477.19 L481.66 477.61 L481.69 478.10 L481.72 478.63 L481.75 479.23 L481.79 479.89 L481.82 480.62 L481.85 481.41 L481.88 482.17 L481.92 482.17 L481.95 482.17 L481.98 482.17 L482.01 482.17 L482.04 482.17 L482.08 482.17 L482.11 482.17 L482.14 482.17 L482.17 482.17 L482.20 482.17 L482.24 482.17 L482.27 482.17 L482.30 482.17 L482.33 482.17 L482.36 482.17 L482.39 482.17 L482.43 482.17 L482.46 482.17 L482.49 482.17 L482.52 482.17 L482.55 482.17 L482.58 482.17 L482.62 482.17 L482.65 482.17 L482.68 482.17 L482.71 482.17 L482.74 482.17 L482.77 482.17 L482.80 482.17 L482.84 482.17 L482.87 482.17 L482.90 482.17 L482.93 482.17 L482.96 482.17 L482.99 482.17 L483.02 482.17 L483.05 482.17 L483.09 482.17 L483.12 482.17 L483.15 482.17 L483.18 482.17 L483.21 482.17 L483.24 482.17 L483.27 482.17 L483.30 481.49 L483.33 480.79 L483.37 480.15 L483.40 479.58 L483.43 479.07 L483.46 478.62 L483.49 478.22 L483.52 477.87 L483.55 477.58 L483.58 477.34 L483.61 477.16 L483.64 477.02 L483.67 476.93 L483.70 476.89 L483.73 476.90 L483.77 476.97 L483.80 477.08 L483.83 477.24 L483.86 477.45 L483.89 477.71 L483.92 478.03 L483.95 478.39 L483.98 478.81 L484.01 479.29 L484.04 479.83 L484.07 480.42 L484.10 481.07 L484.13 481.79 L484.16 482.17 L484.19 482.17 L484.22 482.17 L484.25 482.17 L484.28 482.17 L484.31 482.17 L484.34 482.17 L484.37 482.17 L484.40 482.17 L484.43 482.17 L484.46 482.17 L484.49 482.17 L484.52 482.17 L484.55 482.17 L484.58 482.17 L484.61 482.17 L484.64 482.17 L484.67 482.17 L484.70 482.17 L484.73 482.17 L484.76 482.17 L484.79 482.17 L484.82 482.17 L484.85 482.17 L484.88 482.17 L484.91 482.17 L484.94 482.17 L484.97 482.17 L485.00 482.17 L485.03 482.17 L485.06 482.17 L485.09 482.17 L485.12 482.17 L485.15 482.17 L485.18 482.17 L485.21 482.17 L485.24 482.17 L485.26 482.17 L485.29 482.17 L485.32 482.17 L485.35 482.17 L485.38 482.17 L485.41 482.17 L485.44 482.17 L485.47 482.17 L485.50 482.17 L485.53 482.17 L485.56 481.99 L485.59 481.35 L485.62 480.78 L485.65 480.26 L485.67 479.80 L485.70 479.39 L485.73 479.04 L485.76 478.75 L485.79 478.50 L485.82 478.31 L485.85 478.17 L485.88 478.07 L485.91 478.03 L485.94 478.04 L485.96 478.09 L485.99 478.20 L486.02 478.35 L486.05 478.56 L486.08 478.81 L486.11 479.12 L486.14 479.48 L486.17 479.90 L486.19 480.37 L486.22 480.90 L486.25 481.48 L486.28 482.13 L486.31 482.17 L486.34 482.17 L486.37 482.17 L486.40 482.17 L486.42 482.17 L486.45 482.17 L486.48 482.17 L486.51 482.17 L486.54 482.17 L486.57 482.17 L486.59 482.17 L486.62 482.17 L486.65 482.17 L486.68 482.17 L486.71 482.17 L486.74 482.17 L486.76 482.17 L486.79 482.17 L486.82 482.17 L486.85 482.17 L486.88 482.17 L486.91 482.17 L486.93 482.17 L486.96 482.17 L486.99 482.17 L487.02 482.17 L487.05 482.17 L487.07 482.17 L487.10 482.17 L487.13 482.17 L487.16 482.17 L487.19 482.17 L487.21 482.17 L487.24 482.17 L487.27 482.17 L487.30 482.17 L487.33 482.17 L487.35 482.17 L487.38 482.17 L487.41 482.17 L487.44 482.17 L487.46 482.17 L487.49 482.17 L487.52 482.17 L487.55 482.17 L487.58 482.17 L487.60 482.17 L487.63 482.17 L487.66 482.17 L487.69 482.17 L487.71 481.90 L487.74 481.37 L487.77 480.91 L487.80 480.49 L487.82 480.14 L487.85 479.83 L487.88 479.58 L487.91 479.38 L487.93 479.23 L487.96 479.13 L487.99 479.08 L488.02 479.08 L488.04 479.13 L488.07 479.22 L488.10 479.37 L488.13 479.57 L488.15 479.82 L488.18 480.12 L488.21 480.47 L488.23 480.88 L488.26 481.34 L488.29 481.86 L488.32 482.17 L488.34 482.17 L488.37 482.17 L488.40 482.17 L488.42 482.17 L488.45 482.17 L488.48 482.17 L488.51 482.17 L488.53 482.17 L488.56 482.17 L488.59 482.17 L488.61 482.17 L488.64 482.17 L488.67 482.17 L488.69 482.17 L488.72 482.17 L488.75 482.17 L488.77 482.17 L488.80 482.17 L488.83 482.17 L488.85 482.17 L488.88 482.17 L488.91 482.17 L488.93 482.17 L488.96 482.17 L488.99 482.17 L489.01 482.17 L489.04 482.17 L489.07 482.17 L489.09 482.17 L489.12 482.17 L489.15 482.17 L489.17 482.17 L489.20 482.17 L489.23 482.17 L489.25 482.17 L489.28 482.17 L489.31 482.17 L489.33 482.17 L489.36 482.17 L489.39 482.17 L489.41 482.17 L489.44 482.17 L489.46 482.17 L489.49 482.17 L489.52 482.17 L489.54 482.17 L489.57 482.17 L489.60 482.17 L489.62 482.17 L489.65 482.17 L489.68 482.17 L489.70 482.17 L489.73 482.17 L489.75 481.95 L489.78 481.52 L489.81 481.16 L489.83 480.84 L489.86 480.58 L489.88 480.37 L489.91 480.21 L489.94 480.10 L489.96 480.04 L489.99 480.03 L490.01 480.07 L490.04 480.16 L490.07 480.30 L490.09 480.49 L490.12 480.73 L490.14 481.02 L490.17 481.36 L490.20 481.76 L490.22 482.17 L490.25 482.17 L490.27 482.17 L490.30 482.17 L490.32 482.17 L490.35 482.17 L490.38 482.17 L490.40 482.17 L490.43 482.17 L490.45 482.17 L490.48 482.17 L490.50 482.17 L490.53 482.17 L490.55 482.17 L490.58 482.17 L490.61 482.17 L490.63 482.17 L490.66 482.17 L490.68 482.17 L490.71 482.17 L490.73 482.17 L490.76 482.17 L490.78 482.17 L490.81 482.17 L490.84 482.17 L490.86 482.17 L490.89 482.17 L490.91 482.17 L490.94 482.17 L490.96 482.17 L490.99 482.17 L491.01 482.17 L491.04 482.17 L491.06 482.17 L491.09 482.17 L491.11 482.17 L491.14 482.17 L491.16 482.17 L491.19 482.17 L491.21 482.17 L491.24 482.17 L491.26 482.17 L491.29 482.17 L491.31 482.17 L491.34 482.17 L491.36 482.17 L491.39 482.17 L491.41 482.17 L491.44 482.17 L491.46 482.17 L491.49 482.17 L491.51 482.17 L491.54 482.17 L491.56 482.17 L491.59 482.17 L491.61 482.17 L491.64 482.17 L491.66 482.17 L491.69 482.11 L491.71 481.78 L491.74 481.51 L491.76 481.29 L491.79 481.12 L491.81 481.00 L491.84 480.93 L491.86 480.91 L491.89 480.94 L491.91 481.02 L491.94 481.14 L491.96 481.32 L491.99 481.55 L492.01 481.83 L492.04 482.16 L492.06 482.17 L492.08 482.17 L492.11 482.17 L492.13 482.17 L492.16 482.17 L492.18 482.17 L492.21 482.17 L492.23 482.17 L492.26 482.17 L492.28 482.17 L492.30 482.17 L492.33 482.17 L492.35 482.17 L492.38 482.17 L492.40 482.17 L492.43 482.17 L492.45 482.17 L492.48 482.17 L492.50 482.17 L492.52 482.17 L492.55 482.17 L492.57 482.17 L492.60 482.17 L492.62 482.17 L492.65 482.17 L492.67 482.17 L492.69 482.17 L492.72 482.17 L492.74 482.17 L492.77 482.17 L492.79 482.17 L492.81 482.17 L492.84 482.17 L492.86 482.17 L492.89 482.17 L492.91 482.17 L492.93 482.17 L492.96 482.17 L492.98 482.17 L493.01 482.17 L493.03 482.17 L493.05 482.17 L493.08 482.17 L493.10 482.17 L493.13 482.17 L493.15 482.17 L493.17 482.17 L493.20 482.17 L493.22 482.17 L493.25 482.17 L493.27 482.17 L493.29 482.17 L493.32 482.17 L493.34 482.17 L493.36 482.17 L493.39 482.17 L493.41 482.17 L493.44 482.17 L493.46 482.17 L493.48 482.17 L493.51 482.17 L493.53 482.17 L493.55 482.14 L493.58 481.96 L493.60 481.83 L493.63 481.74 L493.65 481.71 L493.67 481.73 L493.70 481.79 L493.72 481.91 L493.74 482.07 L493.77 482.17 L493.79 482.17 L493.81 482.17 L493.84 482.17 L493.86 482.17 L493.88 482.17 L493.91 482.17 L493.93 482.17 L493.95 482.17 L493.98 482.17 L494.00 482.17 L494.02 482.17 L494.05 482.17 L494.07 482.17 L494.09 482.17 L494.12 482.17 L494.14 482.17 L494.16 482.17 L494.19 482.17 L494.21 482.17 L494.23 482.17 L494.26 482.17 L494.28 482.17 L494.30 482.17 L494.33 482.17 L494.35 482.17 L494.37 482.17 L494.40 482.17 L494.42 482.17 L494.44 482.17 L494.47 482.17 L494.49 482.17 L494.51 482.17 L494.53 482.17 L494.56 482.17 L494.58 482.17 L494.60 482.17 L494.63 482.17 L494.65 482.17 L494.67 482.17 L494.70 482.17 L494.72 482.17 L494.74 482.17 L494.76 482.17 L494.79 482.17 L494.81 482.17 L494.83 482.17 L494.86 482.17 L494.88 482.17 L494.90 482.17 L494.92 482.17 L494.95 482.17 L494.97 482.17 L494.99 482.17 L495.01 482.17 L495.04 482.17 L495.06 482.17 L495.08 482.17 L495.11 482.17 L495.13 482.17 L495.15 482.17 L495.17 482.17 L495.20 482.17 L495.22 482.17 L495.24 482.17 L495.26 482.17 L495.29 482.17 L495.31 482.17 L495.33 482.17 L495.35 482.17 L495.38 482.17 L495.40 482.17 L495.42 482.17 L495.44 482.17 L495.47 482.17 L495.49 482.17 L495.51 482.17 L495.53 482.17 L495.56 482.17 L495.58 482.17 L495.60 482.17 L495.62 482.17 L495.65 482.17 L495.67 482.17 L495.69 482.17 L495.71 482.17 L495.74 482.17 L495.76 482.17 L495.78 482.17 L495.80 482.17 L495.82 482.17 L495.85 482.17 L495.87 482.17 L495.89 482.17 L495.91 482.17 L495.94 482.17 L495.96 482.17 L495.98 482.17 L496.00 482.17 L496.02 482.17 L496.05 482.17 L496.07 482.17 L496.09 482.17 L496.11 482.17 L496.14 482.17 L496.16 482.17 L496.18 482.17 L496.20 482.17 L496.22 482.17 L496.25 482.17 L496.27 482.17 L496.29 482.17 L496.31 482.17 L496.33 482.17 L496.36 482.17 L496.38 482.17 L496.40 482.17 L496.42 482.17 L496.44 482.17 L496.47 482.17 L496.49 482.17 L496.51 482.17 L496.53 482.17 L496.55 482.17 L496.57 482.17 L496.60 482.17 L496.62 482.17 L496.64 482.17 L496.66 482.17 L496.68 482.17 L496.71 482.17 L496.73 482.17 L496.75 482.17 L496.77 482.17 L496.79 482.17 L496.81 482.17 L496.84 482.17 L496.86 482.17 L496.88 482.17 L496.90 482.17 L496.92 482.17 L496.94 482.17 L496.97 482.17 L496.99 482.17 L497.01 482.17 L497.03 482.17 L497.05 482.17 L497.07 482.17 L497.09 482.17 L497.12 482.17 L497.14 482.17 L497.16 482.17 L497.18 482.17 L497.20 482.17 L497.22 482.17 L497.25 482.17 L497.27 482.17 L497.29 482.17 L497.31 482.17 L497.33 482.17 L497.35 482.17 L497.37 482.17 L497.39 482.17 L497.42 482.17 L497.44 482.17 L497.46 482.17 L497.48 482.17 L497.50 482.17 L497.52 482.17 L497.54 482.17 L497.57 482.17 L497.59 482.17 L497.61 482.17 L497.63 482.17 L497.65 482.17 L497.67 482.17 L497.69 482.17 L497.71 482.17 L497.74 482.17 L497.76 482.17 L497.78 482.17 L497.80 482.17 L497.82 482.17 L497.84 482.17 L497.86 482.17 L497.88 482.17 L497.90 482.17 L497.93 482.17 L497.95 482.17 L497.97 482.17 L497.99 482.17 L498.01 482.17 L498.03 482.17 L498.05 482.17 L498.07 482.17 L498.09 482.17 L498.11 482.17 L498.14 482.17 L498.16 482.17 L498.18 482.17 L498.20 482.17 L498.22 482.17 L498.24 482.17 L498.26 482.17 L498.28 482.17 L498.30 482.17 L498.32 482.17 L498.34 482.17 L498.36 482.17 L498.39 482.17 L498.41 482.17 L498.43 482.17 L498.45 482.17 L498.47 482.17 L498.49 482.17 L498.51 482.17 L498.53 482.17 L498.55 482.17 L498.57 482.17 L498.59 482.17 L498.61 482.17 L498.63 482.17 L498.66 482.17 L498.68 482.17 L498.70 482.17 L498.72 482.17 L498.74 482.17 L498.76 482.17 L498.78 482.17 L498.80 482.17 L498.82 482.17 L498.84 482.17 L498.86 482.17 L498.88 482.17 L498.90 482.17 L498.92 482.17 L498.94 482.17 L498.96 482.17 L498.98 482.17 L499.00 482.17 L499.03 482.17 L499.05 482.17 L499.07 482.17 L499.09 482.17 L499.11 482.17 L499.13 482.17 L499.15 482.17 L499.17 482.17 L499.19 482.17 L499.21 482.17 L499.23 482.17 L499.25 482.17 L499.27 482.17 L499.29 482.17 L499.31 482.17 L499.33 482.17 L499.35 482.17 L499.37 482.17 L499.39 482.17 L499.41 482.17 L499.43 482.17 L499.45 482.17 L499.47 482.17 L499.49 482.17 L499.51 482.17 L499.53 482.17 L499.55 482.17 L499.57 482.17 L499.59 482.17 L499.61 482.17 L499.63 482.17 L499.65 482.17 L499.67 482.17 L499.69 482.17 L499.71 482.17 L499.73 482.17 L499.75 482.17 L499.78 482.17 L499.80 482.17 L499.82 482.17 L499.84 482.17 L499.86 482.17 L499.88 482.17 L499.90 482.17 L499.92 482.17 L499.94 482.17 L499.96 482.17 L499.98 482.17 L500.00 482.17 L500.01 482.17 L500.03 482.17 L500.05 482.17 L500.07 482.17 L500.09 482.17 L500.11 482.17 L500.13 482.17 L500.15 482.17 L500.17 482.17 L500.19 482.17 L500.21 482.17 L500.23 482.17 L500.25 482.17 L500.27 482.17 L500.29 482.17 L500.31 482.17 L500.33 482.17 L500.35 482.17 L500.37 482.17 L500.39 482.17 L500.41 482.17 L500.43 482.17 L500.45 482.17 L500.47 482.17 L500.49 482.17 L500.51 482.17 L500.53 482.17 L500.55 482.17 L500.57 482.17 L500.59 482.17 L500.61 482.17 L500.63 482.17 L500.65 482.17 L500.67 482.17 L500.69 482.17 L500.71 482.17 L500.73 482.17 L500.75 482.17 L500.77 482.17 L500.78 482.17 L500.80 482.17 L500.82 482.17 L500.84 482.17 L500.86 482.17 L500.88 482.17 L500.90 482.17 L500.92 482.17 L500.94 482.17 L500.96 482.17 L500.98 482.17 L501.00 482.17 L501.02 482.17 L501.04 482.17 L501.06 482.17 L501.08 482.17 L501.10 482.17 L501.12 482.17 L501.13 482.17 L501.15 482.17 L501.17 482.17 L501.19 482.17 L501.21 482.17 L501.23 482.17 L501.25 482.17 L501.27 482.17 L501.29 482.17 L501.31 482.17 L501.33 482.17 L501.35 482.17 L501.37 482.17 L501.39 482.17 L501.40 482.17 L501.42 482.17 L501.44 482.17 L501.46 482.17 L501.48 482.17 L501.50 482.17 L501.52 482.17 L501.54 482.17 L501.56 482.17 L501.58 482.17 L501.60 482.17 L501.62 482.17 L501.63 482.17 L501.65 482.17 L501.67 482.17 L501.69 482.17 L501.71 482.17 L501.73 482.17 L501.75 482.17 L501.77 482.17 L501.79 482.17 L501.81 482.17 L501.82 482.17 L501.84 482.17 L501.86 482.17 L501.88 482.17 L501.90 482.17 L501.92 482.17 L501.94 482.17 L501.96 482.17 L501.98 482.17 L502.00 482.17 L502.01 482.17 L502.03 482.17 L502.05 482.17 L502.07 482.17 L502.09 482.17 L502.11 482.17 L502.13 482.17 L502.15 482.17 L502.17 482.17 L502.18 482.17 L502.20 482.17 L502.22 482.17 L502.24 482.17 L502.26 482.17 L502.28 482.17 L502.30 482.17 L502.32 482.17 L502.33 482.17 L502.35 482.17 L502.37 482.17 L502.39 482.17 L502.41 482.17 L502.43 482.17 L502.45 482.17 L502.47 482.17 L502.48 482.17 L502.50 482.17 L502.52 482.17 L502.54 482.17 L502.56 482.17 L502.58 482.17 L502.60 482.17 L502.61 482.17 L502.63 482.17 L502.65 482.17 L502.67 482.17 L502.69 482.17 L502.71 482.17 L502.73 482.17 L502.74 482.17 L502.76 482.17 L502.78 482.17 L502.80 482.17 L502.82 482.17 L502.84 482.17 L502.86 482.17 L502.87 482.17 L502.89 482.17 L502.91 482.17 L502.93 482.17 L502.95 482.17 L502.97 482.17 L502.99 482.17 L503.00 482.17 L503.02 482.17 L503.04 482.17 L503.06 482.17 L503.08 482.17 L503.10 482.17 L503.11 482.17 L503.13 482.17 L503.15 482.17 L503.17 482.17 L503.19 482.17 L503.21 482.17 L503.22 482.17 L503.24 482.17 L503.26 482.17 L503.28 482.17 L503.30 482.17 L503.32 482.17 L503.33 482.17 L503.35 482.17 L503.37 482.17 L503.39 482.17 L503.41 482.17 L503.43 482.17 L503.44 482.17 L503.46 482.17 L503.48 482.17 L503.50 482.17 L503.52 482.17 L503.53 482.17 L503.55 482.17 L503.57 482.17 L503.59 482.17 L503.61 482.17 L503.62 482.17 L503.64 482.17 L503.66 482.17 L503.68 482.17 L503.70 482.17 L503.72 482.17 L503.73 482.17 L503.75 482.17 L503.77 482.17 L503.79 482.17 L503.81 482.17 L503.82 482.17 L503.84 482.17 L503.86 482.17 L503.88 482.17 L503.90 482.17 L503.91 482.17 L503.93 482.17 L503.95 482.17 L503.97 482.17 L503.99 482.17 L504.00 482.17 L504.02 482.17 L504.04 482.17 L504.06 482.17 L504.08 482.17 L504.09 482.17 L504.11 482.17 L504.13 482.17 L504.15 482.17 L504.16 482.17 L504.18 482.17 L504.20 482.17 L504.22 482.17 L504.24 482.17 L504.25 482.17 L504.27 482.17 L504.29 482.17 L504.31 482.17 L504.33 482.17 L504.34 482.17 L504.36 482.17 L504.38 482.17 L504.40 482.17 L504.41 482.17 L504.43 482.17 L504.45 482.17 L504.47 482.17 L504.49 482.17 L504.50 482.17 L504.52 482.17 L504.54 482.17 L504.56 482.17 L504.57 482.17 L504.59 482.17 L504.61 482.17 L504.63 482.17 L504.64 482.17 L504.66 482.17 L504.68 482.17 L504.70 482.17 L504.71 482.17 L504.73 482.17 L504.75 482.17 L504.77 482.17 L504.79 482.17 L504.80 482.17 L504.82 482.17 L504.84 482.17 L504.86 482.17 L504.87 482.17 L504.89 482.17 L504.91 482.17 L504.93 482.17 L504.94 482.17 L504.96 482.17 L504.98 482.17 L505.00 482.17 L505.01 482.17 L505.03 482.17 L505.05 482.17 L505.07 482.17 L505.08 482.17 L505.10 482.17 L505.12 482.17 L505.13 482.17 L505.15 482.17 L505.17 482.17 L505.19 482.17 L505.20 482.17 L505.22 482.17 L505.24 482.17 L505.26 482.17 L505.27 482.17 L505.29 482.17 L505.31 482.17 L505.33 482.17 L505.34 482.17 L505.36 482.17 L505.38 482.17 L505.40 482.17 L505.41 482.17 L505.43 482.17 L505.45 482.17 L505.46 482.17 L505.48 482.17 L505.50 482.17 L505.52 482.17 L505.53 482.17 L505.55 482.17 L505.57 482.17 L505.59 482.17 L505.60 482.17 L505.62 482.17 L505.64 482.17 L505.65 482.17 L505.67 482.17 L505.69 482.17 L505.71 482.17 L505.72 482.17 L505.74 482.17 L505.76 482.17 L505.77 482.17 L505.79 482.17 L505.81 482.17 L505.83 482.17 L505.84 482.17 L505.86 482.17 L505.88 482.17 L505.89 482.17 L505.91 482.17 L505.93 482.17 L505.94 482.17 L505.96 482.17 L505.98 482.17 L506.00 482.17 L506.01 482.17 L506.03 482.17 L506.05 482.17 L506.06 482.17 L506.08 482.17 L506.10 482.17 L506.11 482.17 L506.13 482.17 L506.15 482.17 L506.17 482.17 L506.18 482.17 L506.20 482.17 L506.22 482.17 L506.23 482.17 L506.25 482.17 L506.27 482.17 L506.28 482.17 L506.30 482.17 L506.32 482.17 L506.33 482.17 L506.35 482.17 L506.37 482.17 L506.39 482.17 L506.40 482.17 L506.42 482.17 L506.44 482.17 L506.45 482.17 L506.47 482.17 L506.49 482.17 L506.50 482.17 L506.52 482.17 L506.54 482.17 L506.55 482.17 L506.57 482.17 L506.59 482.17 L506.60 482.17 L506.62 482.17 L506.64 482.17 L506.65 482.17 L506.67 482.17 L506.69 482.17 L506.70 482.17 L506.72 482.17 L506.74 482.17 L506.75 482.17 L506.77 482.17 L506.79 482.17 L506.80 482.17 L506.82 482.17 L506.84 482.17 L506.85 482.17 L506.87 482.17 L506.89 482.17 L506.90 482.17 L506.92 482.17 L506.94 482.17 L506.95 482.17 L506.97 482.17 L506.99 482.17 L507.00 482.17 L507.02 482.17 L507.04 482.17 L507.05 482.17 L507.07 482.17 L507.09 482.17 L507.10 482.17 L507.12 482.17 L507.14 482.17 L507.15 482.17 L507.17 482.17 L507.19 482.17 L507.20 482.17 L507.22 482.17 L507.24 482.17 L507.25 482.17 L507.27 482.17 L507.28 482.17 L507.30 482.17 L507.32 482.17 L507.33 482.17 L507.35 482.17 L507.37 482.17 L507.38 482.17 L507.40 482.17 L507.42 482.17 L507.43 482.17 L507.45 482.17 L507.47 482.17 L507.48 482.17 L507.50 482.17 L507.51 482.17 L507.53 482.17 L507.55 482.17 L507.56 482.17 L507.58 482.17 L507.60 482.17 L507.61 482.17 L507.63 482.17 L507.64 482.17 L507.66 482.17 L507.68 482.17 L507.69 482.17 L507.71 482.17 L507.73 482.17 L507.74 482.17 L507.76 482.17 L507.78 482.17 L507.79 482.17 L507.81 482.17 L507.82 482.17 L507.84 482.17 L507.86 482.17 L507.87 482.17 L507.89 482.17 L507.90 482.17 L507.92 482.17 L507.94 482.17 L507.95 482.17 L507.97 482.17 L507.99 482.17 L508.00 482.17 L508.02 482.17 L508.03 482.17 L508.05 482.17 L508.07 482.17 L508.08 482.17 L508.10 482.17 L508.11 482.17 L508.13 482.17 L508.15 482.17 L508.16 482.17 L508.18 482.17 L508.20 482.17 L508.21 482.17 L508.23 482.17 L508.24 482.17 L508.26 482.17 L508.28 482.17 L508.29 482.17 L508.31 482.17 L508.32 482.17 L508.34 482.17 L508.36 482.17 L508.37 482.17 L508.39 482.17 L508.40 482.17 L508.42 482.17 L508.44 482.17 L508.45 482.17 L508.47 482.17 L508.48 482.17 L508.50 482.17 L508.52 482.17 L508.53 482.17 L508.55 482.17 L508.56 482.17 L508.58 482.17 L508.59 482.17 L508.61 482.17 L508.63 482.17 L508.64 482.17 L508.66 482.17 L508.67 482.17 L508.69 482.17 L508.71 482.17 L508.72 482.17 L508.74 482.17 L508.75 482.17 L508.77 482.17 L508.78 482.17 L508.80 482.17 L508.82 482.17 L508.83 482.17 L508.85 482.17 L508.86 482.17 L508.88 482.17 L508.90 482.17 L508.91 482.17 L508.93 482.17 L508.94 482.17 L508.96 482.17 L508.97 482.17 L508.99 482.17 L509.01 482.17 L509.02 482.17 L509.04 482.17 L509.05 482.17 L509.07 482.17 L509.08 482.17 L509.10 482.17 L509.12 482.17 L509.13 482.17 L509.15 482.17 L509.16 482.17 L509.18 482.17 L509.19 482.17 L509.21 482.17 L509.23 482.17 L509.24 482.17 L509.26 482.17 L509.27 482.17 L509.29 482.17 L509.30 482.17 L509.32 482.17 L509.33 482.17 L509.35 482.17 L509.37 482.17 L509.38 482.17 L509.40 482.17 L509.41 482.17 L509.43 482.17 L509.44 482.17 L509.46 482.17 L509.47 482.17 L509.49 482.17 L509.51 482.17 L509.52 482.17 L509.54 482.17 L509.55 482.17 L509.57 482.17 L509.58 482.17 L509.60 482.17 L509.61 482.17 L509.63 482.17 L509.65 482.17 L509.66 482.17 L509.68 482.17 L509.69 482.17 L509.71 482.17 L509.72 482.17 L509.74 482.17 L509.75 482.17 L509.77 482.17 L509.78 482.17 L509.80 482.17 L509.81 482.17 L509.83 482.17 L509.85 482.17 L509.86 482.17 L509.88 482.17 L509.89 482.17 L509.91 482.17 L509.92 482.17 L509.94 482.17 L509.95 482.17 L509.97 482.17 L509.98 482.17 L510.00 482.17 L510.01 482.17 L510.03 482.17 L510.04 482.17 L510.06 482.17 L510.08 482.17 L510.09 482.17 L510.11 482.17 L510.12 482.17 L510.14 482.17 L510.15 482.17 L510.17 482.17 L510.18 482.17 L510.20 482.17 L510.21 482.17 L510.23 482.17 L510.24 482.17 L510.26 482.17 L510.27 482.17 L510.29 482.17 L510.30 482.17 L510.32 482.17 L510.33 482.17 L510.35 482.17 L510.36 482.17 L510.38 482.17" fill="none" stroke="#42a12a" stroke-width="2.05" stroke-linejoin="round"/>
</g>
<text x="275.96" y="365.4" font-size="10" text-anchor="middle" fill="#111">10<tspan font-size="7.3" dy="-4.8">−1</tspan></text>
<text x="363.26" y="365.4" font-size="10" text-anchor="middle" fill="#111">10<tspan font-size="7.3" dy="-4.8">0</tspan></text>
<text x="450.56" y="365.4" font-size="10" text-anchor="middle" fill="#111">10<tspan font-size="7.3" dy="-4.8">1</tspan></text>
<text x="536.5" y="94.40" font-size="10" text-anchor="end" fill="#111">10<tspan font-size="7.3" dy="-4.8">1</tspan></text>
<text x="536.5" y="159.76" font-size="10" text-anchor="end" fill="#111">10<tspan font-size="7.3" dy="-4.8">0</tspan></text>
<text x="536.5" y="225.12" font-size="10" text-anchor="end" fill="#111">10<tspan font-size="7.3" dy="-4.8">−1</tspan></text>
<text x="536.5" y="290.49" font-size="10" text-anchor="end" fill="#111">10<tspan font-size="7.3" dy="-4.8">−2</tspan></text>
<text x="536.5" y="355.85" font-size="10" text-anchor="end" fill="#111">10<tspan font-size="7.3" dy="-4.8">−3</tspan></text>
</svg></body></html>
